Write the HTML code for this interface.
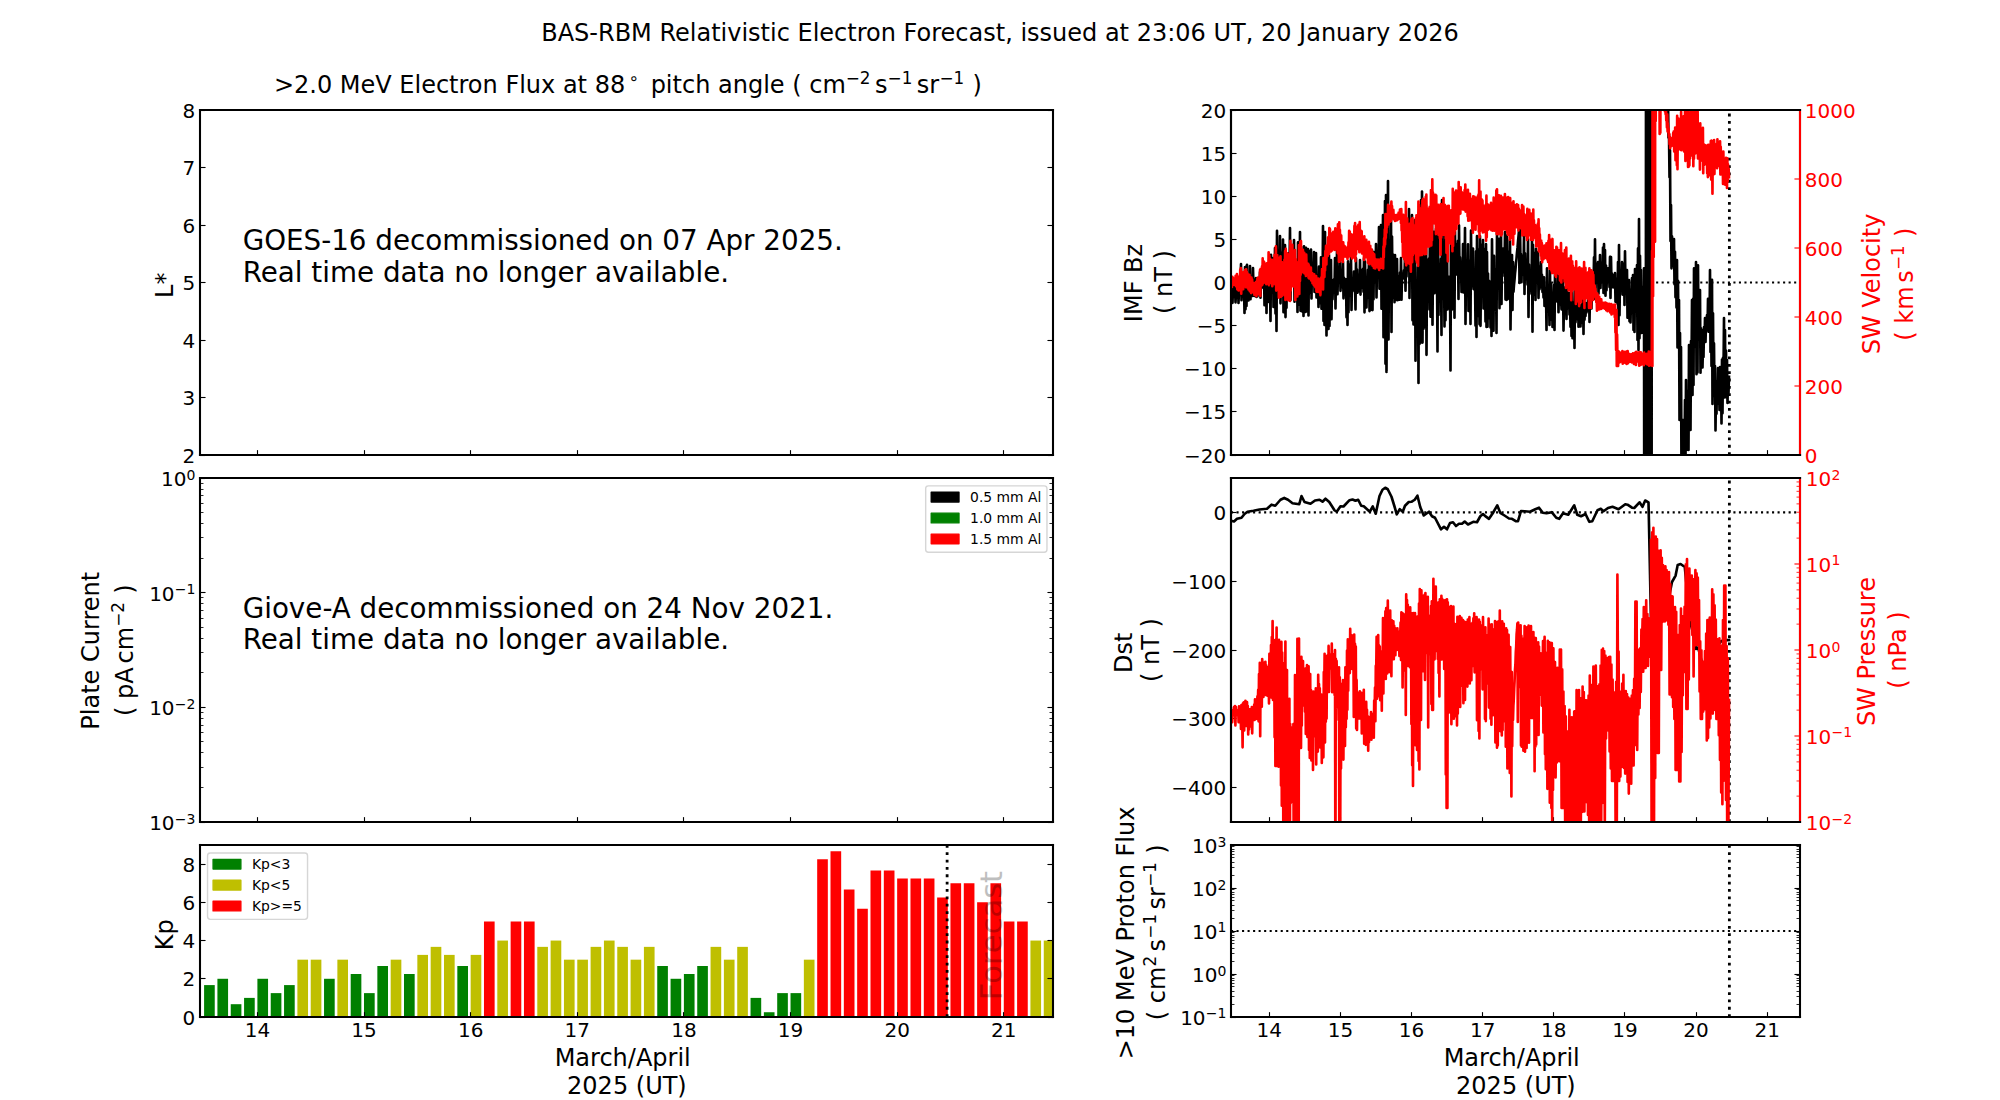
<!DOCTYPE html>
<html lang="en"><head><meta charset="utf-8"><title>BAS-RBM Relativistic Electron Forecast</title>
<style>html,body{margin:0;padding:0;background:#fff}svg{display:block}</style></head>
<body>
<svg width="2000" height="1100" viewBox="0 0 1440 792">
<defs>
<style type="text/css">*{stroke-linejoin: round; stroke-linecap: butt}</style>
</defs>
<g id="figure_1">
<g id="patch_1">
<path d="M 0 792 L 1440 792 L 1440 0 L 0 0 z
" style="fill: #ffffff"/>
</g>
<g id="axes_1">
<g id="patch_2">
<path d="M 144 327.6 L 758.16 327.6 L 758.16 79.2 L 144 79.2 z
" style="fill: #ffffff"/>
</g>
<g id="matplotlib.axis_1">
<g id="xtick_1">
<g id="line2d_1">
<g>
<path d="M 185.400 327.600 L 185.400 324.100" style="stroke: #000000; stroke-width: 0.8"/>
</g>
</g>
</g>
<g id="xtick_2">
<g id="line2d_2">
<g>
<path d="M 262.440 327.600 L 262.440 324.100" style="stroke: #000000; stroke-width: 0.8"/>
</g>
</g>
</g>
<g id="xtick_3">
<g id="line2d_3">
<g>
<path d="M 338.760 327.600 L 338.760 324.100" style="stroke: #000000; stroke-width: 0.8"/>
</g>
</g>
</g>
<g id="xtick_4">
<g id="line2d_4">
<g>
<path d="M 415.800 327.600 L 415.800 324.100" style="stroke: #000000; stroke-width: 0.8"/>
</g>
</g>
</g>
<g id="xtick_5">
<g id="line2d_5">
<g>
<path d="M 492.120 327.600 L 492.120 324.100" style="stroke: #000000; stroke-width: 0.8"/>
</g>
</g>
</g>
<g id="xtick_6">
<g id="line2d_6">
<g>
<path d="M 569.160 327.600 L 569.160 324.100" style="stroke: #000000; stroke-width: 0.8"/>
</g>
</g>
</g>
<g id="xtick_7">
<g id="line2d_7">
<g>
<path d="M 646.200 327.600 L 646.200 324.100" style="stroke: #000000; stroke-width: 0.8"/>
</g>
</g>
</g>
<g id="xtick_8">
<g id="line2d_8">
<g>
<path d="M 722.520 327.600 L 722.520 324.100" style="stroke: #000000; stroke-width: 0.8"/>
</g>
</g>
</g>
</g>
<g id="matplotlib.axis_2">
<g id="ytick_1">
<g id="line2d_9">
<g>
<path d="M 144.000 327.960 L 148.000 327.960" style="stroke: #000000; stroke-width: 0.8"/>
</g>
</g>
<g id="line2d_10">
<g>
<path d="M 758.160 327.960 L 754.160 327.960" style="stroke: #000000; stroke-width: 0.8"/>
</g>
</g>
<g id="text_1">
<text style="font-size: 14.4px; font-family: 'DejaVu Sans', sans-serif; text-anchor: end" x="140.5" y="333.070" transform="rotate(-0 140.5 333.070)">2</text>
</g>
</g>
<g id="ytick_2">
<g id="line2d_11">
<g>
<path d="M 144.000 286.200 L 148.000 286.200" style="stroke: #000000; stroke-width: 0.8"/>
</g>
</g>
<g id="line2d_12">
<g>
<path d="M 758.160 286.200 L 754.160 286.200" style="stroke: #000000; stroke-width: 0.8"/>
</g>
</g>
<g id="text_2">
<text style="font-size: 14.4px; font-family: 'DejaVu Sans', sans-serif; text-anchor: end" x="140.5" y="291.670" transform="rotate(-0 140.5 291.670)">3</text>
</g>
</g>
<g id="ytick_3">
<g id="line2d_13">
<g>
<path d="M 144.000 245.160 L 148.000 245.160" style="stroke: #000000; stroke-width: 0.8"/>
</g>
</g>
<g id="line2d_14">
<g>
<path d="M 758.160 245.160 L 754.160 245.160" style="stroke: #000000; stroke-width: 0.8"/>
</g>
</g>
<g id="text_3">
<text style="font-size: 14.4px; font-family: 'DejaVu Sans', sans-serif; text-anchor: end" x="140.5" y="250.270" transform="rotate(-0 140.5 250.270)">4</text>
</g>
</g>
<g id="ytick_4">
<g id="line2d_15">
<g>
<path d="M 144.000 203.400 L 148.000 203.400" style="stroke: #000000; stroke-width: 0.8"/>
</g>
</g>
<g id="line2d_16">
<g>
<path d="M 758.160 203.400 L 754.160 203.400" style="stroke: #000000; stroke-width: 0.8"/>
</g>
</g>
<g id="text_4">
<text style="font-size: 14.4px; font-family: 'DejaVu Sans', sans-serif; text-anchor: end" x="140.5" y="208.870" transform="rotate(-0 140.5 208.870)">5</text>
</g>
</g>
<g id="ytick_5">
<g id="line2d_17">
<g>
<path d="M 144.000 162.360 L 148.000 162.360" style="stroke: #000000; stroke-width: 0.8"/>
</g>
</g>
<g id="line2d_18">
<g>
<path d="M 758.160 162.360 L 754.160 162.360" style="stroke: #000000; stroke-width: 0.8"/>
</g>
</g>
<g id="text_5">
<text style="font-size: 14.4px; font-family: 'DejaVu Sans', sans-serif; text-anchor: end" x="140.5" y="167.470" transform="rotate(-0 140.5 167.470)">6</text>
</g>
</g>
<g id="ytick_6">
<g id="line2d_19">
<g>
<path d="M 144.000 120.600 L 148.000 120.600" style="stroke: #000000; stroke-width: 0.8"/>
</g>
</g>
<g id="line2d_20">
<g>
<path d="M 758.160 120.600 L 754.160 120.600" style="stroke: #000000; stroke-width: 0.8"/>
</g>
</g>
<g id="text_6">
<text style="font-size: 14.4px; font-family: 'DejaVu Sans', sans-serif; text-anchor: end" x="140.5" y="126.070" transform="rotate(-0 140.5 126.070)">7</text>
</g>
</g>
<g id="ytick_7">
<g id="line2d_21">
<g>
<path d="M 144.000 79.560 L 148.000 79.560" style="stroke: #000000; stroke-width: 0.8"/>
</g>
</g>
<g id="line2d_22">
<g>
<path d="M 758.160 79.560 L 754.160 79.560" style="stroke: #000000; stroke-width: 0.8"/>
</g>
</g>
<g id="text_7">
<text style="font-size: 14.4px; font-family: 'DejaVu Sans', sans-serif; text-anchor: end" x="140.5" y="84.670" transform="rotate(-0 140.5 84.670)">8</text>
</g>
</g>
<g id="text_8">
<text style="font-size: 17.28px; font-family: 'DejaVu Sans', sans-serif; text-anchor: middle" x="124.464" y="205.344" transform="rotate(-90 124.464 205.344)">L*</text>
</g>
</g>
<g id="patch_3">
<path d="M 144 327.6 L 144 79.2 
" style="fill: none; stroke: #000000; stroke-width: 1.5; stroke-linejoin: miter; stroke-linecap: square"/>
</g>
<g id="patch_4">
<path d="M 758.16 327.6 L 758.16 79.2 
" style="fill: none; stroke: #000000; stroke-width: 1.5; stroke-linejoin: miter; stroke-linecap: square"/>
</g>
<g id="patch_5">
<path d="M 144 327.6 L 758.16 327.6 
" style="fill: none; stroke: #000000; stroke-width: 1.5; stroke-linejoin: miter; stroke-linecap: square"/>
</g>
<g id="patch_6">
<path d="M 144 79.2 L 758.16 79.2 
" style="fill: none; stroke: #000000; stroke-width: 1.5; stroke-linejoin: miter; stroke-linecap: square"/>
</g>
<g id="text_9">
<text style="font-size: 20px; font-family: 'DejaVu Sans', sans-serif" transform="translate(174.708 180.332)">GOES-16 decommissioned on 07 Apr 2025.</text>
<text style="font-size: 20px; font-family: 'DejaVu Sans', sans-serif" transform="translate(174.708 202.728)">Real time data no longer available.</text>
</g>
<g id="text_10">
<g transform="translate(197.208 67.68)">
<text xml:space="preserve"><tspan x="0.00" y="-0.654" style="font-size: 17.28px; font-family: 'DejaVu Sans', sans-serif">&gt;2.0 MeV Electron Flux at 88</tspan><tspan x="255.39" y="-7.162" style="font-size: 12.096px; font-family: 'DejaVu Sans', sans-serif">∘</tspan><tspan x="265.76" y="-0.654" style="font-size: 17.28px; font-family: 'DejaVu Sans', sans-serif"> pitch angle ( cm</tspan><tspan x="411.66" y="-7.162" style="font-size: 12.096px; font-family: 'DejaVu Sans', sans-serif">−2</tspan><tspan x="432.72" y="-0.654" style="font-size: 17.28px; font-family: 'DejaVu Sans', sans-serif">s</tspan><tspan x="441.87" y="-7.162" style="font-size: 12.096px; font-family: 'DejaVu Sans', sans-serif">−1</tspan><tspan x="462.94" y="-0.654" style="font-size: 17.28px; font-family: 'DejaVu Sans', sans-serif">sr</tspan><tspan x="479.18" y="-7.162" style="font-size: 12.096px; font-family: 'DejaVu Sans', sans-serif">−1</tspan><tspan x="497.44" y="-0.654" style="font-size: 17.28px; font-family: 'DejaVu Sans', sans-serif"> )</tspan></text>
</g>
</g>
</g>
<g id="axes_2">
<g id="patch_7">
<path d="M 144 591.84 L 758.16 591.84 L 758.16 344.16 L 144 344.16 z
" style="fill: #ffffff"/>
</g>
<g id="matplotlib.axis_3">
<g id="xtick_9">
<g id="line2d_23">
<g>
<path d="M 185.400 591.840 L 185.400 588.340" style="stroke: #000000; stroke-width: 0.8"/>
</g>
</g>
</g>
<g id="xtick_10">
<g id="line2d_24">
<g>
<path d="M 262.440 591.840 L 262.440 588.340" style="stroke: #000000; stroke-width: 0.8"/>
</g>
</g>
</g>
<g id="xtick_11">
<g id="line2d_25">
<g>
<path d="M 338.760 591.840 L 338.760 588.340" style="stroke: #000000; stroke-width: 0.8"/>
</g>
</g>
</g>
<g id="xtick_12">
<g id="line2d_26">
<g>
<path d="M 415.800 591.840 L 415.800 588.340" style="stroke: #000000; stroke-width: 0.8"/>
</g>
</g>
</g>
<g id="xtick_13">
<g id="line2d_27">
<g>
<path d="M 492.120 591.840 L 492.120 588.340" style="stroke: #000000; stroke-width: 0.8"/>
</g>
</g>
</g>
<g id="xtick_14">
<g id="line2d_28">
<g>
<path d="M 569.160 591.840 L 569.160 588.340" style="stroke: #000000; stroke-width: 0.8"/>
</g>
</g>
</g>
<g id="xtick_15">
<g id="line2d_29">
<g>
<path d="M 646.200 591.840 L 646.200 588.340" style="stroke: #000000; stroke-width: 0.8"/>
</g>
</g>
</g>
<g id="xtick_16">
<g id="line2d_30">
<g>
<path d="M 722.520 591.840 L 722.520 588.340" style="stroke: #000000; stroke-width: 0.8"/>
</g>
</g>
</g>
</g>
<g id="matplotlib.axis_4">
<g id="ytick_8">
<g id="line2d_31">
<g>
<path d="M 144.000 592.200 L 148.000 592.200" style="stroke: #000000; stroke-width: 0.8"/>
</g>
</g>
<g id="line2d_32">
<g>
<path d="M 758.160 592.200 L 754.160 592.200" style="stroke: #000000; stroke-width: 0.8"/>
</g>
</g>
<g id="text_11">
<g transform="translate(107.380 598.031)">
<text xml:space="preserve"><tspan x="0.00" y="-0.367" style="font-size: 14.4px; font-family: 'DejaVu Sans', sans-serif">10</tspan><tspan x="18.43" y="-5.01" style="font-size: 10.08px; font-family: 'DejaVu Sans', sans-serif">−3</tspan></text>
</g>
</g>
</g>
<g id="ytick_9">
<g id="line2d_33">
<g>
<path d="M 144.000 509.400 L 148.000 509.400" style="stroke: #000000; stroke-width: 0.8"/>
</g>
</g>
<g id="line2d_34">
<g>
<path d="M 758.160 509.400 L 754.160 509.400" style="stroke: #000000; stroke-width: 0.8"/>
</g>
</g>
<g id="text_12">
<g transform="translate(107.380 515.471)">
<text xml:space="preserve"><tspan x="0.00" y="-0.367" style="font-size: 14.4px; font-family: 'DejaVu Sans', sans-serif">10</tspan><tspan x="18.43" y="-5.01" style="font-size: 10.08px; font-family: 'DejaVu Sans', sans-serif">−2</tspan></text>
</g>
</g>
</g>
<g id="ytick_10">
<g id="line2d_35">
<g>
<path d="M 144.000 426.600 L 148.000 426.600" style="stroke: #000000; stroke-width: 0.8"/>
</g>
</g>
<g id="line2d_36">
<g>
<path d="M 758.160 426.600 L 754.160 426.600" style="stroke: #000000; stroke-width: 0.8"/>
</g>
</g>
<g id="text_13">
<g transform="translate(107.380 432.911)">
<text xml:space="preserve"><tspan x="0.00" y="-0.498" style="font-size: 14.4px; font-family: 'DejaVu Sans', sans-serif">10</tspan><tspan x="18.43" y="-5.14" style="font-size: 10.08px; font-family: 'DejaVu Sans', sans-serif">−1</tspan></text>
</g>
</g>
</g>
<g id="ytick_11">
<g id="line2d_37">
<g>
<path d="M 144.000 344.520 L 148.000 344.520" style="stroke: #000000; stroke-width: 0.8"/>
</g>
</g>
<g id="line2d_38">
<g>
<path d="M 758.160 344.520 L 754.160 344.520" style="stroke: #000000; stroke-width: 0.8"/>
</g>
</g>
<g id="text_14">
<g transform="translate(115.876 350.351)">
<text xml:space="preserve"><tspan x="0.00" y="-0.367" style="font-size: 14.4px; font-family: 'DejaVu Sans', sans-serif">10</tspan><tspan x="18.43" y="-5.01" style="font-size: 10.08px; font-family: 'DejaVu Sans', sans-serif">0</tspan></text>
</g>
</g>
</g>
<g id="ytick_12">
<g id="line2d_39">
<g>
<path d="M 144.000 567.000 L 146.500 567.000" style="stroke: #000000; stroke-width: 0.6"/>
</g>
</g>
<g id="line2d_40">
<g>
<path d="M 758.160 567.000 L 755.660 567.000" style="stroke: #000000; stroke-width: 0.6"/>
</g>
</g>
</g>
<g id="ytick_13">
<g id="line2d_41">
<g>
<path d="M 144.000 552.600 L 146.500 552.600" style="stroke: #000000; stroke-width: 0.6"/>
</g>
</g>
<g id="line2d_42">
<g>
<path d="M 758.160 552.600 L 755.660 552.600" style="stroke: #000000; stroke-width: 0.6"/>
</g>
</g>
</g>
<g id="ytick_14">
<g id="line2d_43">
<g>
<path d="M 144.000 541.800 L 146.500 541.800" style="stroke: #000000; stroke-width: 0.6"/>
</g>
</g>
<g id="line2d_44">
<g>
<path d="M 758.160 541.800 L 755.660 541.800" style="stroke: #000000; stroke-width: 0.6"/>
</g>
</g>
</g>
<g id="ytick_15">
<g id="line2d_45">
<g>
<path d="M 144.000 533.880 L 146.500 533.880" style="stroke: #000000; stroke-width: 0.6"/>
</g>
</g>
<g id="line2d_46">
<g>
<path d="M 758.160 533.880 L 755.660 533.880" style="stroke: #000000; stroke-width: 0.6"/>
</g>
</g>
</g>
<g id="ytick_16">
<g id="line2d_47">
<g>
<path d="M 144.000 527.400 L 146.500 527.400" style="stroke: #000000; stroke-width: 0.6"/>
</g>
</g>
<g id="line2d_48">
<g>
<path d="M 758.160 527.400 L 755.660 527.400" style="stroke: #000000; stroke-width: 0.6"/>
</g>
</g>
</g>
<g id="ytick_17">
<g id="line2d_49">
<g>
<path d="M 144.000 522.360 L 146.500 522.360" style="stroke: #000000; stroke-width: 0.6"/>
</g>
</g>
<g id="line2d_50">
<g>
<path d="M 758.160 522.360 L 755.660 522.360" style="stroke: #000000; stroke-width: 0.6"/>
</g>
</g>
</g>
<g id="ytick_18">
<g id="line2d_51">
<g>
<path d="M 144.000 517.320 L 146.500 517.320" style="stroke: #000000; stroke-width: 0.6"/>
</g>
</g>
<g id="line2d_52">
<g>
<path d="M 758.160 517.320 L 755.660 517.320" style="stroke: #000000; stroke-width: 0.6"/>
</g>
</g>
</g>
<g id="ytick_19">
<g id="line2d_53">
<g>
<path d="M 144.000 513.000 L 146.500 513.000" style="stroke: #000000; stroke-width: 0.6"/>
</g>
</g>
<g id="line2d_54">
<g>
<path d="M 758.160 513.000 L 755.660 513.000" style="stroke: #000000; stroke-width: 0.6"/>
</g>
</g>
</g>
<g id="ytick_20">
<g id="line2d_55">
<g>
<path d="M 144.000 484.200 L 146.500 484.200" style="stroke: #000000; stroke-width: 0.6"/>
</g>
</g>
<g id="line2d_56">
<g>
<path d="M 758.160 484.200 L 755.660 484.200" style="stroke: #000000; stroke-width: 0.6"/>
</g>
</g>
</g>
<g id="ytick_21">
<g id="line2d_57">
<g>
<path d="M 144.000 469.800 L 146.500 469.800" style="stroke: #000000; stroke-width: 0.6"/>
</g>
</g>
<g id="line2d_58">
<g>
<path d="M 758.160 469.800 L 755.660 469.800" style="stroke: #000000; stroke-width: 0.6"/>
</g>
</g>
</g>
<g id="ytick_22">
<g id="line2d_59">
<g>
<path d="M 144.000 459.720 L 146.500 459.720" style="stroke: #000000; stroke-width: 0.6"/>
</g>
</g>
<g id="line2d_60">
<g>
<path d="M 758.160 459.720 L 755.660 459.720" style="stroke: #000000; stroke-width: 0.6"/>
</g>
</g>
</g>
<g id="ytick_23">
<g id="line2d_61">
<g>
<path d="M 144.000 451.800 L 146.500 451.800" style="stroke: #000000; stroke-width: 0.6"/>
</g>
</g>
<g id="line2d_62">
<g>
<path d="M 758.160 451.800 L 755.660 451.800" style="stroke: #000000; stroke-width: 0.6"/>
</g>
</g>
</g>
<g id="ytick_24">
<g id="line2d_63">
<g>
<path d="M 144.000 445.320 L 146.500 445.320" style="stroke: #000000; stroke-width: 0.6"/>
</g>
</g>
<g id="line2d_64">
<g>
<path d="M 758.160 445.320 L 755.660 445.320" style="stroke: #000000; stroke-width: 0.6"/>
</g>
</g>
</g>
<g id="ytick_25">
<g id="line2d_65">
<g>
<path d="M 144.000 439.560 L 146.500 439.560" style="stroke: #000000; stroke-width: 0.6"/>
</g>
</g>
<g id="line2d_66">
<g>
<path d="M 758.160 439.560 L 755.660 439.560" style="stroke: #000000; stroke-width: 0.6"/>
</g>
</g>
</g>
<g id="ytick_26">
<g id="line2d_67">
<g>
<path d="M 144.000 434.520 L 146.500 434.520" style="stroke: #000000; stroke-width: 0.6"/>
</g>
</g>
<g id="line2d_68">
<g>
<path d="M 758.160 434.520 L 755.660 434.520" style="stroke: #000000; stroke-width: 0.6"/>
</g>
</g>
</g>
<g id="ytick_27">
<g id="line2d_69">
<g>
<path d="M 144.000 430.200 L 146.500 430.200" style="stroke: #000000; stroke-width: 0.6"/>
</g>
</g>
<g id="line2d_70">
<g>
<path d="M 758.160 430.200 L 755.660 430.200" style="stroke: #000000; stroke-width: 0.6"/>
</g>
</g>
</g>
<g id="ytick_28">
<g id="line2d_71">
<g>
<path d="M 144.000 402.120 L 146.500 402.120" style="stroke: #000000; stroke-width: 0.6"/>
</g>
</g>
<g id="line2d_72">
<g>
<path d="M 758.160 402.120 L 755.660 402.120" style="stroke: #000000; stroke-width: 0.6"/>
</g>
</g>
</g>
<g id="ytick_29">
<g id="line2d_73">
<g>
<path d="M 144.000 387.000 L 146.500 387.000" style="stroke: #000000; stroke-width: 0.6"/>
</g>
</g>
<g id="line2d_74">
<g>
<path d="M 758.160 387.000 L 755.660 387.000" style="stroke: #000000; stroke-width: 0.6"/>
</g>
</g>
</g>
<g id="ytick_30">
<g id="line2d_75">
<g>
<path d="M 144.000 376.920 L 146.500 376.920" style="stroke: #000000; stroke-width: 0.6"/>
</g>
</g>
<g id="line2d_76">
<g>
<path d="M 758.160 376.920 L 755.660 376.920" style="stroke: #000000; stroke-width: 0.6"/>
</g>
</g>
</g>
<g id="ytick_31">
<g id="line2d_77">
<g>
<path d="M 144.000 369.000 L 146.500 369.000" style="stroke: #000000; stroke-width: 0.6"/>
</g>
</g>
<g id="line2d_78">
<g>
<path d="M 758.160 369.000 L 755.660 369.000" style="stroke: #000000; stroke-width: 0.6"/>
</g>
</g>
</g>
<g id="ytick_32">
<g id="line2d_79">
<g>
<path d="M 144.000 362.520 L 146.500 362.520" style="stroke: #000000; stroke-width: 0.6"/>
</g>
</g>
<g id="line2d_80">
<g>
<path d="M 758.160 362.520 L 755.660 362.520" style="stroke: #000000; stroke-width: 0.6"/>
</g>
</g>
</g>
<g id="ytick_33">
<g id="line2d_81">
<g>
<path d="M 144.000 356.760 L 146.500 356.760" style="stroke: #000000; stroke-width: 0.6"/>
</g>
</g>
<g id="line2d_82">
<g>
<path d="M 758.160 356.760 L 755.660 356.760" style="stroke: #000000; stroke-width: 0.6"/>
</g>
</g>
</g>
<g id="ytick_34">
<g id="line2d_83">
<g>
<path d="M 144.000 352.440 L 146.500 352.440" style="stroke: #000000; stroke-width: 0.6"/>
</g>
</g>
<g id="line2d_84">
<g>
<path d="M 758.160 352.440 L 755.660 352.440" style="stroke: #000000; stroke-width: 0.6"/>
</g>
</g>
</g>
<g id="ytick_35">
<g id="line2d_85">
<g>
<path d="M 144.000 348.120 L 146.500 348.120" style="stroke: #000000; stroke-width: 0.6"/>
</g>
</g>
<g id="line2d_86">
<g>
<path d="M 758.160 348.120 L 755.660 348.120" style="stroke: #000000; stroke-width: 0.6"/>
</g>
</g>
</g>
<g id="text_15">
<text style="font-size: 17.28px; font-family: 'DejaVu Sans', sans-serif" transform="translate(71.417 525.370) rotate(-90)">Plate Current</text>
<g transform="translate(96.257 515.434) rotate(-90)">
<text xml:space="preserve"><tspan x="0.00" y="-0.654" style="font-size: 17.28px; font-family: 'DejaVu Sans', sans-serif">( pA</tspan><tspan x="37.76" y="-0.654" style="font-size: 17.28px; font-family: 'DejaVu Sans', sans-serif">cm</tspan><tspan x="64.21" y="-7.162" style="font-size: 12.096px; font-family: 'DejaVu Sans', sans-serif">−2</tspan><tspan x="82.48" y="-0.654" style="font-size: 17.28px; font-family: 'DejaVu Sans', sans-serif"> )</tspan></text>
</g>
</g>
</g>
<g id="patch_8">
<path d="M 144 591.84 L 144 344.16 
" style="fill: none; stroke: #000000; stroke-width: 1.5; stroke-linejoin: miter; stroke-linecap: square"/>
</g>
<g id="patch_9">
<path d="M 758.16 591.84 L 758.16 344.16 
" style="fill: none; stroke: #000000; stroke-width: 1.5; stroke-linejoin: miter; stroke-linecap: square"/>
</g>
<g id="patch_10">
<path d="M 144 591.84 L 758.16 591.84 
" style="fill: none; stroke: #000000; stroke-width: 1.5; stroke-linejoin: miter; stroke-linecap: square"/>
</g>
<g id="patch_11">
<path d="M 144 344.16 L 758.16 344.16 
" style="fill: none; stroke: #000000; stroke-width: 1.5; stroke-linejoin: miter; stroke-linecap: square"/>
</g>
<g id="text_16">
<text style="font-size: 20px; font-family: 'DejaVu Sans', sans-serif" transform="translate(174.708 444.983)">Giove-A decommissioned on 24 Nov 2021.</text>
<text style="font-size: 20px; font-family: 'DejaVu Sans', sans-serif" transform="translate(174.708 467.378)">Real time data no longer available.</text>
</g>
<g id="legend_1">
<g id="patch_12">
<path d="M 668.484 397.621 L 751.810 397.621 Q 753.81 397.621 753.81 395.622 L 753.81 351.805 Q 753.81 349.806 751.810 349.806 L 668.484 349.806 Q 666.485 349.806 666.485 351.805 L 666.485 395.622 Q 666.485 397.621 668.484 397.621 z
" style="fill: #ffffff; opacity: 0.8; stroke: #cccccc; stroke-linejoin: round"/>
</g>
<g id="patch_13">
<path d="M 670.483 361.399 L 690.475 361.399 L 690.475 354.402 L 670.483 354.402 z
" style="stroke: #000000; stroke-linejoin: round"/>
</g>
<g id="text_17">
<text style="font-size: 9.996px; font-family: 'DejaVu Sans', sans-serif; text-anchor: start" x="698.472" y="361.399" transform="rotate(-0 698.472 361.399)">0.5 mm Al</text>
</g>
<g id="patch_14">
<path d="M 670.483 376.471 L 690.475 376.471 L 690.475 369.474 L 670.483 369.474 z
" style="fill: #008000; stroke: #008000; stroke-linejoin: round"/>
</g>
<g id="text_18">
<text style="font-size: 9.996px; font-family: 'DejaVu Sans', sans-serif; text-anchor: start" x="698.472" y="376.471" transform="rotate(-0 698.472 376.471)">1.0 mm Al</text>
</g>
<g id="patch_15">
<path d="M 670.483 391.543 L 690.475 391.543 L 690.475 384.546 L 670.483 384.546 z
" style="fill: #ff0000; stroke: #ff0000; stroke-linejoin: round"/>
</g>
<g id="text_19">
<text style="font-size: 9.996px; font-family: 'DejaVu Sans', sans-serif; text-anchor: start" x="698.472" y="391.543" transform="rotate(-0 698.472 391.543)">1.5 mm Al</text>
</g>
</g>
</g>
<g id="axes_3">
<g id="patch_16">
<path d="M 144 732.24 L 758.16 732.24 L 758.16 608.4 L 144 608.4 z
" style="fill: #ffffff"/>
</g>
<g id="patch_17">
<path d="M 146.940 732.24 L 154.617 732.24 L 154.617 709.260 L 146.940 709.260 z
" clip-path="url(#p100f9cde19)" style="fill: #008000"/>
</g>
<g id="patch_18">
<path d="M 156.536 732.24 L 164.213 732.24 L 164.213 704.72 L 156.536 704.72 z
" clip-path="url(#p100f9cde19)" style="fill: #008000"/>
</g>
<g id="patch_19">
<path d="M 166.132 732.24 L 173.809 732.24 L 173.809 723.020 L 166.132 723.020 z
" clip-path="url(#p100f9cde19)" style="fill: #008000"/>
</g>
<g id="patch_20">
<path d="M 175.729 732.24 L 183.406 732.24 L 183.406 718.48 L 175.729 718.48 z
" clip-path="url(#p100f9cde19)" style="fill: #008000"/>
</g>
<g id="patch_21">
<path d="M 185.325 732.24 L 193.002 732.24 L 193.002 704.72 L 185.325 704.72 z
" clip-path="url(#p100f9cde19)" style="fill: #008000"/>
</g>
<g id="patch_22">
<path d="M 194.921 732.24 L 202.598 732.24 L 202.598 715.04 L 194.921 715.04 z
" clip-path="url(#p100f9cde19)" style="fill: #008000"/>
</g>
<g id="patch_23">
<path d="M 204.517 732.24 L 212.194 732.24 L 212.194 709.260 L 204.517 709.260 z
" clip-path="url(#p100f9cde19)" style="fill: #008000"/>
</g>
<g id="patch_24">
<path d="M 214.114 732.24 L 221.791 732.24 L 221.791 690.96 L 214.114 690.96 z
" clip-path="url(#p100f9cde19)" style="fill: #bfbf00"/>
</g>
<g id="patch_25">
<path d="M 223.710 732.24 L 231.387 732.24 L 231.387 690.96 L 223.710 690.96 z
" clip-path="url(#p100f9cde19)" style="fill: #bfbf00"/>
</g>
<g id="patch_26">
<path d="M 233.306 732.24 L 240.983 732.24 L 240.983 704.72 L 233.306 704.72 z
" clip-path="url(#p100f9cde19)" style="fill: #008000"/>
</g>
<g id="patch_27">
<path d="M 242.902 732.24 L 250.579 732.24 L 250.579 690.96 L 242.902 690.96 z
" clip-path="url(#p100f9cde19)" style="fill: #bfbf00"/>
</g>
<g id="patch_28">
<path d="M 252.499 732.24 L 260.176 732.24 L 260.176 701.28 L 252.499 701.28 z
" clip-path="url(#p100f9cde19)" style="fill: #008000"/>
</g>
<g id="patch_29">
<path d="M 262.095 732.24 L 269.772 732.24 L 269.772 715.04 L 262.095 715.04 z
" clip-path="url(#p100f9cde19)" style="fill: #008000"/>
</g>
<g id="patch_30">
<path d="M 271.691 732.24 L 279.368 732.24 L 279.368 695.500 L 271.691 695.500 z
" clip-path="url(#p100f9cde19)" style="fill: #008000"/>
</g>
<g id="patch_31">
<path d="M 281.287 732.24 L 288.964 732.24 L 288.964 690.96 L 281.287 690.96 z
" clip-path="url(#p100f9cde19)" style="fill: #bfbf00"/>
</g>
<g id="patch_32">
<path d="M 290.884 732.24 L 298.561 732.24 L 298.561 701.28 L 290.884 701.28 z
" clip-path="url(#p100f9cde19)" style="fill: #008000"/>
</g>
<g id="patch_33">
<path d="M 300.480 732.24 L 308.157 732.24 L 308.157 687.52 L 300.480 687.52 z
" clip-path="url(#p100f9cde19)" style="fill: #bfbf00"/>
</g>
<g id="patch_34">
<path d="M 310.076 732.24 L 317.753 732.24 L 317.753 681.740 L 310.076 681.740 z
" clip-path="url(#p100f9cde19)" style="fill: #bfbf00"/>
</g>
<g id="patch_35">
<path d="M 319.672 732.24 L 327.349 732.24 L 327.349 687.52 L 319.672 687.52 z
" clip-path="url(#p100f9cde19)" style="fill: #bfbf00"/>
</g>
<g id="patch_36">
<path d="M 329.269 732.24 L 336.946 732.24 L 336.946 695.500 L 329.269 695.500 z
" clip-path="url(#p100f9cde19)" style="fill: #008000"/>
</g>
<g id="patch_37">
<path d="M 338.865 732.24 L 346.542 732.24 L 346.542 687.52 L 338.865 687.52 z
" clip-path="url(#p100f9cde19)" style="fill: #bfbf00"/>
</g>
<g id="patch_38">
<path d="M 348.461 732.24 L 356.138 732.24 L 356.138 663.44 L 348.461 663.44 z
" clip-path="url(#p100f9cde19)" style="fill: #ff0000"/>
</g>
<g id="patch_39">
<path d="M 358.057 732.24 L 365.734 732.24 L 365.734 677.2 L 358.057 677.2 z
" clip-path="url(#p100f9cde19)" style="fill: #bfbf00"/>
</g>
<g id="patch_40">
<path d="M 367.654 732.24 L 375.331 732.24 L 375.331 663.44 L 367.654 663.44 z
" clip-path="url(#p100f9cde19)" style="fill: #ff0000"/>
</g>
<g id="patch_41">
<path d="M 377.250 732.24 L 384.927 732.24 L 384.927 663.44 L 377.250 663.44 z
" clip-path="url(#p100f9cde19)" style="fill: #ff0000"/>
</g>
<g id="patch_42">
<path d="M 386.846 732.24 L 394.523 732.24 L 394.523 681.740 L 386.846 681.740 z
" clip-path="url(#p100f9cde19)" style="fill: #bfbf00"/>
</g>
<g id="patch_43">
<path d="M 396.442 732.24 L 404.119 732.24 L 404.119 677.2 L 396.442 677.2 z
" clip-path="url(#p100f9cde19)" style="fill: #bfbf00"/>
</g>
<g id="patch_44">
<path d="M 406.039 732.24 L 413.716 732.24 L 413.716 690.96 L 406.039 690.96 z
" clip-path="url(#p100f9cde19)" style="fill: #bfbf00"/>
</g>
<g id="patch_45">
<path d="M 415.635 732.24 L 423.312 732.24 L 423.312 690.96 L 415.635 690.96 z
" clip-path="url(#p100f9cde19)" style="fill: #bfbf00"/>
</g>
<g id="patch_46">
<path d="M 425.231 732.24 L 432.908 732.24 L 432.908 681.740 L 425.231 681.740 z
" clip-path="url(#p100f9cde19)" style="fill: #bfbf00"/>
</g>
<g id="patch_47">
<path d="M 434.827 732.24 L 442.504 732.24 L 442.504 677.2 L 434.827 677.2 z
" clip-path="url(#p100f9cde19)" style="fill: #bfbf00"/>
</g>
<g id="patch_48">
<path d="M 444.424 732.24 L 452.101 732.24 L 452.101 681.740 L 444.424 681.740 z
" clip-path="url(#p100f9cde19)" style="fill: #bfbf00"/>
</g>
<g id="patch_49">
<path d="M 454.020 732.24 L 461.697 732.24 L 461.697 690.96 L 454.020 690.96 z
" clip-path="url(#p100f9cde19)" style="fill: #bfbf00"/>
</g>
<g id="patch_50">
<path d="M 463.616 732.24 L 471.293 732.24 L 471.293 681.740 L 463.616 681.740 z
" clip-path="url(#p100f9cde19)" style="fill: #bfbf00"/>
</g>
<g id="patch_51">
<path d="M 473.212 732.24 L 480.889 732.24 L 480.889 695.500 L 473.212 695.500 z
" clip-path="url(#p100f9cde19)" style="fill: #008000"/>
</g>
<g id="patch_52">
<path d="M 482.809 732.24 L 490.486 732.24 L 490.486 704.72 L 482.809 704.72 z
" clip-path="url(#p100f9cde19)" style="fill: #008000"/>
</g>
<g id="patch_53">
<path d="M 492.405 732.24 L 500.082 732.24 L 500.082 701.28 L 492.405 701.28 z
" clip-path="url(#p100f9cde19)" style="fill: #008000"/>
</g>
<g id="patch_54">
<path d="M 502.001 732.24 L 509.678 732.24 L 509.678 695.500 L 502.001 695.500 z
" clip-path="url(#p100f9cde19)" style="fill: #008000"/>
</g>
<g id="patch_55">
<path d="M 511.597 732.24 L 519.274 732.24 L 519.274 681.740 L 511.597 681.740 z
" clip-path="url(#p100f9cde19)" style="fill: #bfbf00"/>
</g>
<g id="patch_56">
<path d="M 521.194 732.24 L 528.871 732.24 L 528.871 690.96 L 521.194 690.96 z
" clip-path="url(#p100f9cde19)" style="fill: #bfbf00"/>
</g>
<g id="patch_57">
<path d="M 530.790 732.24 L 538.467 732.24 L 538.467 681.740 L 530.790 681.740 z
" clip-path="url(#p100f9cde19)" style="fill: #bfbf00"/>
</g>
<g id="patch_58">
<path d="M 540.386 732.24 L 548.063 732.24 L 548.063 718.48 L 540.386 718.48 z
" clip-path="url(#p100f9cde19)" style="fill: #008000"/>
</g>
<g id="patch_59">
<path d="M 549.982 732.24 L 557.659 732.24 L 557.659 728.8 L 549.982 728.8 z
" clip-path="url(#p100f9cde19)" style="fill: #008000"/>
</g>
<g id="patch_60">
<path d="M 559.579 732.24 L 567.256 732.24 L 567.256 715.04 L 559.579 715.04 z
" clip-path="url(#p100f9cde19)" style="fill: #008000"/>
</g>
<g id="patch_61">
<path d="M 569.175 732.24 L 576.852 732.24 L 576.852 715.04 L 569.175 715.04 z
" clip-path="url(#p100f9cde19)" style="fill: #008000"/>
</g>
<g id="patch_62">
<path d="M 578.771 732.24 L 586.448 732.24 L 586.448 690.96 L 578.771 690.96 z
" clip-path="url(#p100f9cde19)" style="fill: #bfbf00"/>
</g>
<g id="patch_63">
<path d="M 588.367 732.24 L 596.044 732.24 L 596.044 618.72 L 588.367 618.72 z
" clip-path="url(#p100f9cde19)" style="fill: #ff0000"/>
</g>
<g id="patch_64">
<path d="M 597.964 732.24 L 605.641 732.24 L 605.641 612.940 L 597.964 612.940 z
" clip-path="url(#p100f9cde19)" style="fill: #ff0000"/>
</g>
<g id="patch_65">
<path d="M 607.560 732.24 L 615.237 732.24 L 615.237 640.460 L 607.560 640.460 z
" clip-path="url(#p100f9cde19)" style="fill: #ff0000"/>
</g>
<g id="patch_66">
<path d="M 617.156 732.24 L 624.833 732.24 L 624.833 654.220 L 617.156 654.220 z
" clip-path="url(#p100f9cde19)" style="fill: #ff0000"/>
</g>
<g id="patch_67">
<path d="M 626.752 732.24 L 634.429 732.24 L 634.429 626.700 L 626.752 626.700 z
" clip-path="url(#p100f9cde19)" style="fill: #ff0000"/>
</g>
<g id="patch_68">
<path d="M 636.349 732.24 L 644.026 732.24 L 644.026 626.700 L 636.349 626.700 z
" clip-path="url(#p100f9cde19)" style="fill: #ff0000"/>
</g>
<g id="patch_69">
<path d="M 645.945 732.24 L 653.622 732.24 L 653.622 632.48 L 645.945 632.48 z
" clip-path="url(#p100f9cde19)" style="fill: #ff0000"/>
</g>
<g id="patch_70">
<path d="M 655.541 732.24 L 663.218 732.24 L 663.218 632.48 L 655.541 632.48 z
" clip-path="url(#p100f9cde19)" style="fill: #ff0000"/>
</g>
<g id="patch_71">
<path d="M 665.137 732.24 L 672.814 732.24 L 672.814 632.48 L 665.137 632.48 z
" clip-path="url(#p100f9cde19)" style="fill: #ff0000"/>
</g>
<g id="patch_72">
<path d="M 674.734 732.24 L 682.411 732.24 L 682.411 646.24 L 674.734 646.24 z
" clip-path="url(#p100f9cde19)" style="fill: #ff0000"/>
</g>
<g id="patch_73">
<path d="M 684.330 732.24 L 692.007 732.24 L 692.007 635.92 L 684.330 635.92 z
" clip-path="url(#p100f9cde19)" style="fill: #ff0000"/>
</g>
<g id="patch_74">
<path d="M 693.926 732.24 L 701.603 732.24 L 701.603 635.92 L 693.926 635.92 z
" clip-path="url(#p100f9cde19)" style="fill: #ff0000"/>
</g>
<g id="patch_75">
<path d="M 703.522 732.24 L 711.199 732.24 L 711.199 649.68 L 703.522 649.68 z
" clip-path="url(#p100f9cde19)" style="fill: #ff0000"/>
</g>
<g id="patch_76">
<path d="M 713.119 732.24 L 720.796 732.24 L 720.796 635.92 L 713.119 635.92 z
" clip-path="url(#p100f9cde19)" style="fill: #ff0000"/>
</g>
<g id="patch_77">
<path d="M 722.715 732.24 L 730.392 732.24 L 730.392 663.44 L 722.715 663.44 z
" clip-path="url(#p100f9cde19)" style="fill: #ff0000"/>
</g>
<g id="patch_78">
<path d="M 732.311 732.24 L 739.988 732.24 L 739.988 663.44 L 732.311 663.44 z
" clip-path="url(#p100f9cde19)" style="fill: #ff0000"/>
</g>
<g id="patch_79">
<path d="M 741.907 732.24 L 749.584 732.24 L 749.584 677.2 L 741.907 677.2 z
" clip-path="url(#p100f9cde19)" style="fill: #bfbf00"/>
</g>
<g id="patch_80">
<path d="M 751.504 732.24 L 759.181 732.24 L 759.181 677.2 L 751.504 677.2 z
" clip-path="url(#p100f9cde19)" style="fill: #bfbf00"/>
</g>
<g id="matplotlib.axis_5">
<g id="xtick_17">
<g id="line2d_87">
<g>
<path d="M 185.400 732.240 L 185.400 728.740" style="stroke: #000000; stroke-width: 0.8"/>
</g>
</g>
<g id="text_20">
<text style="font-size: 14.4px; font-family: 'DejaVu Sans', sans-serif; text-anchor: middle" x="185.325" y="746.681" transform="rotate(-0 185.325 746.681)">14</text>
</g>
</g>
<g id="xtick_18">
<g id="line2d_88">
<g>
<path d="M 262.440 732.240 L 262.440 728.740" style="stroke: #000000; stroke-width: 0.8"/>
</g>
</g>
<g id="text_21">
<text style="font-size: 14.4px; font-family: 'DejaVu Sans', sans-serif; text-anchor: middle" x="262.095" y="746.681" transform="rotate(-0 262.095 746.681)">15</text>
</g>
</g>
<g id="xtick_19">
<g id="line2d_89">
<g>
<path d="M 338.760 732.240 L 338.760 728.740" style="stroke: #000000; stroke-width: 0.8"/>
</g>
</g>
<g id="text_22">
<text style="font-size: 14.4px; font-family: 'DejaVu Sans', sans-serif; text-anchor: middle" x="338.865" y="746.681" transform="rotate(-0 338.865 746.681)">16</text>
</g>
</g>
<g id="xtick_20">
<g id="line2d_90">
<g>
<path d="M 415.800 732.240 L 415.800 728.740" style="stroke: #000000; stroke-width: 0.8"/>
</g>
</g>
<g id="text_23">
<text style="font-size: 14.4px; font-family: 'DejaVu Sans', sans-serif; text-anchor: middle" x="415.635" y="746.681" transform="rotate(-0 415.635 746.681)">17</text>
</g>
</g>
<g id="xtick_21">
<g id="line2d_91">
<g>
<path d="M 492.120 732.240 L 492.120 728.740" style="stroke: #000000; stroke-width: 0.8"/>
</g>
</g>
<g id="text_24">
<text style="font-size: 14.4px; font-family: 'DejaVu Sans', sans-serif; text-anchor: middle" x="492.405" y="746.681" transform="rotate(-0 492.405 746.681)">18</text>
</g>
</g>
<g id="xtick_22">
<g id="line2d_92">
<g>
<path d="M 569.160 732.240 L 569.160 728.740" style="stroke: #000000; stroke-width: 0.8"/>
</g>
</g>
<g id="text_25">
<text style="font-size: 14.4px; font-family: 'DejaVu Sans', sans-serif; text-anchor: middle" x="569.175" y="746.681" transform="rotate(-0 569.175 746.681)">19</text>
</g>
</g>
<g id="xtick_23">
<g id="line2d_93">
<g>
<path d="M 646.200 732.240 L 646.200 728.740" style="stroke: #000000; stroke-width: 0.8"/>
</g>
</g>
<g id="text_26">
<text style="font-size: 14.4px; font-family: 'DejaVu Sans', sans-serif; text-anchor: middle" x="645.945" y="746.681" transform="rotate(-0 645.945 746.681)">20</text>
</g>
</g>
<g id="xtick_24">
<g id="line2d_94">
<g>
<path d="M 722.520 732.240 L 722.520 728.740" style="stroke: #000000; stroke-width: 0.8"/>
</g>
</g>
<g id="text_27">
<text style="font-size: 14.4px; font-family: 'DejaVu Sans', sans-serif; text-anchor: middle" x="722.715" y="746.681" transform="rotate(-0 722.715 746.681)">21</text>
</g>
</g>
<g id="text_28">
<text style="font-size: 17.28px; font-family: 'DejaVu Sans', sans-serif" transform="translate(399.341 767.830)">March/April </text>
<text style="font-size: 17.28px; font-family: 'DejaVu Sans', sans-serif" transform="translate(408.290 787.896)">2025 (UT)</text>
</g>
</g>
<g id="matplotlib.axis_6">
<g id="ytick_36">
<g id="line2d_95">
<g>
<path d="M 144.000 732.600 L 148.000 732.600" style="stroke: #000000; stroke-width: 0.8"/>
</g>
</g>
<g id="line2d_96">
<g>
<path d="M 758.160 732.600 L 754.160 732.600" style="stroke: #000000; stroke-width: 0.8"/>
</g>
</g>
<g id="text_29">
<text style="font-size: 14.4px; font-family: 'DejaVu Sans', sans-serif; text-anchor: end" x="140.5" y="737.710" transform="rotate(-0 140.5 737.710)">0</text>
</g>
</g>
<g id="ytick_37">
<g id="line2d_97">
<g>
<path d="M 144.000 704.520 L 148.000 704.520" style="stroke: #000000; stroke-width: 0.8"/>
</g>
</g>
<g id="line2d_98">
<g>
<path d="M 758.160 704.520 L 754.160 704.520" style="stroke: #000000; stroke-width: 0.8"/>
</g>
</g>
<g id="text_30">
<text style="font-size: 14.4px; font-family: 'DejaVu Sans', sans-serif; text-anchor: end" x="140.5" y="710.190" transform="rotate(-0 140.5 710.190)">2</text>
</g>
</g>
<g id="ytick_38">
<g id="line2d_99">
<g>
<path d="M 144.000 677.160 L 148.000 677.160" style="stroke: #000000; stroke-width: 0.8"/>
</g>
</g>
<g id="line2d_100">
<g>
<path d="M 758.160 677.160 L 754.160 677.160" style="stroke: #000000; stroke-width: 0.8"/>
</g>
</g>
<g id="text_31">
<text style="font-size: 14.4px; font-family: 'DejaVu Sans', sans-serif; text-anchor: end" x="140.5" y="682.670" transform="rotate(-0 140.5 682.670)">4</text>
</g>
</g>
<g id="ytick_39">
<g id="line2d_101">
<g>
<path d="M 144.000 649.800 L 148.000 649.800" style="stroke: #000000; stroke-width: 0.8"/>
</g>
</g>
<g id="line2d_102">
<g>
<path d="M 758.160 649.800 L 754.160 649.800" style="stroke: #000000; stroke-width: 0.8"/>
</g>
</g>
<g id="text_32">
<text style="font-size: 14.4px; font-family: 'DejaVu Sans', sans-serif; text-anchor: end" x="140.5" y="655.150" transform="rotate(-0 140.5 655.150)">6</text>
</g>
</g>
<g id="ytick_40">
<g id="line2d_103">
<g>
<path d="M 144.000 622.440 L 148.000 622.440" style="stroke: #000000; stroke-width: 0.8"/>
</g>
</g>
<g id="line2d_104">
<g>
<path d="M 758.160 622.440 L 754.160 622.440" style="stroke: #000000; stroke-width: 0.8"/>
</g>
</g>
<g id="text_33">
<text style="font-size: 14.4px; font-family: 'DejaVu Sans', sans-serif; text-anchor: end" x="140.5" y="627.630" transform="rotate(-0 140.5 627.630)">8</text>
</g>
</g>
<g id="text_34">
<text style="font-size: 17.28px; font-family: 'DejaVu Sans', sans-serif; text-anchor: middle" x="124.464" y="672.984" transform="rotate(-90 124.464 672.984)">Kp</text>
</g>
</g>
<g id="line2d_105">
<path d="M 681.927 732.24 L 681.927 608.4 
" clip-path="url(#p100f9cde19)" style="fill: none; stroke-dasharray: 2,3.3; stroke-dashoffset: 0; stroke: #000000; stroke-width: 2"/>
</g>
<g id="patch_81">
<path d="M 144 732.24 L 144 608.4 
" style="fill: none; stroke: #000000; stroke-width: 1.5; stroke-linejoin: miter; stroke-linecap: square"/>
</g>
<g id="patch_82">
<path d="M 758.16 732.24 L 758.16 608.4 
" style="fill: none; stroke: #000000; stroke-width: 1.5; stroke-linejoin: miter; stroke-linecap: square"/>
</g>
<g id="patch_83">
<path d="M 144 732.24 L 758.16 732.24 
" style="fill: none; stroke: #000000; stroke-width: 1.5; stroke-linejoin: miter; stroke-linecap: square"/>
</g>
<g id="patch_84">
<path d="M 144 608.4 L 758.16 608.4 
" style="fill: none; stroke: #000000; stroke-width: 1.5; stroke-linejoin: miter; stroke-linecap: square"/>
</g>
<g id="text_35">
<text style="font-size: 22px; font-family: 'DejaVu Sans', sans-serif; text-anchor: start; opacity: 0.25" x="721.728" y="720.143" transform="rotate(-90 721.728 720.143)">Forecast</text>
</g>
<g id="legend_2">
<g id="patch_85">
<path d="M 151.429 661.933 L 219.430 661.933 Q 221.429 661.933 221.429 659.934 L 221.429 616.117 Q 221.429 614.118 219.430 614.118 L 151.429 614.118 Q 149.43 614.118 149.43 616.117 L 149.43 659.934 Q 149.43 661.933 151.429 661.933 z
" style="fill: #ffffff; opacity: 0.8; stroke: #cccccc; stroke-linejoin: round"/>
</g>
<g id="patch_86">
<path d="M 153.428 625.711 L 173.420 625.711 L 173.420 618.714 L 153.428 618.714 z
" style="fill: #008000; stroke: #008000; stroke-linejoin: round"/>
</g>
<g id="text_36">
<text style="font-size: 9.996px; font-family: 'DejaVu Sans', sans-serif; text-anchor: start" x="181.417" y="625.711" transform="rotate(-0 181.417 625.711)">Kp&lt;3</text>
</g>
<g id="patch_87">
<path d="M 153.428 640.783 L 173.420 640.783 L 173.420 633.786 L 153.428 633.786 z
" style="fill: #bfbf00; stroke: #bfbf00; stroke-linejoin: round"/>
</g>
<g id="text_37">
<text style="font-size: 9.996px; font-family: 'DejaVu Sans', sans-serif; text-anchor: start" x="181.417" y="640.783" transform="rotate(-0 181.417 640.783)">Kp&lt;5</text>
</g>
<g id="patch_88">
<path d="M 153.428 655.855 L 173.420 655.855 L 173.420 648.858 L 153.428 648.858 z
" style="fill: #ff0000; stroke: #ff0000; stroke-linejoin: round"/>
</g>
<g id="text_38">
<text style="font-size: 9.996px; font-family: 'DejaVu Sans', sans-serif; text-anchor: start" x="181.417" y="655.855" transform="rotate(-0 181.417 655.855)">Kp&gt;=5</text>
</g>
</g>
</g>
<g id="axes_4">
<g id="patch_89">
<path d="M 886.32 327.6 L 1296 327.6 L 1296 79.2 L 886.32 79.2 z
" style="fill: #ffffff"/>
</g>
<g id="matplotlib.axis_7">
<g id="xtick_25">
<g id="line2d_106">
<g>
<path d="M 914.040 327.600 L 914.040 324.100" style="stroke: #000000; stroke-width: 0.8"/>
</g>
</g>
</g>
<g id="xtick_26">
<g id="line2d_107">
<g>
<path d="M 965.160 327.600 L 965.160 324.100" style="stroke: #000000; stroke-width: 0.8"/>
</g>
</g>
</g>
<g id="xtick_27">
<g id="line2d_108">
<g>
<path d="M 1016.280 327.600 L 1016.280 324.100" style="stroke: #000000; stroke-width: 0.8"/>
</g>
</g>
</g>
<g id="xtick_28">
<g id="line2d_109">
<g>
<path d="M 1067.400 327.600 L 1067.400 324.100" style="stroke: #000000; stroke-width: 0.8"/>
</g>
</g>
</g>
<g id="xtick_29">
<g id="line2d_110">
<g>
<path d="M 1118.520 327.600 L 1118.520 324.100" style="stroke: #000000; stroke-width: 0.8"/>
</g>
</g>
</g>
<g id="xtick_30">
<g id="line2d_111">
<g>
<path d="M 1169.640 327.600 L 1169.640 324.100" style="stroke: #000000; stroke-width: 0.8"/>
</g>
</g>
</g>
<g id="xtick_31">
<g id="line2d_112">
<g>
<path d="M 1221.480 327.600 L 1221.480 324.100" style="stroke: #000000; stroke-width: 0.8"/>
</g>
</g>
</g>
<g id="xtick_32">
<g id="line2d_113">
<g>
<path d="M 1272.600 327.600 L 1272.600 324.100" style="stroke: #000000; stroke-width: 0.8"/>
</g>
</g>
</g>
</g>
<g id="matplotlib.axis_8">
<g id="ytick_41">
<g id="line2d_114">
<g>
<path d="M 886.320 327.960 L 890.320 327.960" style="stroke: #000000; stroke-width: 0.8"/>
</g>
</g>
<g id="text_39">
<text style="font-size: 14.4px; font-family: 'DejaVu Sans', sans-serif; text-anchor: end" x="882.82" y="333.070" transform="rotate(-0 882.82 333.070)">−20</text>
</g>
</g>
<g id="ytick_42">
<g id="line2d_115">
<g>
<path d="M 886.320 296.280 L 890.320 296.280" style="stroke: #000000; stroke-width: 0.8"/>
</g>
</g>
<g id="text_40">
<text style="font-size: 14.4px; font-family: 'DejaVu Sans', sans-serif; text-anchor: end" x="882.82" y="302.020" transform="rotate(-0 882.82 302.020)">−15</text>
</g>
</g>
<g id="ytick_43">
<g id="line2d_116">
<g>
<path d="M 886.320 265.320 L 890.320 265.320" style="stroke: #000000; stroke-width: 0.8"/>
</g>
</g>
<g id="text_41">
<text style="font-size: 14.4px; font-family: 'DejaVu Sans', sans-serif; text-anchor: end" x="882.82" y="270.970" transform="rotate(-0 882.82 270.970)">−10</text>
</g>
</g>
<g id="ytick_44">
<g id="line2d_117">
<g>
<path d="M 886.320 234.360 L 890.320 234.360" style="stroke: #000000; stroke-width: 0.8"/>
</g>
</g>
<g id="text_42">
<text style="font-size: 14.4px; font-family: 'DejaVu Sans', sans-serif; text-anchor: end" x="882.82" y="239.920" transform="rotate(-0 882.82 239.920)">−5</text>
</g>
</g>
<g id="ytick_45">
<g id="line2d_118">
<g>
<path d="M 886.320 203.400 L 890.320 203.400" style="stroke: #000000; stroke-width: 0.8"/>
</g>
</g>
<g id="text_43">
<text style="font-size: 14.4px; font-family: 'DejaVu Sans', sans-serif; text-anchor: end" x="882.82" y="208.870" transform="rotate(-0 882.82 208.870)">0</text>
</g>
</g>
<g id="ytick_46">
<g id="line2d_119">
<g>
<path d="M 886.320 172.440 L 890.320 172.440" style="stroke: #000000; stroke-width: 0.8"/>
</g>
</g>
<g id="text_44">
<text style="font-size: 14.4px; font-family: 'DejaVu Sans', sans-serif; text-anchor: end" x="882.82" y="177.820" transform="rotate(-0 882.82 177.820)">5</text>
</g>
</g>
<g id="ytick_47">
<g id="line2d_120">
<g>
<path d="M 886.320 141.480 L 890.320 141.480" style="stroke: #000000; stroke-width: 0.8"/>
</g>
</g>
<g id="text_45">
<text style="font-size: 14.4px; font-family: 'DejaVu Sans', sans-serif; text-anchor: end" x="882.82" y="146.770" transform="rotate(-0 882.82 146.770)">10</text>
</g>
</g>
<g id="ytick_48">
<g id="line2d_121">
<g>
<path d="M 886.320 110.520 L 890.320 110.520" style="stroke: #000000; stroke-width: 0.8"/>
</g>
</g>
<g id="text_46">
<text style="font-size: 14.4px; font-family: 'DejaVu Sans', sans-serif; text-anchor: end" x="882.82" y="115.720" transform="rotate(-0 882.82 115.720)">15</text>
</g>
</g>
<g id="ytick_49">
<g id="line2d_122">
<g>
<path d="M 886.320 79.560 L 890.320 79.560" style="stroke: #000000; stroke-width: 0.8"/>
</g>
</g>
<g id="text_47">
<text style="font-size: 14.4px; font-family: 'DejaVu Sans', sans-serif; text-anchor: end" x="882.82" y="84.670" transform="rotate(-0 882.82 84.670)">20</text>
</g>
</g>
<g id="text_48">
<text style="font-size: 17.28px; font-family: 'DejaVu Sans', sans-serif" transform="translate(822.586 231.941) rotate(-90)">IMF Bz</text>
<text style="font-size: 17.28px; font-family: 'DejaVu Sans', sans-serif" transform="translate(844.099 226.015) rotate(-90)">( nT )</text>
</g>
</g>
<g id="line2d_123">
<path d="M 886.32 203.4 L 1296 203.4 
" clip-path="url(#pf775a465e1)" style="fill: none; stroke-dasharray: 1.5,2.475; stroke-dashoffset: 0; stroke: #000000; stroke-width: 1.5"/>
</g>
<g id="line2d_124">
<path d="M 1245.148 327.6 L 1245.148 79.2 
" clip-path="url(#pf775a465e1)" style="fill: none; stroke-dasharray: 2,3.3; stroke-dashoffset: 0; stroke: #000000; stroke-width: 2"/>
</g>
<g id="line2d_125">
<path d="M 886.32 203.76 L 886.68 217.44 L 887.04 205.2 L 887.4 218.04 L 887.76 206.414 L 888.12 212.386 L 888.48 210.396 L 888.84 213.758 L 889.2 204.48 L 889.56 217.68 L 889.92 210.661 L 890.28 212.921 L 890.64 209.288 L 891 213.514 L 891.36 205.92 L 891.72 218.16 L 892.08 208.031 L 892.44 208.991 L 892.8 204.170 L 893.16 205.634 L 893.52 190.08 L 893.88 216.102 L 894.24 201.273 L 894.6 210.858 L 894.96 201.858 L 895.32 211.072 L 895.68 205.671 L 896.04 225.36 L 896.4 192.33 L 896.76 222.604 L 897.12 191.891 L 897.48 220.32 L 897.84 190.594 L 898.2 209.749 L 898.56 202.065 L 898.92 216.352 L 899.28 198.874 L 899.64 213.811 L 900 191.52 L 900.36 215.424 L 900.72 200.882 L 901.08 206.905 L 901.44 201.121 L 901.8 213.12 L 902.16 193.062 L 902.52 207.756 L 902.88 201.372 L 903.24 213.002 L 903.6 204.514 L 903.96 207.242 L 904.32 200.16 L 904.68 213.84 L 905.04 204.423 L 905.4 213.238 L 905.76 203.915 L 906.12 209.301 L 906.48 201.334 L 906.84 206.870 L 907.2 195.84 L 907.56 214.38 L 907.92 203.158 L 908.28 206.392 L 908.64 203.329 L 909 206.704 L 909.36 203.418 L 909.72 207.276 L 910.08 192.96 L 910.44 219.78 L 910.8 192.817 L 911.16 216.981 L 911.52 190.8 L 911.88 225.36 L 912.24 198.301 L 912.6 211.139 L 912.96 200.361 L 913.32 217.304 L 913.68 204.612 L 914.04 210.303 L 914.4 204.128 L 914.76 231.12 L 915.12 183.456 L 915.48 208.062 L 915.84 201.431 L 916.2 208.156 L 916.56 185.76 L 916.92 221.04 L 917.28 191.474 L 917.64 214.224 L 918 178.618 L 918.36 225.717 L 918.72 185.113 L 919.08 238.32 L 919.44 166.217 L 919.8 203.598 L 920.16 185.435 L 920.52 213.524 L 920.88 185.410 L 921.24 198.047 L 921.6 169.92 L 921.96 218.4 L 922.32 191.850 L 922.68 203.209 L 923.04 181.812 L 923.4 205.962 L 923.76 172.44 L 924.12 224.82 L 924.48 197.265 L 924.84 211.827 L 925.2 176.4 L 925.56 228.312 L 925.92 193.713 L 926.28 221.560 L 926.64 194.251 L 927 207.387 L 927.36 192.092 L 927.72 197.114 L 928.08 182.351 L 928.44 194.596 L 928.8 164.16 L 929.16 216 L 929.52 187.804 L 929.88 203.752 L 930.24 182.536 L 930.6 195.808 L 930.96 189.904 L 931.32 200.136 L 931.68 172.8 L 932.04 217.234 L 932.4 193.450 L 932.76 204.934 L 933.12 195.101 L 933.48 215.133 L 933.84 192.566 L 934.2 224.64 L 934.56 174.528 L 934.92 219.380 L 935.28 185.148 L 935.64 206.253 L 936 167.04 L 936.36 223.817 L 936.72 177.498 L 937.08 205.909 L 937.44 185.388 L 937.8 224.504 L 938.16 189.467 L 938.52 227.52 L 938.88 177.39 L 939.24 204.867 L 939.6 189.699 L 939.96 224.64 L 940.32 178.416 L 940.68 224.025 L 941.04 185.020 L 941.4 213.233 L 941.76 179.28 L 942.12 227.1 L 942.48 180.843 L 942.84 210.793 L 943.2 197.232 L 943.56 201.241 L 943.92 179.64 L 944.28 214.92 L 944.64 189.201 L 945 199.416 L 945.36 193.880 L 945.72 197.679 L 946.08 181.44 L 946.44 210.24 L 946.8 194.391 L 947.16 198.623 L 947.52 182.16 L 947.88 214.128 L 948.24 198.438 L 948.6 207.164 L 948.96 199.703 L 949.32 221.04 L 949.68 192 L 950.04 209.292 L 950.4 194.4 L 950.76 218.28 L 951.12 185.257 L 951.48 222.260 L 951.84 194.676 L 952.2 211.139 L 952.56 162.72 L 952.92 231.12 L 953.28 193.439 L 953.64 234 L 954 167.04 L 954.36 211.208 L 954.72 198.775 L 955.08 241.56 L 955.44 180.72 L 955.8 214.431 L 956.16 191.695 L 956.52 236.794 L 956.88 183.6 L 957.24 234.72 L 957.6 191.167 L 957.96 214.820 L 958.32 187.2 L 958.68 229.77 L 959.04 201.723 L 959.4 215.343 L 959.76 204.473 L 960.12 210.374 L 960.48 201.034 L 960.84 209.616 L 961.2 185.76 L 961.56 222.12 L 961.92 194.420 L 962.28 206.658 L 962.64 180.72 L 963 211.8 L 963.36 195.246 L 963.72 199.048 L 964.08 195.744 L 964.44 199.488 L 964.8 187.2 L 965.16 209.4 L 965.52 196.185 L 965.88 206.748 L 966.24 194.585 L 966.6 201.786 L 966.96 188.64 L 967.32 214.8 L 967.68 200.113 L 968.04 206.355 L 968.4 201.587 L 968.76 209.318 L 969.12 201.039 L 969.48 228.469 L 969.84 207.139 L 970.2 234 L 970.56 188.228 L 970.92 224.866 L 971.28 190.324 L 971.64 212.672 L 972 203.936 L 972.36 209.781 L 972.72 185.76 L 973.08 223.16 L 973.44 202.194 L 973.8 209.663 L 974.16 202.163 L 974.52 208.721 L 974.88 195.506 L 975.24 206.900 L 975.6 201.411 L 975.96 222.84 L 976.32 185.92 L 976.68 206.837 L 977.04 194.077 L 977.4 210.680 L 977.76 197.676 L 978.12 202.244 L 978.48 198.271 L 978.84 209.631 L 979.2 187.2 L 979.56 212.085 L 979.92 194.453 L 980.28 207.220 L 980.64 195.315 L 981 204.873 L 981.36 193.487 L 981.72 210.033 L 982.08 185.76 L 982.44 224.892 L 982.8 188.412 L 983.16 210.316 L 983.52 201.867 L 983.88 221.420 L 984.24 200.907 L 984.6 214.305 L 984.96 194.304 L 985.32 211.758 L 985.68 183.6 L 986.04 223.98 L 986.4 197.690 L 986.76 223.203 L 987.12 199.342 L 987.48 205.464 L 987.84 180 L 988.2 223.245 L 988.56 183.661 L 988.92 215.507 L 989.28 181.475 L 989.64 200.848 L 990 191.842 L 990.36 202.919 L 990.72 175.68 L 991.08 214.2 L 991.44 189.363 L 991.8 192.543 L 992.16 185.599 L 992.52 191.793 L 992.88 163.44 L 993.24 207.9 L 993.6 176.210 L 993.96 197.508 L 994.32 162 L 994.68 222.21 L 995.04 179.894 L 995.4 201.260 L 995.76 154.8 L 996.12 242.73 L 996.48 182.367 L 996.84 202.840 L 997.2 144.72 L 997.56 261.9 L 997.92 140.4 L 998.28 267.75 L 998.64 184.058 L 999 219.628 L 999.36 130.32 L 999.72 244.38 L 1000.08 184.091 L 1000.44 214.004 L 1000.8 181.482 L 1001.16 208.500 L 1001.52 154.8 L 1001.88 238.995 L 1002.24 170.375 L 1002.6 203.398 L 1002.96 183.322 L 1003.32 214.365 L 1003.68 190.758 L 1004.04 217.523 L 1004.4 183.6 L 1004.76 216 L 1005.12 198.571 L 1005.48 214.728 L 1005.84 186.48 L 1006.2 216.09 L 1006.56 198.858 L 1006.92 215.669 L 1007.28 199.422 L 1007.64 215.777 L 1008 196.232 L 1008.36 210.779 L 1008.72 185.76 L 1009.08 215.73 L 1009.44 197.383 L 1009.8 201.246 L 1010.16 197.029 L 1010.52 199.858 L 1010.88 194.637 L 1011.24 199.877 L 1011.6 183.6 L 1011.96 209.25 L 1012.32 190.443 L 1012.68 199.102 L 1013.04 185.941 L 1013.4 190.162 L 1013.76 177.200 L 1014.12 188.241 L 1014.48 150.48 L 1014.84 214.56 L 1015.2 177.926 L 1015.56 192.139 L 1015.92 165.346 L 1016.28 195.495 L 1016.64 154.8 L 1017 230.64 L 1017.36 187.383 L 1017.72 233.630 L 1018.08 195.860 L 1018.44 212.372 L 1018.8 158.4 L 1019.16 259.714 L 1019.52 203.576 L 1019.88 241.494 L 1020.24 204.867 L 1020.6 223.892 L 1020.96 192.207 L 1021.32 275.76 L 1021.68 152.64 L 1022.04 247.723 L 1022.4 173.602 L 1022.76 215.798 L 1023.12 144 L 1023.48 246.6 L 1023.84 137.88 L 1024.2 246.645 L 1024.56 185.965 L 1024.92 236.785 L 1025.28 145.397 L 1025.64 205.780 L 1026 173.451 L 1026.36 235.425 L 1026.72 147.6 L 1027.08 255.465 L 1027.44 187.023 L 1027.8 210.236 L 1028.16 187.689 L 1028.52 200.631 L 1028.88 186.153 L 1029.24 222.860 L 1029.6 151.2 L 1029.96 228.06 L 1030.32 180.198 L 1030.68 222.195 L 1031.04 154.8 L 1031.4 233.770 L 1031.76 186.967 L 1032.12 202.581 L 1032.48 166.994 L 1032.84 211.135 L 1033.2 177.585 L 1033.56 208.227 L 1033.92 164.690 L 1034.28 209.418 L 1034.64 197.156 L 1035 253.08 L 1035.36 156.15 L 1035.72 226.729 L 1036.08 191.707 L 1036.44 204.396 L 1036.8 190.427 L 1037.16 203.898 L 1037.52 186.375 L 1037.88 241.2 L 1038.24 144 L 1038.6 199.034 L 1038.96 189.449 L 1039.32 200.958 L 1039.68 190.287 L 1040.04 235.08 L 1040.4 162 L 1040.76 230.608 L 1041.12 183.774 L 1041.48 208.851 L 1041.84 174.822 L 1042.2 222.778 L 1042.56 199.465 L 1042.92 216.540 L 1043.28 199.337 L 1043.64 219.668 L 1044 203.009 L 1044.36 266.76 L 1044.72 162 L 1045.08 223.181 L 1045.44 185.846 L 1045.8 209.355 L 1046.16 170.697 L 1046.52 222.206 L 1046.88 162 L 1047.24 228.72 L 1047.6 166.797 L 1047.96 197.565 L 1048.32 186.134 L 1048.68 197.591 L 1049.04 175.740 L 1049.4 193.719 L 1049.76 173.308 L 1050.12 215.28 L 1050.48 162.166 L 1050.84 193.556 L 1051.2 185.359 L 1051.56 195.584 L 1051.92 188.678 L 1052.28 210.176 L 1052.64 190.076 L 1053 200.544 L 1053.36 175.726 L 1053.72 210.512 L 1054.08 189.791 L 1054.44 202.042 L 1054.8 164.16 L 1055.16 233.28 L 1055.52 192.275 L 1055.88 203.602 L 1056.24 194.321 L 1056.6 205.122 L 1056.96 175.942 L 1057.32 223.955 L 1057.68 193.571 L 1058.04 206.020 L 1058.4 187.580 L 1058.76 233.28 L 1059.12 165.96 L 1059.48 205.407 L 1059.84 195.155 L 1060.2 206.029 L 1060.56 178.919 L 1060.92 208.028 L 1061.28 198.461 L 1061.64 208.640 L 1062 200.281 L 1062.36 234.412 L 1062.72 180.907 L 1063.08 242.64 L 1063.44 169.92 L 1063.8 209.897 L 1064.16 179.469 L 1064.52 227.452 L 1064.88 193.946 L 1065.24 233.374 L 1065.6 169.92 L 1065.96 234.6 L 1066.32 197.519 L 1066.68 203.711 L 1067.04 176.125 L 1067.4 201.090 L 1067.76 172.8 L 1068.12 222.12 L 1068.48 179.074 L 1068.84 204.488 L 1069.2 198.889 L 1069.56 231.511 L 1069.92 175.68 L 1070.28 235.374 L 1070.64 181.571 L 1071 235.189 L 1071.36 196.975 L 1071.72 229.065 L 1072.08 202.197 L 1072.44 217.466 L 1072.8 202.763 L 1073.16 235.760 L 1073.52 202.955 L 1073.88 241.92 L 1074.24 172.296 L 1074.6 211.148 L 1074.96 186.860 L 1075.32 238.147 L 1075.68 184.270 L 1076.04 221.872 L 1076.4 193.821 L 1076.76 223.087 L 1077.12 194.835 L 1077.48 239.76 L 1077.84 167.44 L 1078.2 205.599 L 1078.56 194.933 L 1078.92 203.253 L 1079.28 171.895 L 1079.64 221.954 L 1080 179.158 L 1080.36 202.823 L 1080.72 164.88 L 1081.08 218.79 L 1081.44 185.889 L 1081.8 198.689 L 1082.16 179.055 L 1082.52 195.992 L 1082.88 184.440 L 1083.24 193.759 L 1083.6 167.04 L 1083.96 215.64 L 1084.32 169.351 L 1084.68 215.934 L 1085.04 170.536 L 1085.4 215.436 L 1085.76 181.169 L 1086.12 214.932 L 1086.48 195.462 L 1086.84 208.137 L 1087.2 172.8 L 1087.56 237.24 L 1087.92 200.279 L 1088.28 211.246 L 1088.64 183.6 L 1089 223.2 L 1089.36 188.64 L 1089.72 210.045 L 1090.08 205.121 L 1090.44 201.562 L 1090.8 197.017 L 1091.16 193.788 L 1091.52 189.207 L 1091.88 186.153 L 1092.24 181.762 L 1092.6 178.316 L 1092.96 173.916 L 1093.32 170.267 L 1093.68 165.900 L 1094.04 203.76 L 1094.4 163.84 L 1094.76 188.705 L 1095.12 183.003 L 1095.48 203.128 L 1095.84 184.515 L 1096.2 197.464 L 1096.56 185.900 L 1096.92 195.941 L 1097.28 169.92 L 1097.64 211.59 L 1098 182.311 L 1098.36 196.807 L 1098.72 188.128 L 1099.08 201.019 L 1099.44 192.392 L 1099.8 204.892 L 1100.16 172.08 L 1100.52 228.15 L 1100.88 190.502 L 1101.24 209.055 L 1101.6 195.081 L 1101.96 208.438 L 1102.32 200.809 L 1102.68 211.490 L 1103.04 172.8 L 1103.4 238.834 L 1103.76 176.295 L 1104.12 210.087 L 1104.48 181.950 L 1104.84 212.242 L 1105.2 195.069 L 1105.56 216 L 1105.92 179.136 L 1106.28 202.062 L 1106.64 189.187 L 1107 202.525 L 1107.36 181.44 L 1107.72 214.56 L 1108.08 195.902 L 1108.44 208.257 L 1108.8 191.831 L 1109.16 200.662 L 1109.52 188.64 L 1109.88 206.836 L 1110.24 197.957 L 1110.6 210.292 L 1110.96 200.101 L 1111.32 214.227 L 1111.68 199.614 L 1112.04 220.251 L 1112.4 207.841 L 1112.76 214.172 L 1113.12 209.772 L 1113.48 237.6 L 1113.84 193.2 L 1114.2 218.239 L 1114.56 210.223 L 1114.92 218.761 L 1115.28 211.885 L 1115.64 234 L 1116 194.544 L 1116.36 230.212 L 1116.72 204.170 L 1117.08 221.460 L 1117.44 212.973 L 1117.8 235.445 L 1118.16 213.415 L 1118.52 218.872 L 1118.88 204.985 L 1119.24 237.6 L 1119.6 196.148 L 1119.96 217.234 L 1120.32 211.883 L 1120.68 215.260 L 1121.04 209.008 L 1121.4 216.838 L 1121.76 198 L 1122.12 224.82 L 1122.48 204.884 L 1122.84 219.011 L 1123.2 201.275 L 1123.56 217.926 L 1123.92 212.651 L 1124.28 222.715 L 1124.64 200.317 L 1125 221.886 L 1125.36 200.16 L 1125.72 238.011 L 1126.08 216.307 L 1126.44 220.170 L 1126.8 207.139 L 1127.16 218.959 L 1127.52 214.433 L 1127.88 229.68 L 1128.24 202 L 1128.6 221.719 L 1128.96 213.212 L 1129.32 222.160 L 1129.68 211.155 L 1130.04 226.477 L 1130.4 217.345 L 1130.76 235.303 L 1131.12 205.2 L 1131.48 241.92 L 1131.84 209.309 L 1132.2 243.577 L 1132.56 223.312 L 1132.92 229.949 L 1133.28 217.756 L 1133.64 250.56 L 1134 207.36 L 1134.36 232.002 L 1134.72 222.492 L 1135.08 229.902 L 1135.44 220.819 L 1135.8 224.124 L 1136.16 207.36 L 1136.52 235.243 L 1136.88 219.995 L 1137.24 232.380 L 1137.6 220.014 L 1137.96 235.062 L 1138.32 221.055 L 1138.68 232.409 L 1139.04 217.373 L 1139.4 227.967 L 1139.76 210.959 L 1140.12 240.48 L 1140.48 208.472 L 1140.84 230.235 L 1141.2 221.355 L 1141.56 227.503 L 1141.92 218.332 L 1142.28 225.027 L 1142.64 219.163 L 1143 223.434 L 1143.36 215.850 L 1143.72 222.822 L 1144.08 205.2 L 1144.44 231.84 L 1144.8 210.924 L 1145.16 216.167 L 1145.52 201.6 L 1145.88 222.068 L 1146.24 202.090 L 1146.6 205.815 L 1146.96 198.839 L 1147.32 210.126 L 1147.68 185.350 L 1148.04 215.28 L 1148.4 172.285 L 1148.76 209.432 L 1149.12 189.993 L 1149.48 199.272 L 1149.84 196.503 L 1150.2 203.357 L 1150.56 188.64 L 1150.92 211.5 L 1151.28 196.136 L 1151.64 205.596 L 1152 183.6 L 1152.36 207.257 L 1152.72 191.462 L 1153.08 202.274 L 1153.44 189.130 L 1153.8 203.273 L 1154.16 178.278 L 1154.52 210.96 L 1154.88 175.68 L 1155.24 202.504 L 1155.6 180 L 1155.96 212.923 L 1156.32 191.120 L 1156.68 208.987 L 1157.04 195.312 L 1157.4 202.537 L 1157.76 193.159 L 1158.12 201.449 L 1158.48 196.452 L 1158.84 206.686 L 1159.2 184.973 L 1159.56 214.56 L 1159.92 185.04 L 1160.28 205.093 L 1160.64 196.931 L 1161 206.833 L 1161.36 197.961 L 1161.72 205.205 L 1162.08 202.347 L 1162.44 207.118 L 1162.8 196.56 L 1163.16 217.2 L 1163.52 205.955 L 1163.88 210.960 L 1164.24 200.592 L 1164.6 218.603 L 1164.96 188.64 L 1165.32 234 L 1165.68 176.4 L 1166.04 227.04 L 1166.4 199.313 L 1166.76 204.477 L 1167.12 196.265 L 1167.48 203.761 L 1167.84 188.64 L 1168.2 212.112 L 1168.56 192.884 L 1168.92 208.865 L 1169.28 189.687 L 1169.64 219.6 L 1170 180.864 L 1170.36 206.623 L 1170.72 203.023 L 1171.08 211.157 L 1171.44 194.4 L 1171.8 228.78 L 1172.16 206.341 L 1172.52 219.204 L 1172.88 201.6 L 1173.24 231.21 L 1173.6 208.471 L 1173.96 232.153 L 1174.32 214.022 L 1174.68 219.161 L 1175.04 200.183 L 1175.4 219.981 L 1175.76 198 L 1176.12 237.6 L 1176.48 206.451 L 1176.84 239.04 L 1177.2 193.68 L 1177.56 219.428 L 1177.92 213.383 L 1178.28 224.102 L 1178.64 190.8 L 1179 244.8 L 1179.36 178.842 L 1179.72 252 L 1180.08 157.68 L 1180.44 243.54 L 1180.8 184.109 L 1181.16 220.860 L 1181.52 194.4 L 1181.88 239.76 L 1182.24 211.293 L 1182.6 231.460 L 1182.96 206.464 L 1183.32 239.76 L 1183.68 193.165 L 1184.04 584.230 L 1184.4 378.177 L 1184.625 793 M 1184.846 793 L 1185.12 14.4 L 1185.48 532.983 L 1185.701 -1 M 1185.924 -1 L 1186.126 793 M 1186.259 793 L 1186.425 -1 M 1186.735 -1 L 1186.92 681.897 L 1187.143 -1 M 1187.390 -1 L 1187.600 793 M 1187.694 793 L 1187.982 -1 M 1188.028 -1 L 1188.36 549.562 L 1188.569 -1 M 1188.844 -1 L 1189.08 743.594 L 1189.272 -1 M 1189.763 -1 L 1189.8 72 L 1190.16 43.2 L 1190.52 60.850 L 1190.88 55.845 L 1191.24 61.834 L 1191.6 49.522 L 1191.96 67.062 L 1192.32 53.112 L 1192.68 65.168 L 1193.04 55.871 L 1193.4 59.754 L 1193.76 54.837 L 1194.12 71.338 L 1194.48 54.366 L 1194.84 69.738 L 1195.2 44.376 L 1195.56 60.508 L 1195.92 55.871 L 1196.28 62.928 L 1196.64 54.804 L 1197 59.678 L 1197.36 53.974 L 1197.72 61.096 L 1198.08 55.095 L 1198.44 61.944 L 1198.8 48.094 L 1199.16 61.437 L 1199.52 55.286 L 1199.88 64.829 L 1200.24 52.152 L 1200.6 72 L 1200.96 72 L 1201.32 99.18 L 1201.68 96.610 L 1202.04 127.679 L 1202.4 108 L 1202.76 173.52 L 1203.12 147.6 L 1203.48 193.2 L 1203.84 170.152 L 1204.2 180.846 L 1204.56 176.362 L 1204.92 191.463 L 1205.28 172.08 L 1205.64 204.6 L 1206 181.349 L 1206.36 213.989 L 1206.72 187.260 L 1207.08 221.468 L 1207.44 187.2 L 1207.8 250.2 L 1208.16 202.131 L 1208.52 246.485 L 1208.88 216 L 1209.24 302.4 L 1209.6 239.800 L 1209.96 293.521 L 1210.32 249.84 L 1210.68 345.6 L 1211.04 306.000 L 1211.4 328.515 L 1211.76 302.4 L 1212.12 343.8 L 1212.48 304.227 L 1212.84 325.003 L 1213.2 288 L 1213.56 331.2 L 1213.92 273.6 L 1214.28 324 L 1214.64 282.756 L 1215 294.603 L 1215.36 281.438 L 1215.72 324 L 1216.08 248.4 L 1216.44 302.845 L 1216.8 254.16 L 1217.16 309.6 L 1217.52 245.578 L 1217.88 264.889 L 1218.24 216 L 1218.6 284.4 L 1218.96 215.151 L 1219.32 277.2 L 1219.68 193.248 L 1220.04 239.699 L 1220.4 215.010 L 1220.76 249.220 L 1221.12 188.64 L 1221.48 269.4 L 1221.84 210.694 L 1222.2 268.2 L 1222.56 190.944 L 1222.92 238.831 L 1223.28 229.746 L 1223.64 240.280 L 1224 208.8 L 1224.36 268.38 L 1224.72 236.358 L 1225.08 252.764 L 1225.44 237.6 L 1225.8 264.6 L 1226.16 246.082 L 1226.52 256.939 L 1226.88 235.578 L 1227.24 244.934 L 1227.6 228.96 L 1227.96 246.24 L 1228.32 233.026 L 1228.68 234.137 L 1229.04 226.911 L 1229.4 237.6 L 1229.76 215.136 L 1230.12 238.809 L 1230.48 218.690 L 1230.84 236.561 L 1231.2 194.4 L 1231.56 253.44 L 1231.92 206.107 L 1232.28 263.52 L 1232.64 201.42 L 1233 290.88 L 1233.36 225.504 L 1233.72 279.105 L 1234.08 247.267 L 1234.44 285.143 L 1234.8 263.52 L 1235.16 309.9 L 1235.52 280.694 L 1235.88 297.813 L 1236.24 274.524 L 1236.6 288.321 L 1236.96 264.96 L 1237.32 290.4 L 1237.68 274.794 L 1238.04 295.2 L 1238.4 264.24 L 1238.76 285.236 L 1239.12 269.287 L 1239.48 304.92 L 1239.84 258.912 L 1240.2 297.454 L 1240.56 257.671 L 1240.92 267.331 L 1241.28 228.96 L 1241.64 286.2 L 1242 237.6 L 1242.36 286.02 L 1242.72 252.364 L 1243.08 278.834 L 1243.44 259.2 L 1243.8 290.16 L 1244.16 273.460 L 1244.52 282.930 L 1244.88 271.196 
" clip-path="url(#pf775a465e1)" style="fill: none; stroke: #000000; stroke-width: 1.9; stroke-linecap: square"/>
</g>
<g id="patch_90">
<path d="M 886.32 327.6 L 886.32 79.2 
" style="fill: none; stroke: #000000; stroke-width: 1.5; stroke-linejoin: miter; stroke-linecap: square"/>
</g>
<g id="patch_91">
<path d="M 1296 327.6 L 1296 79.2 
" style="fill: none; stroke: #000000; stroke-width: 1.5; stroke-linejoin: miter; stroke-linecap: square"/>
</g>
<g id="patch_92">
<path d="M 886.32 327.6 L 1296 327.6 
" style="fill: none; stroke: #000000; stroke-width: 1.5; stroke-linejoin: miter; stroke-linecap: square"/>
</g>
<g id="patch_93">
<path d="M 886.32 79.2 L 1296 79.2 
" style="fill: none; stroke: #000000; stroke-width: 1.5; stroke-linejoin: miter; stroke-linecap: square"/>
</g>
</g>
<g id="axes_5">
<g id="matplotlib.axis_9">
<g id="ytick_50">
<g id="line2d_126">
<g>
<path d="M 1296.00 327.60 L 1292.00 327.60" style="fill: #ff0000; stroke: #ff0000; stroke-width: 0.8"/>
</g>
</g>
<g id="text_49">
<text style="font-size: 14.4px; font-family: 'DejaVu Sans', sans-serif; text-anchor: start; fill: #ff0000" x="1299.5" y="333.070" transform="rotate(-0 1299.5 333.070)">0</text>
</g>
</g>
<g id="ytick_51">
<g id="line2d_127">
<g>
<path d="M 1296.00 277.92 L 1292.00 277.92" style="fill: #ff0000; stroke: #ff0000; stroke-width: 0.8"/>
</g>
</g>
<g id="text_50">
<text style="font-size: 14.4px; font-family: 'DejaVu Sans', sans-serif; text-anchor: start; fill: #ff0000" x="1299.5" y="283.390" transform="rotate(-0 1299.5 283.390)">200</text>
</g>
</g>
<g id="ytick_52">
<g id="line2d_128">
<g>
<path d="M 1296.00 228.24 L 1292.00 228.24" style="fill: #ff0000; stroke: #ff0000; stroke-width: 0.8"/>
</g>
</g>
<g id="text_51">
<text style="font-size: 14.4px; font-family: 'DejaVu Sans', sans-serif; text-anchor: start; fill: #ff0000" x="1299.5" y="233.710" transform="rotate(-0 1299.5 233.710)">400</text>
</g>
</g>
<g id="ytick_53">
<g id="line2d_129">
<g>
<path d="M 1296.00 178.56 L 1292.00 178.56" style="fill: #ff0000; stroke: #ff0000; stroke-width: 0.8"/>
</g>
</g>
<g id="text_52">
<text style="font-size: 14.4px; font-family: 'DejaVu Sans', sans-serif; text-anchor: start; fill: #ff0000" x="1299.5" y="184.030" transform="rotate(-0 1299.5 184.030)">600</text>
</g>
</g>
<g id="ytick_54">
<g id="line2d_130">
<g>
<path d="M 1296.00 128.88 L 1292.00 128.88" style="fill: #ff0000; stroke: #ff0000; stroke-width: 0.8"/>
</g>
</g>
<g id="text_53">
<text style="font-size: 14.4px; font-family: 'DejaVu Sans', sans-serif; text-anchor: start; fill: #ff0000" x="1299.5" y="134.350" transform="rotate(-0 1299.5 134.350)">800</text>
</g>
</g>
<g id="ytick_55">
<g id="line2d_131">
<g>
<path d="M 1296.00 79.20 L 1292.00 79.20" style="fill: #ff0000; stroke: #ff0000; stroke-width: 0.8"/>
</g>
</g>
<g id="text_54">
<text style="font-size: 14.4px; font-family: 'DejaVu Sans', sans-serif; text-anchor: start; fill: #ff0000" x="1299.5" y="84.670" transform="rotate(-0 1299.5 84.670)">1000</text>
</g>
</g>
<g id="text_55">
<text style="font-size: 17.28px; font-family: 'DejaVu Sans', sans-serif; fill: #ff0000" transform="translate(1353.744 255.146) rotate(-90)">SW Velocity</text>
<g style="fill: #ff0000" transform="translate(1378.368 245.340) rotate(-90)">
<text xml:space="preserve"><tspan x="0.00" y="-0.818" style="font-size: 17.28px; font-family: 'DejaVu Sans', sans-serif; fill: #ff0000">( km</tspan><tspan x="41.81" y="-0.818" style="font-size: 17.28px; font-family: 'DejaVu Sans', sans-serif; fill: #ff0000">s</tspan><tspan x="50.96" y="-7.326" style="font-size: 12.096px; font-family: 'DejaVu Sans', sans-serif; fill: #ff0000">−1</tspan><tspan x="69.22" y="-0.818" style="font-size: 17.28px; font-family: 'DejaVu Sans', sans-serif; fill: #ff0000"> )</tspan></text>
</g>
</g>
</g>
<g id="line2d_132">
<path d="M 886.32 199.44 L 886.557 206.64 L 886.795 201.757 L 887.032 206.64 L 887.270 199.301 L 887.508 204.892 L 887.745 199.977 L 887.983 204.470 L 888.220 201.244 L 888.458 205.048 L 888.696 201.490 L 888.933 204.248 L 889.171 200.544 L 889.408 204.268 L 889.646 198.511 L 889.884 206.070 L 890.121 200.311 L 890.359 205.203 L 890.596 197.305 L 890.834 208.323 L 891.072 198.975 L 891.309 206.770 L 891.547 199.949 L 891.784 209.197 L 892.022 199.460 L 892.26 209.007 L 892.497 199.748 L 892.735 204.922 L 892.972 194.159 L 893.210 205.051 L 893.448 193.068 L 893.685 211.448 L 893.923 195.792 L 894.160 208.214 L 894.398 199.181 L 894.636 204.310 L 894.873 199.024 L 895.111 208.290 L 895.348 196.148 L 895.586 204.769 L 895.824 198.076 L 896.061 205.334 L 896.299 194.510 L 896.536 202.599 L 896.774 198.340 L 897.012 206.791 L 897.249 193.887 L 897.487 203.317 L 897.724 195.898 L 897.962 206.977 L 898.2 196.901 L 898.437 203.872 L 898.675 200.471 L 898.912 208.444 L 899.150 201.053 L 899.388 206.603 L 899.625 197.921 L 899.863 209.738 L 900.100 199.589 L 900.338 208.607 L 900.576 201.300 L 900.813 211.016 L 901.051 199.771 L 901.288 209.674 L 901.526 201.285 L 901.764 207.790 L 902.001 203.819 L 902.239 210.453 L 902.476 203.543 L 902.714 210.645 L 902.952 205.359 L 903.189 212.374 L 903.427 205.070 L 903.664 211.092 L 903.902 203.723 L 904.14 209.531 L 904.377 202.867 L 904.615 213.267 L 904.852 203.856 L 905.090 211.959 L 905.328 200.438 L 905.565 209.169 L 905.803 199.864 L 906.040 209.703 L 906.278 202.940 L 906.516 211.809 L 906.753 200.029 L 906.991 208.822 L 907.228 194.261 L 907.466 213.068 L 907.704 193.466 L 907.941 205.046 L 908.179 194.397 L 908.416 205.504 L 908.654 191.770 L 908.892 205.084 L 909.129 186.056 L 909.367 202.591 L 909.604 190.723 L 909.842 203.691 L 910.08 188.363 L 910.317 203.076 L 910.555 194.572 L 910.792 202.647 L 911.030 193.943 L 911.268 199.917 L 911.505 191.487 L 911.743 204.569 L 911.980 189.614 L 912.218 200.872 L 912.456 191.232 L 912.693 203.749 L 912.931 189.842 L 913.168 197.229 L 913.406 181.637 L 913.644 205.292 L 913.881 184.036 L 914.119 203.907 L 914.356 186.404 L 914.594 201.470 L 914.832 187.957 L 915.069 202.727 L 915.307 188.374 L 915.544 203.759 L 915.782 187.068 L 916.02 206.1 L 916.257 192.214 L 916.495 204.827 L 916.732 190.456 L 916.970 199.555 L 917.208 191.021 L 917.445 198.653 L 917.683 183.412 L 917.920 201.664 L 918.158 189.165 L 918.396 205.010 L 918.633 177.422 L 918.871 209.203 L 919.108 188.939 L 919.346 199.719 L 919.584 183.563 L 919.821 207.080 L 920.059 188.449 L 920.296 204.095 L 920.534 194.505 L 920.772 214.272 L 921.009 185.590 L 921.247 205.979 L 921.484 187.719 L 921.722 205.186 L 921.96 184.577 L 922.197 213.704 L 922.435 190.089 L 922.672 205.791 L 922.910 188.665 L 923.148 212.879 L 923.385 193.935 L 923.623 205.413 L 923.860 191.284 L 924.098 206.270 L 924.336 189.808 L 924.573 204.702 L 924.811 187.004 L 925.048 212.650 L 925.286 180.768 L 925.524 215.988 L 925.761 179.214 L 925.999 203.080 L 926.236 185.563 L 926.474 208.325 L 926.712 182.141 L 926.949 208.658 L 927.187 189.026 L 927.424 216.117 L 927.662 185.986 L 927.9 207.452 L 928.137 186.068 L 928.375 203.148 L 928.612 182.700 L 928.850 216.709 L 929.088 173.376 L 929.325 209.265 L 929.563 188.499 L 929.800 205.490 L 930.038 181.931 L 930.276 204.826 L 930.513 176.289 L 930.751 203.694 L 930.988 185.625 L 931.226 206.183 L 931.464 183.454 L 931.701 206.208 L 931.939 186.486 L 932.176 205.011 L 932.414 179.982 L 932.652 215.937 L 932.889 186.449 L 933.127 204.735 L 933.364 190.362 L 933.602 203.360 L 933.84 188.886 L 934.077 213.517 L 934.315 190.128 L 934.552 202.335 L 934.790 188.714 L 935.028 204.384 L 935.265 176.418 L 935.503 211.708 L 935.740 180.730 L 935.978 202.396 L 936.216 174.247 L 936.453 197.887 L 936.691 173.537 L 936.928 189.741 L 937.166 180.573 L 937.404 189.940 L 937.641 181.055 L 937.879 194.920 L 938.116 179.809 L 938.354 196.099 L 938.592 185.934 L 938.829 191.705 L 939.067 181.985 L 939.304 196.925 L 939.542 183.809 L 939.78 194.454 L 940.017 184.048 L 940.255 198.633 L 940.492 183.363 L 940.730 194.777 L 940.968 189.784 L 941.205 196.057 L 941.443 190.526 L 941.680 195.435 L 941.918 189.914 L 942.156 199.946 L 942.393 190.971 L 942.631 200.416 L 942.868 192.977 L 943.106 199.061 L 943.344 194.169 L 943.581 198.084 L 943.819 192.677 L 944.056 201.900 L 944.294 196.600 L 944.532 200.082 L 944.769 196.666 L 945.007 203.838 L 945.244 198.124 L 945.482 204.259 L 945.72 198.541 L 945.957 205.372 L 946.195 197.421 L 946.432 204.647 L 946.670 199.226 L 946.908 206.389 L 947.145 199.663 L 947.383 207.150 L 947.620 198.820 L 947.858 209.943 L 948.096 200.924 L 948.333 207.639 L 948.571 203.370 L 948.808 207.827 L 949.046 200.624 L 949.284 210.263 L 949.521 204.123 L 949.759 209.711 L 949.996 203.562 L 950.234 209.019 L 950.472 201.12 L 950.709 212.500 L 950.947 200.367 L 951.184 207.651 L 951.422 199.630 L 951.66 207.539 L 951.897 193.766 L 952.135 207.773 L 952.372 195.397 L 952.610 208.396 L 952.848 185.856 L 953.085 199.259 L 953.323 189.773 L 953.560 199.511 L 953.798 187.424 L 954.036 194.766 L 954.273 180.785 L 954.511 188.886 L 954.748 176.947 L 954.986 190.454 L 955.224 178.789 L 955.461 183.833 L 955.699 176.926 L 955.936 184.236 L 956.174 170.915 L 956.412 178.739 L 956.649 171.680 L 956.887 182.875 L 957.124 164.200 L 957.362 178.436 L 957.6 165.017 L 957.837 179.013 L 958.075 170.560 L 958.312 181.014 L 958.550 167.944 L 958.788 179.214 L 959.025 169.204 L 959.263 180.224 L 959.500 169.829 L 959.738 179.336 L 959.976 166.901 L 960.213 175.598 L 960.451 170.235 L 960.688 179.135 L 960.926 168.176 L 961.164 180.024 L 961.401 164.476 L 961.639 177.410 L 961.876 169.828 L 962.114 177.057 L 962.352 168.958 L 962.589 178.199 L 962.827 167.335 L 963.064 182.226 L 963.302 161.545 L 963.54 182.769 L 963.777 163.739 L 964.015 188.445 L 964.252 160.027 L 964.490 188.398 L 964.728 165.443 L 964.965 180.967 L 965.203 169.102 L 965.440 183.972 L 965.678 169.608 L 965.916 187.103 L 966.153 174.481 L 966.391 186.686 L 966.628 176.994 L 966.866 188.64 L 967.104 174.528 L 967.341 183.808 L 967.579 176.787 L 967.816 184.725 L 968.054 177.854 L 968.292 184.417 L 968.529 177.522 L 968.767 184.429 L 969.004 179.499 L 969.242 184.749 L 969.48 181.514 L 969.717 184.845 L 969.955 178.905 L 970.192 186.494 L 970.430 177.997 L 970.668 184.483 L 970.905 174.439 L 971.143 183.234 L 971.380 166.185 L 971.618 184.658 L 971.856 166.862 L 972.093 183.619 L 972.331 168.709 L 972.568 178.965 L 972.806 169.587 L 973.044 178.423 L 973.281 168.800 L 973.519 186.051 L 973.756 170.134 L 973.994 179.049 L 974.232 169.539 L 974.469 179.177 L 974.707 169.054 L 974.944 181.658 L 975.182 162.651 L 975.42 185.724 L 975.657 160.540 L 975.895 187.984 L 976.132 165.816 L 976.370 182.943 L 976.608 169.059 L 976.845 179.330 L 977.083 165.127 L 977.320 179.234 L 977.558 162.960 L 977.796 178.521 L 978.033 161.854 L 978.271 177.450 L 978.508 165.809 L 978.746 181.648 L 978.984 159.944 L 979.221 174.672 L 979.459 165.712 L 979.696 177.652 L 979.934 166.662 L 980.172 177.568 L 980.409 166.566 L 980.647 182.516 L 980.884 172.183 L 981.122 181.547 L 981.36 172.607 L 981.597 180.184 L 981.835 173.260 L 982.072 187.187 L 982.310 170.196 L 982.548 185.319 L 982.785 175.873 L 983.023 182.555 L 983.260 177.176 L 983.498 185.230 L 983.736 172.674 L 983.973 183.846 L 984.211 178.051 L 984.448 183.454 L 984.686 176.896 L 984.924 189.151 L 985.161 176.148 L 985.399 184.872 L 985.636 174.188 L 985.874 190.235 L 986.112 179.232 L 986.349 186.172 L 986.587 176.991 L 986.824 187.503 L 987.062 179.696 L 987.3 186.817 L 987.537 179.543 L 987.775 190.436 L 988.012 183.554 L 988.250 191.255 L 988.488 181.764 L 988.725 188.921 L 988.963 185.345 L 989.200 192.896 L 989.438 183.070 L 989.676 191.366 L 989.913 186.403 L 990.151 193.253 L 990.388 187.247 L 990.626 190.691 L 990.864 187.081 L 991.101 190.702 L 991.339 186.976 L 991.576 192.121 L 991.814 188.504 L 992.052 192.254 L 992.289 187.149 L 992.527 193.173 L 992.764 187.061 L 993.002 194.4 L 993.24 187.738 L 993.477 192.247 L 993.715 187.892 L 993.952 192.026 L 994.190 186.405 L 994.428 192.765 L 994.665 187.903 L 994.903 190.845 L 995.140 187.483 L 995.378 192.183 L 995.616 187.032 L 995.853 193.276 L 996.091 177.448 L 996.328 185.243 L 996.566 171.650 L 996.804 177.944 L 997.041 165.312 L 997.279 176.049 L 997.516 154.068 L 997.754 171.633 L 997.992 154.325 L 998.229 167.607 L 998.467 155.769 L 998.704 163.616 L 998.942 154.384 L 999.18 157.873 L 999.417 147.504 L 999.655 161.606 L 999.892 149.988 L 1000.130 159.630 L 1000.368 148.432 L 1000.605 156.114 L 1000.843 150.157 L 1001.080 159.525 L 1001.318 149.603 L 1001.556 159.12 L 1001.793 145.094 L 1002.031 156.006 L 1002.268 148.334 L 1002.506 156.124 L 1002.744 151.187 L 1002.981 156.807 L 1003.219 151.054 L 1003.456 157.788 L 1003.694 154.693 L 1003.932 157.205 L 1004.169 155.706 L 1004.407 159.122 L 1004.644 155.193 L 1004.882 158.384 L 1005.12 154.848 L 1005.357 158.689 L 1005.595 155.110 L 1005.832 158.483 L 1006.070 154.720 L 1006.308 158.108 L 1006.545 154.505 L 1006.783 157.273 L 1007.020 153.037 L 1007.258 157.445 L 1007.496 154.457 L 1007.733 157.184 L 1007.971 150.864 L 1008.208 157.018 L 1008.446 151.637 L 1008.684 160.548 L 1008.921 150.566 L 1009.159 165.909 L 1009.396 158.878 L 1009.634 174.322 L 1009.872 162.252 L 1010.109 184.878 L 1010.347 154.615 L 1010.584 184.262 L 1010.822 163.514 L 1011.06 186.671 L 1011.297 162.759 L 1011.535 182.968 L 1011.772 161.230 L 1012.010 188.742 L 1012.248 145.428 L 1012.485 191.031 L 1012.723 160.818 L 1012.960 184.227 L 1013.198 157.273 L 1013.436 181.556 L 1013.673 164.230 L 1013.911 189.423 L 1014.148 166.122 L 1014.386 186.036 L 1014.624 164.058 L 1014.861 189.892 L 1015.099 161.050 L 1015.336 186.074 L 1015.574 170.281 L 1015.812 195.688 L 1016.049 158.066 L 1016.287 183.797 L 1016.524 158.826 L 1016.762 188.828 L 1017 157.013 L 1017.237 183.726 L 1017.475 161.957 L 1017.712 180.382 L 1017.950 167.500 L 1018.188 180.311 L 1018.425 164.191 L 1018.663 179.257 L 1018.900 164.713 L 1019.138 182.618 L 1019.376 157.265 L 1019.613 186.994 L 1019.851 155.024 L 1020.088 188.590 L 1020.326 159.664 L 1020.564 189.287 L 1020.801 160.489 L 1021.039 191.401 L 1021.276 145.162 L 1021.514 174.682 L 1021.752 147.623 L 1021.989 178.492 L 1022.227 149.716 L 1022.464 183.723 L 1022.702 159.643 L 1022.94 175.350 L 1023.177 159.071 L 1023.415 182.073 L 1023.652 154.671 L 1023.890 183.537 L 1024.128 144.349 L 1024.365 176.075 L 1024.603 143.212 L 1024.840 180.516 L 1025.078 143.675 L 1025.316 172.784 L 1025.553 153.701 L 1025.791 182.975 L 1026.028 151.680 L 1026.266 170.000 L 1026.504 141.677 L 1026.741 182.854 L 1026.979 140.140 L 1027.216 171.849 L 1027.454 154.435 L 1027.692 168.647 L 1027.929 150.239 L 1028.167 177.457 L 1028.404 153.372 L 1028.642 176.817 L 1028.88 151.486 L 1029.117 177.483 L 1029.355 148.828 L 1029.592 166.250 L 1029.830 149.829 L 1030.068 166.033 L 1030.305 136.814 L 1030.543 176.774 L 1030.780 144.566 L 1031.018 172.972 L 1031.256 129.078 L 1031.493 159.157 L 1031.731 138.708 L 1031.968 160.812 L 1032.206 140.114 L 1032.444 158.711 L 1032.681 144.016 L 1032.919 159.729 L 1033.156 148.150 L 1033.394 161.143 L 1033.632 140.324 L 1033.869 168.555 L 1034.107 140.816 L 1034.344 165.198 L 1034.582 151.392 L 1034.82 164.095 L 1035.057 149.774 L 1035.295 167.315 L 1035.532 147.447 L 1035.770 169.146 L 1036.008 154.349 L 1036.245 168.772 L 1036.483 156.633 L 1036.720 171.555 L 1036.958 157.515 L 1037.196 183.324 L 1037.433 146.961 L 1037.671 171.146 L 1037.908 154.694 L 1038.146 169.276 L 1038.384 154.881 L 1038.621 165.649 L 1038.859 152.677 L 1039.096 168.692 L 1039.334 142.588 L 1039.572 168.93 L 1039.809 153.048 L 1040.047 163.733 L 1040.284 147.497 L 1040.522 166.516 L 1040.76 151.155 L 1040.997 171.648 L 1041.235 154.948 L 1041.472 182.056 L 1041.710 158.892 L 1041.948 181.919 L 1042.185 148.291 L 1042.423 188.148 L 1042.660 159.602 L 1042.898 175.444 L 1043.136 148.236 L 1043.373 173.957 L 1043.611 155.538 L 1043.848 171.986 L 1044.086 156.109 L 1044.324 169.052 L 1044.561 152.397 L 1044.799 175.485 L 1045.036 151.168 L 1045.274 167.765 L 1045.512 151.595 L 1045.749 180.830 L 1045.987 135.861 L 1046.224 177.065 L 1046.462 149.357 L 1046.7 165.728 L 1046.937 145.106 L 1047.175 168.697 L 1047.412 138.588 L 1047.650 166.127 L 1047.888 142.730 L 1048.125 157.550 L 1048.363 137.252 L 1048.600 164.771 L 1048.838 138.576 L 1049.076 155.394 L 1049.313 143.123 L 1049.551 154.808 L 1049.788 137.411 L 1050.026 160.996 L 1050.264 131.084 L 1050.501 151.311 L 1050.739 140.031 L 1050.976 154.091 L 1051.214 136.459 L 1051.452 153.754 L 1051.689 134.948 L 1051.927 150.768 L 1052.164 138.428 L 1052.402 148.196 L 1052.64 138.416 L 1052.877 147.733 L 1053.115 139.861 L 1053.352 150.783 L 1053.590 139.040 L 1053.828 150.003 L 1054.065 139.240 L 1054.303 151.059 L 1054.540 136.807 L 1054.778 151.243 L 1055.016 132.912 L 1055.253 152.332 L 1055.491 140.589 L 1055.728 148.694 L 1055.966 138.642 L 1056.204 149.660 L 1056.441 137.753 L 1056.679 155.624 L 1056.916 136.713 L 1057.154 158.905 L 1057.392 143.877 L 1057.629 158.601 L 1057.867 142.472 L 1058.104 158.690 L 1058.342 139.613 L 1058.58 156.654 L 1058.817 147.615 L 1059.055 157.749 L 1059.292 144.943 L 1059.530 156.678 L 1059.768 147.702 L 1060.005 164.446 L 1060.243 142.936 L 1060.480 167.554 L 1060.718 141.391 L 1060.956 159.007 L 1061.193 145.889 L 1061.431 162.270 L 1061.668 141.734 L 1061.906 163.082 L 1062.144 146.769 L 1062.381 165.372 L 1062.619 147.233 L 1062.856 161.631 L 1063.094 142.490 L 1063.332 159.304 L 1063.569 142.612 L 1063.807 158.419 L 1064.044 141.322 L 1064.282 157.554 L 1064.52 140.064 L 1064.757 166.846 L 1064.995 129.846 L 1065.232 170.841 L 1065.470 144.034 L 1065.708 166.296 L 1065.945 137.952 L 1066.183 164.015 L 1066.420 143.249 L 1066.658 161.554 L 1066.896 143.681 L 1067.133 160.427 L 1067.371 144.419 L 1067.608 167.331 L 1067.846 147.920 L 1068.084 160.115 L 1068.321 149.339 L 1068.559 161.718 L 1068.796 150.197 L 1069.034 167.072 L 1069.272 150.808 L 1069.509 163.297 L 1069.747 147.509 L 1069.984 173.377 L 1070.222 140.883 L 1070.46 170.777 L 1070.697 146.919 L 1070.935 163.975 L 1071.172 150.074 L 1071.410 165.323 L 1071.648 147.384 L 1071.885 165.034 L 1072.123 151.502 L 1072.360 159.805 L 1072.598 148.485 L 1072.836 161.545 L 1073.073 151.923 L 1073.311 159.105 L 1073.548 146.084 L 1073.786 165.793 L 1074.024 152.228 L 1074.261 162.136 L 1074.499 150.179 L 1074.736 166.158 L 1074.974 150.555 L 1075.212 163.594 L 1075.449 142.307 L 1075.687 160.106 L 1075.924 147.182 L 1076.162 166.040 L 1076.4 143.351 L 1076.637 162.443 L 1076.875 146.738 L 1077.112 157.434 L 1077.350 137.186 L 1077.588 168.528 L 1077.825 136.296 L 1078.063 164.784 L 1078.300 142.481 L 1078.538 165.548 L 1078.776 142.550 L 1079.013 168.630 L 1079.251 140.710 L 1079.488 159.012 L 1079.726 148.084 L 1079.964 159.198 L 1080.201 149.282 L 1080.439 167.264 L 1080.676 141.048 L 1080.914 169.579 L 1081.152 149.682 L 1081.389 168.566 L 1081.627 147.127 L 1081.864 161.336 L 1082.102 142.206 L 1082.34 165.123 L 1082.577 149.032 L 1082.815 159.822 L 1083.052 145.341 L 1083.290 164.452 L 1083.528 139.716 L 1083.765 165.244 L 1084.003 142.629 L 1084.240 157.853 L 1084.478 145.468 L 1084.716 159.118 L 1084.953 149.717 L 1085.191 167.538 L 1085.428 141.986 L 1085.666 168.957 L 1085.904 141.890 L 1086.141 163.373 L 1086.379 149.495 L 1086.616 165.514 L 1086.854 147.840 L 1087.092 172.562 L 1087.329 142.689 L 1087.567 166.080 L 1087.804 153.769 L 1088.042 171.171 L 1088.28 149.239 L 1088.517 169.810 L 1088.755 146.075 L 1088.992 168.556 L 1089.230 155.133 L 1089.468 176.076 L 1089.705 144.996 L 1089.943 167.678 L 1090.180 154.601 L 1090.418 168.314 L 1090.656 147.618 L 1090.893 163.299 L 1091.131 149.380 L 1091.368 162.056 L 1091.606 152.392 L 1091.844 163.575 L 1092.081 147.173 L 1092.319 161.244 L 1092.556 149.107 L 1092.794 159.632 L 1093.032 147.6 L 1093.269 165.987 L 1093.507 150.225 L 1093.744 163.020 L 1093.982 152.613 L 1094.22 160.795 L 1094.457 152.302 L 1094.695 163.738 L 1094.932 154.565 L 1095.170 164.405 L 1095.408 151.161 L 1095.645 161.664 L 1095.883 147.634 L 1096.120 169.480 L 1096.358 152.839 L 1096.596 165.941 L 1096.833 148.793 L 1097.071 164.578 L 1097.308 154.066 L 1097.546 169.067 L 1097.784 154.738 L 1098.021 165.663 L 1098.259 157.263 L 1098.496 169.611 L 1098.734 157.311 L 1098.972 164.893 L 1099.209 157.950 L 1099.447 172.8 L 1099.684 150.439 L 1099.922 171.625 L 1100.16 158.205 L 1100.397 165.804 L 1100.635 154.791 L 1100.872 169.388 L 1101.110 151.141 L 1101.348 165.609 L 1101.585 155.004 L 1101.823 168.613 L 1102.060 153.594 L 1102.298 172.637 L 1102.536 155.265 L 1102.773 169.384 L 1103.011 154.710 L 1103.248 169.134 L 1103.486 157.805 L 1103.724 172.8 L 1103.961 150.969 L 1104.199 168.921 L 1104.436 158.597 L 1104.674 167.982 L 1104.912 161.810 L 1105.149 170.982 L 1105.387 164.941 L 1105.624 171.518 L 1105.862 162.374 L 1106.1 177.408 L 1106.337 165.812 L 1106.575 173.784 L 1106.812 166.351 L 1107.050 172.148 L 1107.288 161.050 L 1107.525 172.212 L 1107.763 157.988 L 1108.000 180.962 L 1108.238 164.310 L 1108.476 179.240 L 1108.713 168.905 L 1108.951 179.850 L 1109.188 173.425 L 1109.426 184.066 L 1109.664 173.237 L 1109.901 186.722 L 1110.139 174.96 L 1110.376 188.757 L 1110.614 179.091 L 1110.852 185.227 L 1111.089 177.561 L 1111.327 186.559 L 1111.564 177.622 L 1111.802 184.468 L 1112.04 176.749 L 1112.277 185.703 L 1112.515 178.911 L 1112.752 185.765 L 1112.990 178.686 L 1113.228 185.697 L 1113.465 175.197 L 1113.703 184.611 L 1113.940 177.723 L 1114.178 186.977 L 1114.416 177.742 L 1114.653 188.659 L 1114.891 173.391 L 1115.128 185.503 L 1115.366 169.286 L 1115.604 193.5 L 1115.841 172.265 L 1116.079 189.808 L 1116.316 175.587 L 1116.554 189.741 L 1116.792 178.859 L 1117.029 194.867 L 1117.267 178.106 L 1117.504 196.624 L 1117.742 172.040 L 1117.98 191.163 L 1118.217 181.465 L 1118.455 189.627 L 1118.692 182.361 L 1118.930 196.484 L 1119.168 180.180 L 1119.405 196.289 L 1119.643 183.574 L 1119.880 198.551 L 1120.118 182.723 L 1120.356 199.476 L 1120.593 177.621 L 1120.831 192.142 L 1121.068 178.244 L 1121.306 192.904 L 1121.544 179.961 L 1121.781 192.954 L 1122.019 181.594 L 1122.256 197.159 L 1122.494 182.653 L 1122.732 197.566 L 1122.969 180.136 L 1123.207 201.964 L 1123.444 183.402 L 1123.682 193.684 L 1123.92 174.96 L 1124.157 203.325 L 1124.395 185.193 L 1124.632 199.244 L 1124.870 182.304 L 1125.108 200.071 L 1125.345 185.830 L 1125.583 197.171 L 1125.820 185.562 L 1126.058 196.960 L 1126.296 184.526 L 1126.533 202.625 L 1126.771 180.026 L 1127.008 199.814 L 1127.246 187.849 L 1127.484 207.316 L 1127.721 178.202 L 1127.959 199.780 L 1128.196 187.265 L 1128.434 199.117 L 1128.672 189.167 L 1128.909 203.675 L 1129.147 191.015 L 1129.384 209.093 L 1129.622 186.191 L 1129.86 202.787 L 1130.097 188.097 L 1130.335 203.231 L 1130.572 187.842 L 1130.810 206.723 L 1131.048 184.190 L 1131.285 216.132 L 1131.523 189.646 L 1131.760 209.919 L 1131.998 188.117 L 1132.236 206.563 L 1132.473 191.355 L 1132.711 207.092 L 1132.948 194.498 L 1133.186 208.302 L 1133.424 196.835 L 1133.661 208.192 L 1133.899 192.900 L 1134.136 208.132 L 1134.374 198.290 L 1134.612 218.793 L 1134.849 188.222 L 1135.087 211.685 L 1135.324 199.506 L 1135.562 211.147 L 1135.8 197.220 L 1136.037 216.951 L 1136.275 200.390 L 1136.512 214.243 L 1136.750 193.048 L 1136.988 220.363 L 1137.225 192.545 L 1137.463 213.352 L 1137.700 201.733 L 1137.938 211.795 L 1138.176 195.920 L 1138.413 217.545 L 1138.651 193.361 L 1138.888 212.593 L 1139.126 199.668 L 1139.364 214.897 L 1139.601 195.543 L 1139.839 211.772 L 1140.076 193.316 L 1140.314 212.927 L 1140.552 188.726 L 1140.789 221.76 L 1141.027 197.562 L 1141.264 215.225 L 1141.502 192.857 L 1141.74 214.383 L 1141.977 201.214 L 1142.215 214.323 L 1142.452 197.070 L 1142.690 214.181 L 1142.928 202.133 L 1143.165 214.958 L 1143.403 196.078 L 1143.640 215.667 L 1143.878 202.398 L 1144.116 221.76 L 1144.353 193.233 L 1144.591 213.108 L 1144.828 197.944 L 1145.066 213.158 L 1145.304 200.366 L 1145.541 221.673 L 1145.779 194.659 L 1146.016 211.268 L 1146.254 199.879 L 1146.492 210.286 L 1146.729 195.871 L 1146.967 215.985 L 1147.204 197.798 L 1147.442 211.267 L 1147.68 205.076 L 1147.917 212.428 L 1148.155 205.581 L 1148.392 213.134 L 1148.630 207.936 L 1148.868 214.067 L 1149.105 210.910 L 1149.343 217.550 L 1149.580 212.394 L 1149.818 223.758 L 1150.056 211.284 L 1150.293 222.676 L 1150.531 212.605 L 1150.768 219.740 L 1151.006 215.893 L 1151.244 222.784 L 1151.481 213.705 L 1151.719 221.256 L 1151.956 217.081 L 1152.194 220.676 L 1152.432 216.899 L 1152.669 222.505 L 1152.907 215.429 L 1153.144 220.229 L 1153.382 218.006 L 1153.62 221.858 L 1153.857 218.448 L 1154.095 220.866 L 1154.332 218.013 L 1154.570 221.748 L 1154.808 218.883 L 1155.045 221.803 L 1155.283 219.076 L 1155.520 222.314 L 1155.758 217.909 L 1155.996 221.688 L 1156.233 218.090 L 1156.471 223.320 L 1156.708 219.370 L 1156.946 222.330 L 1157.184 218.557 L 1157.421 223.989 L 1157.659 220.412 L 1157.896 222.478 L 1158.134 220.360 L 1158.372 223.340 L 1158.609 218.809 L 1158.847 223.461 L 1159.084 220.370 L 1159.322 224.891 L 1159.56 220.495 L 1159.797 224.516 L 1160.035 218.88 L 1160.272 226.432 L 1160.510 220.950 L 1160.748 224.387 L 1160.985 220.223 L 1161.223 224.773 L 1161.460 219.423 L 1161.698 225.750 L 1161.936 222.017 L 1162.173 225.503 L 1162.411 221.014 L 1162.648 228.389 L 1162.886 219.225 L 1163.124 239.328 L 1163.361 228.749 L 1163.599 251.916 L 1163.836 223.027 L 1164.074 263.52 L 1164.312 240.830 L 1164.549 256.339 L 1164.787 252.800 L 1165.024 263.52 L 1165.262 252.72 L 1165.5 260.896 L 1165.737 253.431 L 1165.975 260.940 L 1166.212 253.703 L 1166.450 260.538 L 1166.688 254.772 L 1166.925 259.824 L 1167.163 256.159 L 1167.400 260.291 L 1167.638 254.734 L 1167.876 259.744 L 1168.113 252.834 L 1168.351 261.879 L 1168.588 253.293 L 1168.826 259.757 L 1169.064 255.648 L 1169.301 260.876 L 1169.539 256.276 L 1169.776 259.773 L 1170.014 253.254 L 1170.252 261.298 L 1170.489 255.151 L 1170.727 259.745 L 1170.964 255.246 L 1171.202 262.040 L 1171.44 252.918 L 1171.677 259.998 L 1171.915 252.792 L 1172.152 261.445 L 1172.390 256.386 L 1172.628 260.054 L 1172.865 254.925 L 1173.103 260.504 L 1173.340 254.928 L 1173.578 260.123 L 1173.816 255.026 L 1174.053 259.745 L 1174.291 255.212 L 1174.528 260.609 L 1174.766 255.179 L 1175.004 260.916 L 1175.241 255.390 L 1175.479 260.069 L 1175.716 254.477 L 1175.954 261.091 L 1176.192 256.341 L 1176.429 261.998 L 1176.667 255.628 L 1176.904 259.891 L 1177.142 254.037 L 1177.38 261.757 L 1177.617 255.372 L 1177.855 262.759 L 1178.092 253.293 L 1178.330 259.777 L 1178.568 254.548 L 1178.805 259.895 L 1179.043 254.037 L 1179.280 260.207 L 1179.518 255.305 L 1179.756 260.070 L 1179.993 253.907 L 1180.231 263.360 L 1180.468 253.468 L 1180.706 262.880 L 1180.944 255.609 L 1181.181 262.805 L 1181.419 253.740 L 1181.656 262.378 L 1181.894 255.729 L 1182.132 259.934 L 1182.369 255.480 L 1182.607 261.578 L 1182.844 256.339 L 1183.082 260.047 L 1183.32 254.398 L 1183.557 263.013 L 1183.795 253.835 L 1184.032 260.416 L 1184.270 255.447 L 1184.508 261.728 L 1184.745 255.093 L 1184.983 260.105 L 1185.220 256.495 L 1185.458 260.937 L 1185.696 254.776 L 1185.933 262.319 L 1186.171 255.239 L 1186.408 260.036 L 1186.646 256.009 L 1186.884 261.335 L 1187.121 253.174 L 1187.359 263.259 L 1187.596 253.238 L 1187.834 262.288 L 1188.072 256.050 L 1188.309 262.934 L 1188.547 254.517 L 1188.784 261.647 L 1189.022 255.025 L 1189.26 260.038 L 1189.497 180.624 L 1189.735 263.52 L 1189.849 -1 M 1190.108 -1 L 1190.210 213.243 L 1190.311 -1 M 1190.592 -1 L 1190.685 185.055 L 1190.792 -1 M 1191.140 -1 L 1191.160 19.982 L 1191.181 -1 M 1191.530 -1 L 1191.636 174.050 L 1191.750 -1 M 1192.035 -1 L 1192.111 87.12 L 1192.348 43.2 L 1192.586 70.485 L 1192.824 45.858 L 1193.061 61.989 L 1193.299 51.593 L 1193.536 63.638 L 1193.774 50.468 L 1194.012 68.538 L 1194.249 43.967 L 1194.487 63.036 L 1194.724 43.2 L 1194.962 96.48 L 1195.2 43.2 L 1195.437 95.593 L 1195.675 43.2 L 1195.912 72.612 L 1196.150 43.2 L 1196.388 64.558 L 1196.625 49.189 L 1196.863 62.013 L 1197.100 53.031 L 1197.338 67.064 L 1197.576 48.668 L 1197.813 65.504 L 1198.051 43.2 L 1198.288 74.505 L 1198.526 62.619 L 1198.764 80.208 L 1199.001 73.209 L 1199.239 82.254 L 1199.476 76.404 L 1199.714 86.670 L 1199.952 82.733 L 1200.189 91.756 L 1200.427 82.262 L 1200.664 94.666 L 1200.902 88.887 L 1201.14 95.335 L 1201.377 92.647 L 1201.615 98.351 L 1201.852 96.298 L 1202.090 103.795 L 1202.328 98.736 L 1202.565 106.642 L 1202.803 99.226 L 1203.040 104.718 L 1203.278 100.648 L 1203.516 105.044 L 1203.753 100.065 L 1203.991 104.725 L 1204.228 99.731 L 1204.466 103.821 L 1204.704 95.713 L 1204.941 103.647 L 1205.179 94.496 L 1205.416 109.003 L 1205.654 95.605 L 1205.892 108.526 L 1206.129 91.808 L 1206.367 115.413 L 1206.604 94.582 L 1206.842 108.748 L 1207.08 96.434 L 1207.317 118.924 L 1207.555 83.404 L 1207.792 121.811 L 1208.030 92.349 L 1208.268 107.874 L 1208.505 85.452 L 1208.743 106.049 L 1208.980 90.339 L 1209.218 102.529 L 1209.456 88.050 L 1209.693 103.283 L 1209.931 90.875 L 1210.168 108.000 L 1210.406 80.488 L 1210.644 108.171 L 1210.881 87.974 L 1211.119 99.064 L 1211.356 85.579 L 1211.594 101.644 L 1211.832 87.318 L 1212.069 102.392 L 1212.307 83.636 L 1212.544 109.009 L 1212.782 88.147 L 1213.02 101.409 L 1213.257 75.504 L 1213.495 115.888 L 1213.732 85.558 L 1213.970 104.552 L 1214.208 86.012 L 1214.445 104.642 L 1214.683 73.757 L 1214.920 103.522 L 1215.158 88.784 L 1215.396 120.24 L 1215.633 72 L 1215.871 119.991 L 1216.108 85.089 L 1216.346 119.076 L 1216.584 86.822 L 1216.821 114.095 L 1217.059 87.851 L 1217.296 104.096 L 1217.534 80.472 L 1217.772 111.923 L 1218.009 72.192 L 1218.247 111.730 L 1218.484 72.467 L 1218.722 106.737 L 1218.96 72 L 1219.197 119.659 L 1219.435 82.904 L 1219.672 114.209 L 1219.910 85.618 L 1220.148 102.299 L 1220.385 88.556 L 1220.623 110.437 L 1220.860 75.428 L 1221.098 103.678 L 1221.336 89.527 L 1221.573 108.772 L 1221.811 79.905 L 1222.048 103.816 L 1222.286 78.278 L 1222.524 114.134 L 1222.761 92.103 L 1222.999 107.231 L 1223.236 89.537 L 1223.474 108.032 L 1223.712 91.560 L 1223.949 122.117 L 1224.187 88.872 L 1224.424 115.848 L 1224.662 99.820 L 1224.9 112.698 L 1225.137 93.924 L 1225.375 112.627 L 1225.612 101.619 L 1225.850 114.007 L 1226.088 92.04 L 1226.325 124.707 L 1226.563 103.894 L 1226.800 118.824 L 1227.038 105.906 L 1227.276 118.281 L 1227.513 104.533 L 1227.751 117.497 L 1227.988 107.416 L 1228.226 118.168 L 1228.464 106.951 L 1228.701 118.051 L 1228.939 109.476 L 1229.176 124.766 L 1229.414 104.379 L 1229.652 127.512 L 1229.889 109.970 L 1230.127 119.954 L 1230.364 104.304 L 1230.602 126.100 L 1230.84 107.780 L 1231.077 120.004 L 1231.315 110.509 L 1231.552 120.413 L 1231.790 101.610 L 1232.028 129.312 L 1232.265 101.260 L 1232.503 127.544 L 1232.740 109.178 L 1232.978 139.449 L 1233.216 101.952 L 1233.453 125.892 L 1233.691 106.962 L 1233.928 119.576 L 1234.166 100.771 L 1234.404 125.244 L 1234.641 103.528 L 1234.879 118.899 L 1235.116 108.004 L 1235.354 115.489 L 1235.592 105.206 L 1235.829 115.190 L 1236.067 106.853 L 1236.304 121.068 L 1236.542 100.281 L 1236.78 119.833 L 1237.017 102.051 L 1237.255 115.073 L 1237.492 104.731 L 1237.730 117.710 L 1237.968 105.760 L 1238.205 116.800 L 1238.443 101.664 L 1238.680 125.589 L 1238.918 105.732 L 1239.156 119.255 L 1239.393 111.591 L 1239.631 122.938 L 1239.868 109.214 L 1240.106 125.830 L 1240.344 115.005 L 1240.581 132.501 L 1240.819 109.173 L 1241.056 124.834 L 1241.294 117.359 L 1241.532 125.951 L 1241.769 114.317 L 1242.007 132.887 L 1242.244 114.529 L 1242.482 130.103 L 1242.72 113.690 L 1242.957 130.929 L 1243.195 117.591 L 1243.432 135.352 L 1243.670 113.990 L 1243.908 130.719 L 1244.145 118.268 L 1244.383 127.975 L 1244.620 121.344 L 1244.858 127.520 
" clip-path="url(#pf775a465e1)" style="fill: none; stroke: #ff0000; stroke-width: 1.9; stroke-linecap: square"/>
</g>
<g id="patch_94">
<path d="M 886.32 327.6 L 886.32 79.2 
" style="fill: none; stroke: #000000; stroke-width: 1.5; stroke-linejoin: miter; stroke-linecap: square"/>
</g>
<g id="patch_95">
<path d="M 1296 327.6 L 1296 79.2 
" style="fill: none; stroke: #ff0000; stroke-width: 1.5; stroke-linejoin: miter; stroke-linecap: square"/>
</g>
<g id="patch_96">
<path d="M 886.32 327.6 L 1296 327.6 
" style="fill: none; stroke: #000000; stroke-width: 1.5; stroke-linejoin: miter; stroke-linecap: square"/>
</g>
<g id="patch_97">
<path d="M 886.32 79.2 L 1296 79.2 
" style="fill: none; stroke: #000000; stroke-width: 1.5; stroke-linejoin: miter; stroke-linecap: square"/>
</g>
</g>
<g id="axes_6">
<g id="patch_98">
<path d="M 886.32 591.84 L 1296 591.84 L 1296 344.16 L 886.32 344.16 z
" style="fill: #ffffff"/>
</g>
<g id="matplotlib.axis_10">
<g id="xtick_33">
<g id="line2d_133">
<g>
<path d="M 914.040 591.840 L 914.040 588.340" style="stroke: #000000; stroke-width: 0.8"/>
</g>
</g>
</g>
<g id="xtick_34">
<g id="line2d_134">
<g>
<path d="M 965.160 591.840 L 965.160 588.340" style="stroke: #000000; stroke-width: 0.8"/>
</g>
</g>
</g>
<g id="xtick_35">
<g id="line2d_135">
<g>
<path d="M 1016.280 591.840 L 1016.280 588.340" style="stroke: #000000; stroke-width: 0.8"/>
</g>
</g>
</g>
<g id="xtick_36">
<g id="line2d_136">
<g>
<path d="M 1067.400 591.840 L 1067.400 588.340" style="stroke: #000000; stroke-width: 0.8"/>
</g>
</g>
</g>
<g id="xtick_37">
<g id="line2d_137">
<g>
<path d="M 1118.520 591.840 L 1118.520 588.340" style="stroke: #000000; stroke-width: 0.8"/>
</g>
</g>
</g>
<g id="xtick_38">
<g id="line2d_138">
<g>
<path d="M 1169.640 591.840 L 1169.640 588.340" style="stroke: #000000; stroke-width: 0.8"/>
</g>
</g>
</g>
<g id="xtick_39">
<g id="line2d_139">
<g>
<path d="M 1221.480 591.840 L 1221.480 588.340" style="stroke: #000000; stroke-width: 0.8"/>
</g>
</g>
</g>
<g id="xtick_40">
<g id="line2d_140">
<g>
<path d="M 1272.600 591.840 L 1272.600 588.340" style="stroke: #000000; stroke-width: 0.8"/>
</g>
</g>
</g>
</g>
<g id="matplotlib.axis_11">
<g id="ytick_56">
<g id="line2d_141">
<g>
<path d="M 886.320 567.000 L 890.320 567.000" style="stroke: #000000; stroke-width: 0.8"/>
</g>
</g>
<g id="text_56">
<text style="font-size: 14.4px; font-family: 'DejaVu Sans', sans-serif; text-anchor: end" x="882.82" y="572.542" transform="rotate(-0 882.82 572.542)">−400</text>
</g>
</g>
<g id="ytick_57">
<g id="line2d_142">
<g>
<path d="M 886.320 517.320 L 890.320 517.320" style="stroke: #000000; stroke-width: 0.8"/>
</g>
</g>
<g id="text_57">
<text style="font-size: 14.4px; font-family: 'DejaVu Sans', sans-serif; text-anchor: end" x="882.82" y="523.006" transform="rotate(-0 882.82 523.006)">−300</text>
</g>
</g>
<g id="ytick_58">
<g id="line2d_143">
<g>
<path d="M 886.320 468.360 L 890.320 468.360" style="stroke: #000000; stroke-width: 0.8"/>
</g>
</g>
<g id="text_58">
<text style="font-size: 14.4px; font-family: 'DejaVu Sans', sans-serif; text-anchor: end" x="882.82" y="473.470" transform="rotate(-0 882.82 473.470)">−200</text>
</g>
</g>
<g id="ytick_59">
<g id="line2d_144">
<g>
<path d="M 886.320 418.680 L 890.320 418.680" style="stroke: #000000; stroke-width: 0.8"/>
</g>
</g>
<g id="text_59">
<text style="font-size: 14.4px; font-family: 'DejaVu Sans', sans-serif; text-anchor: end" x="882.82" y="423.934" transform="rotate(-0 882.82 423.934)">−100</text>
</g>
</g>
<g id="ytick_60">
<g id="line2d_145">
<g>
<path d="M 886.320 369.000 L 890.320 369.000" style="stroke: #000000; stroke-width: 0.8"/>
</g>
</g>
<g id="text_60">
<text style="font-size: 14.4px; font-family: 'DejaVu Sans', sans-serif; text-anchor: end" x="882.82" y="374.398" transform="rotate(-0 882.82 374.398)">0</text>
</g>
</g>
<g id="text_61">
<text style="font-size: 17.28px; font-family: 'DejaVu Sans', sans-serif" transform="translate(814.838 484.481) rotate(-90)">Dst</text>
<text style="font-size: 17.28px; font-family: 'DejaVu Sans', sans-serif" transform="translate(834.408 490.982) rotate(-90)">( nT )</text>
</g>
</g>
<g id="line2d_146">
<path d="M 886.32 368.928 L 1296 368.928 
" clip-path="url(#pd7421a44a7)" style="fill: none; stroke-dasharray: 1.5,2.475; stroke-dashoffset: 0; stroke: #000000; stroke-width: 1.5"/>
</g>
<g id="line2d_147">
<path d="M 1245.148 591.84 L 1245.148 344.16 
" clip-path="url(#pd7421a44a7)" style="fill: none; stroke-dasharray: 2,3.3; stroke-dashoffset: 0; stroke: #000000; stroke-width: 2"/>
</g>
<g id="line2d_148">
<path d="M 886.32 374.939 L 888.479 375.479 L 890.639 373.535 L 893.879 372.779 L 896.039 370.079 L 898.199 368.459 L 902.519 367.703 L 906.839 366.839 L 912.239 366.299 L 915.479 363.383 L 918.179 364.139 L 921.959 359.819 L 924.659 358.523 L 927.359 359.819 L 930.599 362.303 L 935.459 363.059 L 937.079 357.119 L 939.239 361.439 L 943.559 362.735 L 946.799 360.359 L 950.039 359.819 L 952.199 361.223 L 954.359 359.063 L 957.059 361.439 L 960.839 367.379 L 962.459 368.459 L 965.159 364.463 L 967.319 364.679 L 971.639 360.143 L 973.799 359.603 L 975.959 360.575 L 977.903 359.819 L 980.063 364.139 L 981.899 364.463 L 986.219 368.459 L 988.379 364.679 L 990.539 369.863 L 993.239 357.119 L 995.399 352.583 L 997.343 351.179 L 999.179 352.259 L 1001.879 357.659 L 1004.039 364.679 L 1005.659 370.295 L 1007.819 366.623 L 1009.979 368.459 L 1011.599 364.139 L 1014.299 361.439 L 1016.459 361.223 L 1018.619 359.819 L 1020.563 356.903 L 1022.615 365.219 L 1025.099 371.159 L 1028.879 368.459 L 1031.039 371.699 L 1033.199 372.779 L 1037.519 381.095 L 1039.679 379.259 L 1041.839 381.095 L 1043.999 376.559 L 1046.159 376.019 L 1048.319 378.719 L 1050.479 377.099 L 1052.639 377.099 L 1054.583 375.479 L 1056.959 377.639 L 1060.739 375.695 L 1063.439 376.019 L 1065.815 371.699 L 1067.759 370.079 L 1069.919 372.023 L 1072.079 373.535 L 1074.779 369.539 L 1078.019 363.815 L 1080.179 369.215 L 1083.239 371.159 L 1086.479 373.319 L 1088.639 373.535 L 1091.339 375.263 L 1092.959 375.263 L 1095.119 367.919 L 1097.819 368.135 L 1101.599 368.459 L 1105.379 366.623 L 1108.079 365.543 L 1110.779 369.215 L 1113.479 369.539 L 1117.259 368.783 L 1120.499 372.779 L 1122.659 373.535 L 1125.359 369.539 L 1129.139 370.619 L 1133.459 363.815 L 1135.619 370.619 L 1138.319 371.699 L 1141.559 370.079 L 1144.259 375.695 L 1146.419 375.263 L 1150.199 367.379 L 1152.575 366.299 L 1154.519 368.135 L 1157.759 365.759 L 1160.999 364.895 L 1165.319 366.623 L 1170.179 363.059 L 1171.799 363.383 L 1175.039 365.543 L 1176.659 365.759 L 1180.439 361.655 L 1182.599 364.895 L 1184.543 360.359 L 1186.919 361.655 L 1187.208 374.4 L 1188.72 447.12 L 1190.16 471.6 L 1192.32 460.8 L 1194.48 452.16 L 1195.92 444.24 L 1197.36 436.32 L 1199.88 436.32 L 1201.392 431.28 L 1203.84 419.04 L 1206.432 414.432 L 1207.944 406.8 L 1210.032 406.08 L 1213.056 408.24 L 1214.64 424.8 L 1217.088 448.56 L 1218.96 455.76 L 1221.12 467.28 L 1222.56 466.2 L 1225.224 475.92 L 1226.16 480.96 L 1227.24 479.88 L 1230.264 475.92 L 1231.2 445.392 L 1233.36 453.6 L 1235.52 464.4 L 1237.392 463.68 L 1239.408 461.52 L 1241.424 461.088 L 1244.88 460.8 
" clip-path="url(#pd7421a44a7)" style="fill: none; stroke: #000000; stroke-width: 1.9; stroke-linecap: square"/>
</g>
<g id="patch_99">
<path d="M 886.32 591.84 L 886.32 344.16 
" style="fill: none; stroke: #000000; stroke-width: 1.5; stroke-linejoin: miter; stroke-linecap: square"/>
</g>
<g id="patch_100">
<path d="M 1296 591.84 L 1296 344.16 
" style="fill: none; stroke: #000000; stroke-width: 1.5; stroke-linejoin: miter; stroke-linecap: square"/>
</g>
<g id="patch_101">
<path d="M 886.32 591.84 L 1296 591.84 
" style="fill: none; stroke: #000000; stroke-width: 1.5; stroke-linejoin: miter; stroke-linecap: square"/>
</g>
<g id="patch_102">
<path d="M 886.32 344.16 L 1296 344.16 
" style="fill: none; stroke: #000000; stroke-width: 1.5; stroke-linejoin: miter; stroke-linecap: square"/>
</g>
</g>
<g id="axes_7">
<g id="matplotlib.axis_12">
<g id="ytick_61">
<g id="line2d_149">
<g>
<path d="M 1296.00 591.84 L 1292.00 591.84" style="fill: #ff0000; stroke: #ff0000; stroke-width: 0.8"/>
</g>
</g>
<g id="text_62">
<g style="fill: #ff0000" transform="translate(1300.220 598.031)">
<text xml:space="preserve"><tspan x="0.00" y="-0.367" style="font-size: 14.4px; font-family: 'DejaVu Sans', sans-serif; fill: #ff0000">10</tspan><tspan x="18.43" y="-5.01" style="font-size: 10.08px; font-family: 'DejaVu Sans', sans-serif; fill: #ff0000">−2</tspan></text>
</g>
</g>
</g>
<g id="ytick_62">
<g id="line2d_150">
<g>
<path d="M 1296.00 529.92 L 1292.00 529.92" style="fill: #ff0000; stroke: #ff0000; stroke-width: 0.8"/>
</g>
</g>
<g id="text_63">
<g style="fill: #ff0000" transform="translate(1300.220 536.111)">
<text xml:space="preserve"><tspan x="0.00" y="-0.498" style="font-size: 14.4px; font-family: 'DejaVu Sans', sans-serif; fill: #ff0000">10</tspan><tspan x="18.43" y="-5.14" style="font-size: 10.08px; font-family: 'DejaVu Sans', sans-serif; fill: #ff0000">−1</tspan></text>
</g>
</g>
</g>
<g id="ytick_63">
<g id="line2d_151">
<g>
<path d="M 1296.00 468.00 L 1292.00 468.00" style="fill: #ff0000; stroke: #ff0000; stroke-width: 0.8"/>
</g>
</g>
<g id="text_64">
<g style="fill: #ff0000" transform="translate(1300.220 474.191)">
<text xml:space="preserve"><tspan x="0.00" y="-0.367" style="font-size: 14.4px; font-family: 'DejaVu Sans', sans-serif; fill: #ff0000">10</tspan><tspan x="18.43" y="-5.01" style="font-size: 10.08px; font-family: 'DejaVu Sans', sans-serif; fill: #ff0000">0</tspan></text>
</g>
</g>
</g>
<g id="ytick_64">
<g id="line2d_152">
<g>
<path d="M 1296.00 406.08 L 1292.00 406.08" style="fill: #ff0000; stroke: #ff0000; stroke-width: 0.8"/>
</g>
</g>
<g id="text_65">
<g style="fill: #ff0000" transform="translate(1300.220 412.271)">
<text xml:space="preserve"><tspan x="0.00" y="-0.498" style="font-size: 14.4px; font-family: 'DejaVu Sans', sans-serif; fill: #ff0000">10</tspan><tspan x="18.43" y="-5.14" style="font-size: 10.08px; font-family: 'DejaVu Sans', sans-serif; fill: #ff0000">1</tspan></text>
</g>
</g>
</g>
<g id="ytick_65">
<g id="line2d_153">
<g>
<path d="M 1296.00 344.16 L 1292.00 344.16" style="fill: #ff0000; stroke: #ff0000; stroke-width: 0.8"/>
</g>
</g>
<g id="text_66">
<g style="fill: #ff0000" transform="translate(1300.220 350.351)">
<text xml:space="preserve"><tspan x="0.00" y="-0.367" style="font-size: 14.4px; font-family: 'DejaVu Sans', sans-serif; fill: #ff0000">10</tspan><tspan x="18.43" y="-5.01" style="font-size: 10.08px; font-family: 'DejaVu Sans', sans-serif; fill: #ff0000">2</tspan></text>
</g>
</g>
</g>
<g id="ytick_66">
<g id="line2d_154">
<g>
<path d="M 1296.00 573.20 L 1293.50 573.20" style="fill: #ff0000; stroke: #ff0000; stroke-width: 0.6"/>
</g>
</g>
</g>
<g id="ytick_67">
<g id="line2d_155">
<g>
<path d="M 1296.00 562.30 L 1293.50 562.30" style="fill: #ff0000; stroke: #ff0000; stroke-width: 0.6"/>
</g>
</g>
</g>
<g id="ytick_68">
<g id="line2d_156">
<g>
<path d="M 1296.00 554.56 L 1293.50 554.56" style="fill: #ff0000; stroke: #ff0000; stroke-width: 0.6"/>
</g>
</g>
</g>
<g id="ytick_69">
<g id="line2d_157">
<g>
<path d="M 1296.00 548.56 L 1293.50 548.56" style="fill: #ff0000; stroke: #ff0000; stroke-width: 0.6"/>
</g>
</g>
</g>
<g id="ytick_70">
<g id="line2d_158">
<g>
<path d="M 1296.00 543.66 L 1293.50 543.66" style="fill: #ff0000; stroke: #ff0000; stroke-width: 0.6"/>
</g>
</g>
</g>
<g id="ytick_71">
<g id="line2d_159">
<g>
<path d="M 1296.00 539.51 L 1293.50 539.51" style="fill: #ff0000; stroke: #ff0000; stroke-width: 0.6"/>
</g>
</g>
</g>
<g id="ytick_72">
<g id="line2d_160">
<g>
<path d="M 1296.00 535.92 L 1293.50 535.92" style="fill: #ff0000; stroke: #ff0000; stroke-width: 0.6"/>
</g>
</g>
</g>
<g id="ytick_73">
<g id="line2d_161">
<g>
<path d="M 1296.00 532.75 L 1293.50 532.75" style="fill: #ff0000; stroke: #ff0000; stroke-width: 0.6"/>
</g>
</g>
</g>
<g id="ytick_74">
<g id="line2d_162">
<g>
<path d="M 1296.00 511.28 L 1293.50 511.28" style="fill: #ff0000; stroke: #ff0000; stroke-width: 0.6"/>
</g>
</g>
</g>
<g id="ytick_75">
<g id="line2d_163">
<g>
<path d="M 1296.00 500.38 L 1293.50 500.38" style="fill: #ff0000; stroke: #ff0000; stroke-width: 0.6"/>
</g>
</g>
</g>
<g id="ytick_76">
<g id="line2d_164">
<g>
<path d="M 1296.00 492.64 L 1293.50 492.64" style="fill: #ff0000; stroke: #ff0000; stroke-width: 0.6"/>
</g>
</g>
</g>
<g id="ytick_77">
<g id="line2d_165">
<g>
<path d="M 1296.00 486.64 L 1293.50 486.64" style="fill: #ff0000; stroke: #ff0000; stroke-width: 0.6"/>
</g>
</g>
</g>
<g id="ytick_78">
<g id="line2d_166">
<g>
<path d="M 1296.00 481.74 L 1293.50 481.74" style="fill: #ff0000; stroke: #ff0000; stroke-width: 0.6"/>
</g>
</g>
</g>
<g id="ytick_79">
<g id="line2d_167">
<g>
<path d="M 1296.00 477.59 L 1293.50 477.59" style="fill: #ff0000; stroke: #ff0000; stroke-width: 0.6"/>
</g>
</g>
</g>
<g id="ytick_80">
<g id="line2d_168">
<g>
<path d="M 1296.00 474.00 L 1293.50 474.00" style="fill: #ff0000; stroke: #ff0000; stroke-width: 0.6"/>
</g>
</g>
</g>
<g id="ytick_81">
<g id="line2d_169">
<g>
<path d="M 1296.00 470.83 L 1293.50 470.83" style="fill: #ff0000; stroke: #ff0000; stroke-width: 0.6"/>
</g>
</g>
</g>
<g id="ytick_82">
<g id="line2d_170">
<g>
<path d="M 1296.00 449.36 L 1293.50 449.36" style="fill: #ff0000; stroke: #ff0000; stroke-width: 0.6"/>
</g>
</g>
</g>
<g id="ytick_83">
<g id="line2d_171">
<g>
<path d="M 1296.00 438.46 L 1293.50 438.46" style="fill: #ff0000; stroke: #ff0000; stroke-width: 0.6"/>
</g>
</g>
</g>
<g id="ytick_84">
<g id="line2d_172">
<g>
<path d="M 1296.00 430.72 L 1293.50 430.72" style="fill: #ff0000; stroke: #ff0000; stroke-width: 0.6"/>
</g>
</g>
</g>
<g id="ytick_85">
<g id="line2d_173">
<g>
<path d="M 1296.00 424.72 L 1293.50 424.72" style="fill: #ff0000; stroke: #ff0000; stroke-width: 0.6"/>
</g>
</g>
</g>
<g id="ytick_86">
<g id="line2d_174">
<g>
<path d="M 1296.00 419.82 L 1293.50 419.82" style="fill: #ff0000; stroke: #ff0000; stroke-width: 0.6"/>
</g>
</g>
</g>
<g id="ytick_87">
<g id="line2d_175">
<g>
<path d="M 1296.00 415.67 L 1293.50 415.67" style="fill: #ff0000; stroke: #ff0000; stroke-width: 0.6"/>
</g>
</g>
</g>
<g id="ytick_88">
<g id="line2d_176">
<g>
<path d="M 1296.00 412.08 L 1293.50 412.08" style="fill: #ff0000; stroke: #ff0000; stroke-width: 0.6"/>
</g>
</g>
</g>
<g id="ytick_89">
<g id="line2d_177">
<g>
<path d="M 1296.00 408.91 L 1293.50 408.91" style="fill: #ff0000; stroke: #ff0000; stroke-width: 0.6"/>
</g>
</g>
</g>
<g id="ytick_90">
<g id="line2d_178">
<g>
<path d="M 1296.00 387.44 L 1293.50 387.44" style="fill: #ff0000; stroke: #ff0000; stroke-width: 0.6"/>
</g>
</g>
</g>
<g id="ytick_91">
<g id="line2d_179">
<g>
<path d="M 1296.00 376.54 L 1293.50 376.54" style="fill: #ff0000; stroke: #ff0000; stroke-width: 0.6"/>
</g>
</g>
</g>
<g id="ytick_92">
<g id="line2d_180">
<g>
<path d="M 1296.00 368.80 L 1293.50 368.80" style="fill: #ff0000; stroke: #ff0000; stroke-width: 0.6"/>
</g>
</g>
</g>
<g id="ytick_93">
<g id="line2d_181">
<g>
<path d="M 1296.00 362.80 L 1293.50 362.80" style="fill: #ff0000; stroke: #ff0000; stroke-width: 0.6"/>
</g>
</g>
</g>
<g id="ytick_94">
<g id="line2d_182">
<g>
<path d="M 1296.00 357.90 L 1293.50 357.90" style="fill: #ff0000; stroke: #ff0000; stroke-width: 0.6"/>
</g>
</g>
</g>
<g id="ytick_95">
<g id="line2d_183">
<g>
<path d="M 1296.00 353.75 L 1293.50 353.75" style="fill: #ff0000; stroke: #ff0000; stroke-width: 0.6"/>
</g>
</g>
</g>
<g id="ytick_96">
<g id="line2d_184">
<g>
<path d="M 1296.00 350.16 L 1293.50 350.16" style="fill: #ff0000; stroke: #ff0000; stroke-width: 0.6"/>
</g>
</g>
</g>
<g id="ytick_97">
<g id="line2d_185">
<g>
<path d="M 1296.00 346.99 L 1293.50 346.99" style="fill: #ff0000; stroke: #ff0000; stroke-width: 0.6"/>
</g>
</g>
</g>
<g id="text_67">
<text style="font-size: 17.28px; font-family: 'DejaVu Sans', sans-serif; fill: #ff0000" transform="translate(1349.712 522.806) rotate(-90)">SW Pressure</text>
<text style="font-size: 17.28px; font-family: 'DejaVu Sans', sans-serif; fill: #ff0000" transform="translate(1372.594 495.821) rotate(-90)">( nPa )</text>
</g>
</g>
<g id="line2d_186">
<path d="M 886.32 509.76 L 886.608 519.48 L 886.896 511.399 L 887.184 520.008 L 887.472 511.424 L 887.76 514.387 L 888.048 512.143 L 888.336 514.971 L 888.624 508.929 L 888.912 514.522 L 889.2 508.32 L 889.488 522.390 L 889.776 508.991 L 890.064 513.973 L 890.352 511.685 L 890.64 514.811 L 890.928 511.757 L 891.216 513.763 L 891.504 511.175 L 891.792 520.041 L 892.08 508.536 L 892.368 515.112 L 892.656 511.345 L 892.944 514.521 L 893.232 512.148 L 893.52 524.88 L 893.808 507.672 L 894.096 518.754 L 894.384 514.637 L 894.672 538.08 L 894.96 506.4 L 895.248 521.229 L 895.536 505.632 L 895.824 525.916 L 896.112 508.243 L 896.4 513.587 L 896.688 504.538 L 896.976 522.637 L 897.264 508.106 L 897.552 521.784 L 897.84 505.44 L 898.128 515.428 L 898.416 508.32 L 898.704 528.84 L 898.992 514.163 L 899.28 525.241 L 899.568 510.672 L 899.856 521.798 L 900.144 510.654 L 900.432 523.068 L 900.72 511.843 L 901.008 518.750 L 901.296 509.04 L 901.584 528.004 L 901.872 509.501 L 902.16 514.199 L 902.448 510.166 L 902.736 511.921 L 903.024 507.242 L 903.312 518.371 L 903.6 503.424 L 903.888 510.606 L 904.176 507.014 L 904.464 513.762 L 904.752 506.011 L 905.04 517.68 L 905.328 501.408 L 905.616 505.961 L 905.904 496.663 L 906.192 519.36 L 906.48 485.28 L 906.768 517.045 L 907.056 477.216 L 907.344 530.136 L 907.632 482.106 L 907.92 502.910 L 908.208 482.047 L 908.496 508.824 L 908.784 474.48 L 909.072 487.149 L 909.36 480.093 L 909.648 501.839 L 909.936 477.312 L 910.224 488.995 L 910.512 480.072 L 910.8 500.4 L 911.088 476.496 L 911.376 500.4 L 911.664 479.04 L 911.952 490.323 L 912.24 480.446 L 912.528 500.893 L 912.816 482.233 L 913.104 487.022 L 913.392 480.318 L 913.68 506.52 L 913.968 470.736 L 914.256 485.256 L 914.544 472.246 L 914.832 498.539 L 915.12 464.4 L 915.408 502.24 L 915.696 458.623 L 915.984 478.283 L 916.272 447.12 L 916.56 504 L 916.848 463.422 L 917.136 479.197 L 917.424 470.675 L 917.712 530.784 L 918 460.8 L 918.288 551.52 L 918.576 478.246 L 918.864 498.651 L 919.152 451.84 L 919.44 551.52 L 919.728 469.398 L 920.016 495.754 L 920.304 474.968 L 920.592 552.06 L 920.88 460.62 L 921.168 505.957 L 921.456 475.887 L 921.744 548.691 L 922.032 469.908 L 922.32 565.56 L 922.608 462.132 L 922.896 580.114 L 923.184 469.763 L 923.472 532.793 L 923.76 485.816 L 924.048 640.457 L 924.336 480.126 L 924.624 553.211 L 924.912 477.411 L 925.2 557.556 L 925.488 461.936 L 925.776 648 L 926.064 505.753 L 926.352 640.674 L 926.64 482.4 L 926.928 648 L 927.216 515.478 L 927.504 559.741 L 927.792 512.878 L 928.08 647.297 L 928.368 503.136 L 928.656 648 L 928.944 521.28 L 929.232 578.334 L 929.52 523.587 L 929.808 573.920 L 930.096 548.120 L 930.384 574.045 L 930.672 541.616 L 930.96 577.617 L 931.248 521.28 L 931.536 648 L 931.824 529.585 L 932.112 648 L 932.4 486 L 932.688 576.684 L 932.976 494.64 L 933.264 648 L 933.552 520.133 L 933.84 648 L 934.128 459.99 L 934.416 544.570 L 934.704 492.854 L 934.992 648 L 935.28 459.72 L 935.568 538.56 L 935.856 474.741 L 936.144 517.596 L 936.432 477.055 L 936.72 538.56 L 937.008 472.896 L 937.296 522.432 L 937.584 475.92 L 937.872 490.204 L 938.16 475.92 L 938.448 507.916 L 938.736 481.581 L 939.024 494.166 L 939.312 482.550 L 939.6 512.418 L 939.888 481.449 L 940.176 528.48 L 940.464 491.219 L 940.752 502.018 L 941.04 478.8 L 941.328 530.592 L 941.616 485.768 L 941.904 502.894 L 942.192 479.712 L 942.48 540 L 942.768 494.808 L 943.056 545.76 L 943.344 485.28 L 943.632 544.876 L 943.92 496.8 L 944.208 547.488 L 944.496 503.504 L 944.784 544.241 L 945.072 505.909 L 945.36 554.4 L 945.648 497.856 L 945.936 522.183 L 946.224 500.218 L 946.512 521.760 L 946.8 510.423 L 947.088 530.050 L 947.376 495.552 L 947.664 550.368 L 947.952 497.087 L 948.24 524.481 L 948.528 496.887 L 948.816 541.152 L 949.104 485.784 L 949.392 510.362 L 949.68 492.456 L 949.968 527.833 L 950.256 495.576 L 950.544 538.224 L 950.832 505.992 L 951.12 530.604 L 951.408 500.16 L 951.696 549.324 L 951.984 506.128 L 952.272 516.463 L 952.56 503.000 L 952.848 545.292 L 953.136 483.876 L 953.424 503.374 L 953.712 470.718 L 954 534.6 L 954.288 475.049 L 954.576 519.606 L 954.864 478.359 L 955.152 517.392 L 955.44 472.14 L 955.728 494.631 L 956.016 473.881 L 956.304 497.453 L 956.592 465.068 L 956.88 498.24 L 957.168 471.973 L 957.456 479.996 L 957.744 471.978 L 958.032 481.208 L 958.32 471.150 L 958.608 478.067 L 958.896 463.422 L 959.184 498.406 L 959.472 473.153 L 959.76 478.973 L 960.048 471.084 L 960.336 491.094 L 960.624 472.094 L 960.912 500.4 L 961.2 468 L 961.488 648 L 961.776 474.39 L 962.064 509.414 L 962.352 475.848 L 962.64 492.987 L 962.928 484.884 L 963.216 493.729 L 963.504 482.654 L 963.792 518.4 L 964.08 480.456 L 964.368 648 L 964.656 487.68 L 964.944 610.56 L 965.232 493.747 L 965.52 553.392 L 965.808 492.521 L 966.096 516.730 L 966.384 505.418 L 966.672 531.326 L 966.96 489.6 L 967.248 546.912 L 967.536 499.640 L 967.824 521.009 L 968.112 498.248 L 968.4 537.12 L 968.688 480.48 L 968.976 523.636 L 969.264 488.533 L 969.552 517.572 L 969.84 468.36 L 970.128 510.948 L 970.416 460.396 L 970.704 497.271 L 970.992 468.003 L 971.28 471.979 L 971.568 462.315 L 971.856 484.617 L 972.144 452.736 L 972.432 465.821 L 972.72 459.153 L 973.008 465.679 L 973.296 457.344 L 973.584 481.68 L 973.872 459.978 L 974.16 480.233 L 974.448 466.717 L 974.736 516.24 L 975.024 456.84 L 975.312 497.032 L 975.6 463.524 L 975.888 488.519 L 976.176 465.48 L 976.464 524.448 L 976.752 489.530 L 977.04 525.6 L 977.328 498.729 L 977.616 513.277 L 977.904 502.670 L 978.192 514.387 L 978.48 500.839 L 978.768 517.305 L 979.056 497.736 L 979.344 508.440 L 979.632 500.392 L 979.92 509.501 L 980.208 498.888 L 980.496 528.033 L 980.784 505.284 L 981.072 511.708 L 981.36 502.181 L 981.648 512.117 L 981.936 496.641 L 982.224 535.428 L 982.512 507.194 L 982.8 515.684 L 983.088 510.526 L 983.376 536.292 L 983.664 505.296 L 983.952 521.454 L 984.24 510.990 L 984.528 530.661 L 984.816 515.664 L 985.104 540.528 L 985.392 518.679 L 985.68 534.327 L 985.968 517.064 L 986.256 523.413 L 986.544 516.057 L 986.832 529.587 L 987.12 512.64 L 987.408 532.56 L 987.696 514.694 L 987.984 521.877 L 988.272 515.224 L 988.56 518.281 L 988.848 513.971 L 989.136 531.12 L 989.424 504.384 L 989.712 513.318 L 990 495.097 L 990.288 519.24 L 990.576 479.304 L 990.864 484.501 L 991.152 458.472 L 991.44 503.04 L 991.728 463.488 L 992.016 501.504 L 992.304 457.164 L 992.592 497.180 L 992.88 464.650 L 993.168 479.513 L 993.456 465.516 L 993.744 504.144 L 994.032 478.665 L 994.32 488.440 L 994.608 475.296 L 994.896 511.776 L 995.184 469.008 L 995.472 487.503 L 995.76 444.96 L 996.048 499.276 L 996.336 454.174 L 996.624 467.408 L 996.912 454.677 L 997.2 462.084 L 997.488 440.121 L 997.776 488.844 L 998.064 437.762 L 998.352 456.733 L 998.64 439.679 L 998.928 484.812 L 999.216 432.460 L 999.504 470.247 L 999.792 441.518 L 1000.08 456.578 L 1000.368 443.390 L 1000.656 483.897 L 1000.944 439.536 L 1001.232 473.310 L 1001.52 452.822 L 1001.808 486.864 L 1002.096 446.562 L 1002.384 461.820 L 1002.672 454.484 L 1002.96 468.520 L 1003.248 447.426 L 1003.536 474.66 L 1003.824 450.542 L 1004.112 466.309 L 1004.4 452.594 L 1004.688 471.78 L 1004.976 452.592 L 1005.264 463.241 L 1005.552 453.542 L 1005.84 468 L 1006.128 452.448 L 1006.416 466.251 L 1006.704 456.554 L 1006.992 461.886 L 1007.28 456.48 L 1007.568 472.32 L 1007.856 454.756 L 1008.144 458.095 L 1008.432 448.205 L 1008.72 475.2 L 1009.008 440.832 L 1009.296 475.466 L 1009.584 449.903 L 1009.872 494.928 L 1010.16 441.72 L 1010.448 471.062 L 1010.736 442.296 L 1011.024 482.796 L 1011.312 449.894 L 1011.6 481.443 L 1011.888 447.416 L 1012.176 514.764 L 1012.464 427.968 L 1012.752 461.180 L 1013.04 432 L 1013.328 479.52 L 1013.616 435.456 L 1013.904 475.776 L 1014.192 442.613 L 1014.48 471.467 L 1014.768 443.631 L 1015.056 480.384 L 1015.344 437.22 L 1015.632 469.677 L 1015.92 454.878 L 1016.208 521.230 L 1016.496 441.54 L 1016.784 550.944 L 1017.072 461.443 L 1017.36 565.92 L 1017.648 441.36 L 1017.936 518.846 L 1018.224 446.272 L 1018.512 483.147 L 1018.8 441.36 L 1019.088 536.544 L 1019.376 444.608 L 1019.664 482.379 L 1019.952 455.068 L 1020.24 540 L 1020.528 443.904 L 1020.816 485.602 L 1021.104 467.758 L 1021.392 547.956 L 1021.68 434.52 L 1021.968 554.004 L 1022.256 424.08 L 1022.544 471.280 L 1022.832 426.738 L 1023.12 518.4 L 1023.408 425.088 L 1023.696 461.281 L 1023.984 444.581 L 1024.272 453.608 L 1024.56 429.12 L 1024.848 483.264 L 1025.136 431.265 L 1025.424 467.572 L 1025.712 428.305 L 1026 489.6 L 1026.288 427.032 L 1026.576 463.755 L 1026.864 442.525 L 1027.152 461.874 L 1027.44 450.659 L 1027.728 470.091 L 1028.016 429.624 L 1028.304 523.824 L 1028.592 452.926 L 1028.88 468.026 L 1029.168 443.537 L 1029.456 470.072 L 1029.744 454.136 L 1030.032 471.060 L 1030.32 436.32 L 1030.608 506.88 L 1030.896 432.864 L 1031.184 511.2 L 1031.472 434.552 L 1031.76 511.2 L 1032.048 416.688 L 1032.336 458.756 L 1032.624 441.042 L 1032.912 474.72 L 1033.2 428.28 L 1033.488 446.742 L 1033.776 422.328 L 1034.064 468.72 L 1034.352 435.179 L 1034.64 447.510 L 1034.928 437.999 L 1035.216 474.48 L 1035.504 433.872 L 1035.792 484.487 L 1036.08 447.562 L 1036.368 501.408 L 1036.656 431.514 L 1036.944 463.946 L 1037.232 441.496 L 1037.52 464.911 L 1037.808 428.922 L 1038.096 474.768 L 1038.384 431.236 L 1038.672 448.524 L 1038.96 436.771 L 1039.248 451.420 L 1039.536 432.403 L 1039.824 481.68 L 1040.112 445.988 L 1040.4 471.425 L 1040.688 432.048 L 1040.976 557.568 L 1041.264 460.840 L 1041.552 581.76 L 1041.84 431.46 L 1042.128 581.76 L 1042.416 433.728 L 1042.704 492.401 L 1042.992 437.688 L 1043.28 513 L 1043.568 437.112 L 1043.856 487.44 L 1044.144 449.324 L 1044.432 489.549 L 1044.72 436.32 L 1045.008 521.424 L 1045.296 458.336 L 1045.584 477.236 L 1045.872 457.543 L 1046.16 514.907 L 1046.448 436.665 L 1046.736 517.536 L 1047.024 457.315 L 1047.312 477.131 L 1047.6 449.28 L 1047.888 515.736 L 1048.176 450.533 L 1048.464 477.975 L 1048.752 460.695 L 1049.04 522.36 L 1049.328 444.144 L 1049.616 513.803 L 1049.904 456.143 L 1050.192 503.029 L 1050.48 456.450 L 1050.768 493.643 L 1051.056 443.568 L 1051.344 509.04 L 1051.632 458.066 L 1051.92 466.531 L 1052.208 444.864 L 1052.496 493.632 L 1052.784 456.673 L 1053.072 470.382 L 1053.36 446.4 L 1053.648 506.304 L 1053.936 447.425 L 1054.224 478.626 L 1054.512 449.681 L 1054.8 504 L 1055.088 447.912 L 1055.376 469.726 L 1055.664 459.994 L 1055.952 470.911 L 1056.24 452.189 L 1056.528 494.323 L 1056.816 446.076 L 1057.104 465.588 L 1057.392 453.816 L 1057.68 464.738 L 1057.968 444.348 L 1058.256 492.048 L 1058.544 456.466 L 1058.832 466.474 L 1059.12 458.952 L 1059.408 489.744 L 1059.696 448.963 L 1059.984 467.817 L 1060.272 448.467 L 1060.56 470.375 L 1060.848 445.263 L 1061.136 479.664 L 1061.424 441.590 L 1061.712 484.100 L 1062 455.078 L 1062.288 479.113 L 1062.576 450.658 L 1062.864 476.322 L 1063.152 444.312 L 1063.44 518.58 L 1063.728 448.728 L 1064.016 477.312 L 1064.304 456.775 L 1064.592 526.284 L 1064.88 446.04 L 1065.168 531.756 L 1065.456 447.696 L 1065.744 469.062 L 1066.032 450.252 L 1066.32 481.86 L 1066.608 454.588 L 1066.896 473.877 L 1067.184 455.828 L 1067.472 496.332 L 1067.76 444.24 L 1068.048 470.436 L 1068.336 451.827 L 1068.624 490.803 L 1068.912 452.736 L 1069.2 517.68 L 1069.488 451.584 L 1069.776 519.192 L 1070.064 466.388 L 1070.352 482.994 L 1070.64 457.909 L 1070.928 485.177 L 1071.216 457.191 L 1071.504 492.080 L 1071.792 445.404 L 1072.08 509.46 L 1072.368 449.560 L 1072.656 474.461 L 1072.944 463.987 L 1073.232 517.502 L 1073.52 464.926 L 1073.808 521.844 L 1074.096 449.568 L 1074.384 482.508 L 1074.672 453.340 L 1074.96 514.944 L 1075.248 453.254 L 1075.536 480.485 L 1075.824 467.498 L 1076.112 512.643 L 1076.4 447.12 L 1076.688 534.528 L 1076.976 465.239 L 1077.264 485.445 L 1077.552 447.888 L 1077.84 538.32 L 1078.128 469.245 L 1078.416 536.784 L 1078.704 447.56 L 1078.992 481.908 L 1079.28 462.163 L 1079.568 483.473 L 1079.856 439.56 L 1080.144 526.385 L 1080.432 447.578 L 1080.72 495.874 L 1081.008 466.822 L 1081.296 529.527 L 1081.584 447.336 L 1081.872 525.535 L 1082.16 454.506 L 1082.448 491.375 L 1082.736 449.064 L 1083.024 519.264 L 1083.312 468.747 L 1083.6 517.082 L 1083.888 456.571 L 1084.176 537.696 L 1084.464 452.448 L 1084.752 493.129 L 1085.04 453.6 L 1085.328 553.272 L 1085.616 472.166 L 1085.904 494.611 L 1086.192 457.008 L 1086.48 550.8 L 1086.768 474.681 L 1087.056 556.56 L 1087.344 465.84 L 1087.632 508.776 L 1087.92 490.083 L 1088.208 573.456 L 1088.496 483.84 L 1088.784 537.208 L 1089.072 506.16 L 1089.36 518.4 L 1089.648 508.248 L 1089.936 503.442 L 1090.224 495.962 L 1090.512 490.205 L 1090.8 482.169 L 1091.088 478.408 L 1091.376 469.584 L 1091.664 465.301 L 1091.952 456.595 L 1092.24 453.6 L 1092.528 448.848 L 1092.816 519.84 L 1093.104 448.286 L 1093.392 491.834 L 1093.68 458.999 L 1093.968 490.257 L 1094.256 453.361 L 1094.544 494.595 L 1094.832 450.216 L 1095.12 536.76 L 1095.408 457.704 L 1095.696 537.696 L 1095.984 476.222 L 1096.272 492.904 L 1096.56 460.08 L 1096.848 540.576 L 1097.136 471.048 L 1097.424 501.880 L 1097.712 450.792 L 1098 541.26 L 1098.288 454.147 L 1098.576 524.114 L 1098.864 470.424 L 1099.152 538.596 L 1099.44 451.71 L 1099.728 519.672 L 1100.016 459.961 L 1100.304 532.645 L 1100.592 450.374 L 1100.88 534.816 L 1101.168 459.802 L 1101.456 482.731 L 1101.744 465.714 L 1102.032 509.170 L 1102.32 450.72 L 1102.608 516.96 L 1102.896 460.876 L 1103.184 479.288 L 1103.472 469.556 L 1103.76 516.96 L 1104.048 455.136 L 1104.336 491.031 L 1104.624 471.783 L 1104.912 555.216 L 1105.2 459.36 L 1105.488 537.558 L 1105.776 459.36 L 1106.064 536.112 L 1106.352 469.792 L 1106.64 491.974 L 1106.928 475.124 L 1107.216 499.164 L 1107.504 462.446 L 1107.792 529.2 L 1108.08 465.48 L 1108.368 500.4 L 1108.656 470.214 L 1108.944 485.713 L 1109.232 478.300 L 1109.52 483.661 L 1109.808 470.502 L 1110.096 508.032 L 1110.384 474.754 L 1110.672 493.167 L 1110.96 461.52 L 1111.248 527.424 L 1111.536 467.567 L 1111.824 489.727 L 1112.112 458.496 L 1112.4 543.12 L 1112.688 473.141 L 1112.976 553.872 L 1113.264 470.208 L 1113.552 514.039 L 1113.84 490.779 L 1114.128 567.984 L 1114.416 461.376 L 1114.704 523.463 L 1114.992 475.031 L 1115.28 541.218 L 1115.568 462.528 L 1115.856 578.016 L 1116.144 491.863 L 1116.432 556.004 L 1116.72 462.96 L 1117.008 581.76 L 1117.296 462.96 L 1117.584 594.72 L 1117.872 494.674 L 1118.16 568.8 L 1118.448 466.848 L 1118.736 535.654 L 1119.024 478.496 L 1119.312 518.409 L 1119.6 476.64 L 1120.032 559.8 L 1120.464 498.632 L 1120.896 549 L 1121.328 480.816 L 1121.76 518.212 L 1122.192 480.924 L 1122.624 548.136 L 1123.056 467.64 L 1123.488 541.581 L 1123.92 467.64 L 1124.352 581.76 L 1124.784 481.968 L 1125.216 581.76 L 1125.648 497.895 L 1126.08 581.76 L 1126.512 508.32 L 1126.944 597.6 L 1127.376 515.808 L 1127.808 597.6 L 1128.24 541.451 L 1128.672 558.934 L 1129.104 526.608 L 1129.536 597.6 L 1129.968 511.056 L 1130.4 597.6 L 1130.832 522.110 L 1131.264 597.6 L 1131.696 516.552 L 1132.128 597.6 L 1132.56 518.04 L 1132.992 597.6 L 1133.424 512.388 L 1133.856 560.953 L 1134.288 511.956 L 1134.72 597.6 L 1135.152 496.8 L 1135.584 597.6 L 1136.016 516.279 L 1136.448 538.867 L 1136.88 496.8 L 1137.312 597.6 L 1137.744 502.56 L 1138.176 595.008 L 1138.608 523.099 L 1139.04 584.64 L 1139.472 494.352 L 1139.904 584.28 L 1140.336 498.288 L 1140.768 584.28 L 1141.2 504.09 L 1141.632 535.656 L 1142.064 504.306 L 1142.496 577.584 L 1142.928 521.117 L 1143.36 586.8 L 1143.792 500.832 L 1144.224 597.6 L 1144.656 486.432 L 1145.088 597.6 L 1145.52 493.925 L 1145.952 545.075 L 1146.384 493.152 L 1146.816 597.6 L 1147.248 479.904 L 1147.68 597.6 L 1148.112 494.378 L 1148.544 597.6 L 1148.976 479.232 L 1149.408 546.005 L 1149.84 493.92 L 1150.272 597.6 L 1150.704 515.953 L 1151.136 597.6 L 1151.568 492.768 L 1152 597.6 L 1152.432 479.232 L 1152.864 597.6 L 1153.296 467.784 L 1153.728 578.16 L 1154.16 467.055 L 1154.592 573.84 L 1155.024 468.81 L 1155.456 597.6 L 1155.888 472.032 L 1156.32 531.72 L 1156.752 473.616 L 1157.184 497.741 L 1157.616 479.484 L 1158.048 526.022 L 1158.48 473.04 L 1158.912 541.008 L 1159.344 472.896 L 1159.776 553.248 L 1160.208 478.463 L 1160.64 562.32 L 1161.072 489.312 L 1161.504 562.32 L 1161.936 498.528 L 1162.368 562.32 L 1162.8 499.86 L 1163.232 597.6 L 1163.664 490.86 L 1164.096 597.6 L 1164.528 413.64 L 1164.96 489.983 L 1165.392 469.08 L 1165.824 562.32 L 1166.256 502.892 L 1166.688 559.152 L 1167.12 497.88 L 1167.552 552.24 L 1167.984 492.144 L 1168.416 550.8 L 1168.848 485.808 L 1169.28 552.96 L 1169.712 499.551 L 1170.144 556.992 L 1170.576 497.52 L 1171.008 529.294 L 1171.44 499.68 L 1171.872 563.04 L 1172.304 501.984 L 1172.736 571.392 L 1173.168 502.944 L 1173.6 532.230 L 1174.032 503.784 L 1174.464 564.228 L 1174.896 500.832 L 1175.328 531.029 L 1175.76 496.8 L 1176.192 551.088 L 1176.624 488.736 L 1177.056 536.4 L 1177.488 433.08 L 1177.92 536.4 L 1178.352 433.08 L 1178.784 540 L 1179.216 467.712 L 1179.648 514.464 L 1180.08 469.44 L 1180.512 509.76 L 1180.944 466.704 L 1181.376 498.24 L 1181.808 453.264 L 1182.24 466.181 L 1182.672 445.68 L 1183.104 483.648 L 1183.536 437.04 L 1183.968 480.96 L 1184.4 439.056 L 1184.832 480.902 L 1185.264 432.201 L 1185.696 470.893 L 1186.128 442.143 L 1186.56 479.52 L 1186.992 444.96 L 1187.424 472.734 M 1188.72 388.8 L 1189.152 597.6 L 1189.584 383.31 L 1190.016 471.999 L 1190.448 380.07 L 1190.88 597.6 L 1191.312 391.901 L 1191.744 560.16 L 1192.176 386.352 L 1192.608 465.12 L 1193.04 388.08 L 1193.472 542.16 L 1193.904 396.36 L 1194.336 542.16 L 1194.768 397.818 L 1195.2 467.099 L 1195.632 396.144 L 1196.064 482.4 L 1196.496 401.616 L 1196.928 447.84 L 1197.36 406.8 L 1197.792 446.976 L 1198.224 416.415 L 1198.656 447.408 L 1199.088 407.826 L 1199.52 425.488 L 1199.952 410.454 L 1200.384 446.724 L 1200.816 419.507 L 1201.248 449.748 L 1201.68 411.84 L 1202.112 500.04 L 1202.544 420.48 L 1202.976 500.04 L 1203.408 429.12 L 1203.84 502.02 L 1204.272 429.48 L 1204.704 509.04 L 1205.136 449.735 L 1205.568 517.68 L 1206 437.04 L 1206.432 554.4 L 1206.864 440.424 L 1207.296 554.4 L 1207.728 468.793 L 1208.16 554.4 L 1208.592 457.056 L 1209.024 562.68 L 1209.456 450.048 L 1209.888 562.68 L 1210.32 438.12 L 1210.752 541.388 L 1211.184 445.05 L 1211.616 500.544 L 1212.048 443.616 L 1212.48 464.150 L 1212.912 436.824 L 1213.344 483.84 L 1213.776 406.368 L 1214.208 510.48 L 1214.64 402.522 L 1215.072 510.48 L 1215.504 433.398 L 1215.936 489.188 L 1216.368 409.41 L 1216.8 446.4 L 1217.232 414.696 L 1217.664 446.4 L 1218.096 414.408 L 1218.528 457.2 L 1218.96 416.88 L 1219.392 487.08 L 1219.824 427.934 L 1220.256 464.832 L 1220.688 410.4 L 1221.12 457.2 L 1221.552 412.848 L 1221.984 464.4 L 1222.416 415.872 L 1222.848 464.4 L 1223.28 432 L 1223.712 497.808 L 1224.144 461.808 L 1224.576 517.68 L 1225.008 468.144 L 1225.44 517.68 L 1225.872 477.648 L 1226.304 512.352 L 1226.736 476.304 L 1227.168 510.624 L 1227.6 468.72 L 1228.032 504.052 L 1228.464 456.21 L 1228.896 533.16 L 1229.328 446.49 L 1229.76 531.4 L 1230.192 459.552 L 1230.624 523.824 L 1231.056 444.576 L 1231.488 517.248 L 1231.92 450.096 L 1232.352 493.324 L 1232.784 424.224 L 1233.216 513.792 L 1233.648 427.968 L 1234.08 511.2 L 1234.512 435.744 L 1234.944 510.768 L 1235.376 446.112 L 1235.808 517.68 L 1236.24 460.08 L 1236.672 485.300 L 1237.104 461.402 L 1237.536 529.344 L 1237.968 459.648 L 1238.4 547.2 L 1238.832 464.76 L 1239.264 570.6 L 1239.696 468 L 1240.128 579.06 L 1240.56 446.4 L 1240.992 562.086 L 1241.424 421.56 L 1241.856 486.018 L 1242.288 421.56 L 1242.72 576 L 1243.152 465.12 L 1243.584 597.6 L 1244.016 473.76 L 1244.448 597.6 L 1244.88 504 
" clip-path="url(#pd7421a44a7)" style="fill: none; stroke: #ff0000; stroke-width: 1.9; stroke-linecap: square"/>
</g>
<g id="patch_103">
<path d="M 886.32 591.84 L 886.32 344.16 
" style="fill: none; stroke: #000000; stroke-width: 1.5; stroke-linejoin: miter; stroke-linecap: square"/>
</g>
<g id="patch_104">
<path d="M 1296 591.84 L 1296 344.16 
" style="fill: none; stroke: #ff0000; stroke-width: 1.5; stroke-linejoin: miter; stroke-linecap: square"/>
</g>
<g id="patch_105">
<path d="M 886.32 591.84 L 1296 591.84 
" style="fill: none; stroke: #000000; stroke-width: 1.5; stroke-linejoin: miter; stroke-linecap: square"/>
</g>
<g id="patch_106">
<path d="M 886.32 344.16 L 1296 344.16 
" style="fill: none; stroke: #000000; stroke-width: 1.5; stroke-linejoin: miter; stroke-linecap: square"/>
</g>
</g>
<g id="axes_8">
<g id="patch_107">
<path d="M 886.32 732.24 L 1296 732.24 L 1296 608.4 L 886.32 608.4 z
" style="fill: #ffffff"/>
</g>
<g id="matplotlib.axis_13">
<g id="xtick_41">
<g id="line2d_187">
<g>
<path d="M 914.040 732.240 L 914.040 728.740" style="stroke: #000000; stroke-width: 0.8"/>
</g>
</g>
<g id="text_68">
<text style="font-size: 14.4px; font-family: 'DejaVu Sans', sans-serif; text-anchor: middle" x="913.886" y="746.681" transform="rotate(-0 913.886 746.681)">14</text>
</g>
</g>
<g id="xtick_42">
<g id="line2d_188">
<g>
<path d="M 965.160 732.240 L 965.160 728.740" style="stroke: #000000; stroke-width: 0.8"/>
</g>
</g>
<g id="text_69">
<text style="font-size: 14.4px; font-family: 'DejaVu Sans', sans-serif; text-anchor: middle" x="965.096" y="746.681" transform="rotate(-0 965.096 746.681)">15</text>
</g>
</g>
<g id="xtick_43">
<g id="line2d_189">
<g>
<path d="M 1016.280 732.240 L 1016.280 728.740" style="stroke: #000000; stroke-width: 0.8"/>
</g>
</g>
<g id="text_70">
<text style="font-size: 14.4px; font-family: 'DejaVu Sans', sans-serif; text-anchor: middle" x="1016.306" y="746.681" transform="rotate(-0 1016.306 746.681)">16</text>
</g>
</g>
<g id="xtick_44">
<g id="line2d_190">
<g>
<path d="M 1067.400 732.240 L 1067.400 728.740" style="stroke: #000000; stroke-width: 0.8"/>
</g>
</g>
<g id="text_71">
<text style="font-size: 14.4px; font-family: 'DejaVu Sans', sans-serif; text-anchor: middle" x="1067.516" y="746.681" transform="rotate(-0 1067.516 746.681)">17</text>
</g>
</g>
<g id="xtick_45">
<g id="line2d_191">
<g>
<path d="M 1118.520 732.240 L 1118.520 728.740" style="stroke: #000000; stroke-width: 0.8"/>
</g>
</g>
<g id="text_72">
<text style="font-size: 14.4px; font-family: 'DejaVu Sans', sans-serif; text-anchor: middle" x="1118.726" y="746.681" transform="rotate(-0 1118.726 746.681)">18</text>
</g>
</g>
<g id="xtick_46">
<g id="line2d_192">
<g>
<path d="M 1169.640 732.240 L 1169.640 728.740" style="stroke: #000000; stroke-width: 0.8"/>
</g>
</g>
<g id="text_73">
<text style="font-size: 14.4px; font-family: 'DejaVu Sans', sans-serif; text-anchor: middle" x="1169.936" y="746.681" transform="rotate(-0 1169.936 746.681)">19</text>
</g>
</g>
<g id="xtick_47">
<g id="line2d_193">
<g>
<path d="M 1221.480 732.240 L 1221.480 728.740" style="stroke: #000000; stroke-width: 0.8"/>
</g>
</g>
<g id="text_74">
<text style="font-size: 14.4px; font-family: 'DejaVu Sans', sans-serif; text-anchor: middle" x="1221.146" y="746.681" transform="rotate(-0 1221.146 746.681)">20</text>
</g>
</g>
<g id="xtick_48">
<g id="line2d_194">
<g>
<path d="M 1272.600 732.240 L 1272.600 728.740" style="stroke: #000000; stroke-width: 0.8"/>
</g>
</g>
<g id="text_75">
<text style="font-size: 14.4px; font-family: 'DejaVu Sans', sans-serif; text-anchor: middle" x="1272.356" y="746.681" transform="rotate(-0 1272.356 746.681)">21</text>
</g>
</g>
<g id="text_76">
<text style="font-size: 17.28px; font-family: 'DejaVu Sans', sans-serif" transform="translate(1039.421 767.830)">March/April </text>
<text style="font-size: 17.28px; font-family: 'DejaVu Sans', sans-serif" transform="translate(1048.370 787.896)">2025 (UT)</text>
</g>
</g>
<g id="matplotlib.axis_14">
<g id="ytick_98">
<g id="line2d_195">
<g>
<path d="M 886.320 732.600 L 890.320 732.600" style="stroke: #000000; stroke-width: 0.8"/>
</g>
</g>
<g id="line2d_196">
<g>
<path d="M 1296.000 732.600 L 1292.000 732.600" style="stroke: #000000; stroke-width: 0.8"/>
</g>
</g>
<g id="text_77">
<g transform="translate(849.700 738.431)">
<text xml:space="preserve"><tspan x="0.00" y="-0.498" style="font-size: 14.4px; font-family: 'DejaVu Sans', sans-serif">10</tspan><tspan x="18.43" y="-5.14" style="font-size: 10.08px; font-family: 'DejaVu Sans', sans-serif">−1</tspan></text>
</g>
</g>
</g>
<g id="ytick_99">
<g id="line2d_197">
<g>
<path d="M 886.320 701.640 L 890.320 701.640" style="stroke: #000000; stroke-width: 0.8"/>
</g>
</g>
<g id="line2d_198">
<g>
<path d="M 1296.000 701.640 L 1292.000 701.640" style="stroke: #000000; stroke-width: 0.8"/>
</g>
</g>
<g id="text_78">
<g transform="translate(858.196 707.471)">
<text xml:space="preserve"><tspan x="0.00" y="-0.367" style="font-size: 14.4px; font-family: 'DejaVu Sans', sans-serif">10</tspan><tspan x="18.43" y="-5.01" style="font-size: 10.08px; font-family: 'DejaVu Sans', sans-serif">0</tspan></text>
</g>
</g>
</g>
<g id="ytick_100">
<g id="line2d_199">
<g>
<path d="M 886.320 670.680 L 890.320 670.680" style="stroke: #000000; stroke-width: 0.8"/>
</g>
</g>
<g id="line2d_200">
<g>
<path d="M 1296.000 670.680 L 1292.000 670.680" style="stroke: #000000; stroke-width: 0.8"/>
</g>
</g>
<g id="text_79">
<g transform="translate(858.196 676.511)">
<text xml:space="preserve"><tspan x="0.00" y="-0.498" style="font-size: 14.4px; font-family: 'DejaVu Sans', sans-serif">10</tspan><tspan x="18.43" y="-5.14" style="font-size: 10.08px; font-family: 'DejaVu Sans', sans-serif">1</tspan></text>
</g>
</g>
</g>
<g id="ytick_101">
<g id="line2d_201">
<g>
<path d="M 886.320 639.720 L 890.320 639.720" style="stroke: #000000; stroke-width: 0.8"/>
</g>
</g>
<g id="line2d_202">
<g>
<path d="M 1296.000 639.720 L 1292.000 639.720" style="stroke: #000000; stroke-width: 0.8"/>
</g>
</g>
<g id="text_80">
<g transform="translate(858.196 645.551)">
<text xml:space="preserve"><tspan x="0.00" y="-0.367" style="font-size: 14.4px; font-family: 'DejaVu Sans', sans-serif">10</tspan><tspan x="18.43" y="-5.01" style="font-size: 10.08px; font-family: 'DejaVu Sans', sans-serif">2</tspan></text>
</g>
</g>
</g>
<g id="ytick_102">
<g id="line2d_203">
<g>
<path d="M 886.320 608.760 L 890.320 608.760" style="stroke: #000000; stroke-width: 0.8"/>
</g>
</g>
<g id="line2d_204">
<g>
<path d="M 1296.000 608.760 L 1292.000 608.760" style="stroke: #000000; stroke-width: 0.8"/>
</g>
</g>
<g id="text_81">
<g transform="translate(858.196 614.591)">
<text xml:space="preserve"><tspan x="0.00" y="-0.367" style="font-size: 14.4px; font-family: 'DejaVu Sans', sans-serif">10</tspan><tspan x="18.43" y="-5.01" style="font-size: 10.08px; font-family: 'DejaVu Sans', sans-serif">3</tspan></text>
</g>
</g>
</g>
<g id="ytick_103">
<g id="line2d_205">
<g>
<path d="M 886.320 723.240 L 888.820 723.240" style="stroke: #000000; stroke-width: 0.6"/>
</g>
</g>
<g id="line2d_206">
<g>
<path d="M 1296.000 723.240 L 1293.500 723.240" style="stroke: #000000; stroke-width: 0.6"/>
</g>
</g>
</g>
<g id="ytick_104">
<g id="line2d_207">
<g>
<path d="M 886.320 717.480 L 888.820 717.480" style="stroke: #000000; stroke-width: 0.6"/>
</g>
</g>
<g id="line2d_208">
<g>
<path d="M 1296.000 717.480 L 1293.500 717.480" style="stroke: #000000; stroke-width: 0.6"/>
</g>
</g>
</g>
<g id="ytick_105">
<g id="line2d_209">
<g>
<path d="M 886.320 713.880 L 888.820 713.880" style="stroke: #000000; stroke-width: 0.6"/>
</g>
</g>
<g id="line2d_210">
<g>
<path d="M 1296.000 713.880 L 1293.500 713.880" style="stroke: #000000; stroke-width: 0.6"/>
</g>
</g>
</g>
<g id="ytick_106">
<g id="line2d_211">
<g>
<path d="M 886.320 710.280 L 888.820 710.280" style="stroke: #000000; stroke-width: 0.6"/>
</g>
</g>
<g id="line2d_212">
<g>
<path d="M 1296.000 710.280 L 1293.500 710.280" style="stroke: #000000; stroke-width: 0.6"/>
</g>
</g>
</g>
<g id="ytick_107">
<g id="line2d_213">
<g>
<path d="M 886.320 708.120 L 888.820 708.120" style="stroke: #000000; stroke-width: 0.6"/>
</g>
</g>
<g id="line2d_214">
<g>
<path d="M 1296.000 708.120 L 1293.500 708.120" style="stroke: #000000; stroke-width: 0.6"/>
</g>
</g>
</g>
<g id="ytick_108">
<g id="line2d_215">
<g>
<path d="M 886.320 705.960 L 888.820 705.960" style="stroke: #000000; stroke-width: 0.6"/>
</g>
</g>
<g id="line2d_216">
<g>
<path d="M 1296.000 705.960 L 1293.500 705.960" style="stroke: #000000; stroke-width: 0.6"/>
</g>
</g>
</g>
<g id="ytick_109">
<g id="line2d_217">
<g>
<path d="M 886.320 704.520 L 888.820 704.520" style="stroke: #000000; stroke-width: 0.6"/>
</g>
</g>
<g id="line2d_218">
<g>
<path d="M 1296.000 704.520 L 1293.500 704.520" style="stroke: #000000; stroke-width: 0.6"/>
</g>
</g>
</g>
<g id="ytick_110">
<g id="line2d_219">
<g>
<path d="M 886.320 702.360 L 888.820 702.360" style="stroke: #000000; stroke-width: 0.6"/>
</g>
</g>
<g id="line2d_220">
<g>
<path d="M 1296.000 702.360 L 1293.500 702.360" style="stroke: #000000; stroke-width: 0.6"/>
</g>
</g>
</g>
<g id="ytick_111">
<g id="line2d_221">
<g>
<path d="M 886.320 692.280 L 888.820 692.280" style="stroke: #000000; stroke-width: 0.6"/>
</g>
</g>
<g id="line2d_222">
<g>
<path d="M 1296.000 692.280 L 1293.500 692.280" style="stroke: #000000; stroke-width: 0.6"/>
</g>
</g>
</g>
<g id="ytick_112">
<g id="line2d_223">
<g>
<path d="M 886.320 686.520 L 888.820 686.520" style="stroke: #000000; stroke-width: 0.6"/>
</g>
</g>
<g id="line2d_224">
<g>
<path d="M 1296.000 686.520 L 1293.500 686.520" style="stroke: #000000; stroke-width: 0.6"/>
</g>
</g>
</g>
<g id="ytick_113">
<g id="line2d_225">
<g>
<path d="M 886.320 682.920 L 888.820 682.920" style="stroke: #000000; stroke-width: 0.6"/>
</g>
</g>
<g id="line2d_226">
<g>
<path d="M 1296.000 682.920 L 1293.500 682.920" style="stroke: #000000; stroke-width: 0.6"/>
</g>
</g>
</g>
<g id="ytick_114">
<g id="line2d_227">
<g>
<path d="M 886.320 679.320 L 888.820 679.320" style="stroke: #000000; stroke-width: 0.6"/>
</g>
</g>
<g id="line2d_228">
<g>
<path d="M 1296.000 679.320 L 1293.500 679.320" style="stroke: #000000; stroke-width: 0.6"/>
</g>
</g>
</g>
<g id="ytick_115">
<g id="line2d_229">
<g>
<path d="M 886.320 677.160 L 888.820 677.160" style="stroke: #000000; stroke-width: 0.6"/>
</g>
</g>
<g id="line2d_230">
<g>
<path d="M 1296.000 677.160 L 1293.500 677.160" style="stroke: #000000; stroke-width: 0.6"/>
</g>
</g>
</g>
<g id="ytick_116">
<g id="line2d_231">
<g>
<path d="M 886.320 675.000 L 888.820 675.000" style="stroke: #000000; stroke-width: 0.6"/>
</g>
</g>
<g id="line2d_232">
<g>
<path d="M 1296.000 675.000 L 1293.500 675.000" style="stroke: #000000; stroke-width: 0.6"/>
</g>
</g>
</g>
<g id="ytick_117">
<g id="line2d_233">
<g>
<path d="M 886.320 673.560 L 888.820 673.560" style="stroke: #000000; stroke-width: 0.6"/>
</g>
</g>
<g id="line2d_234">
<g>
<path d="M 1296.000 673.560 L 1293.500 673.560" style="stroke: #000000; stroke-width: 0.6"/>
</g>
</g>
</g>
<g id="ytick_118">
<g id="line2d_235">
<g>
<path d="M 886.320 671.400 L 888.820 671.400" style="stroke: #000000; stroke-width: 0.6"/>
</g>
</g>
<g id="line2d_236">
<g>
<path d="M 1296.000 671.400 L 1293.500 671.400" style="stroke: #000000; stroke-width: 0.6"/>
</g>
</g>
</g>
<g id="ytick_119">
<g id="line2d_237">
<g>
<path d="M 886.320 661.320 L 888.820 661.320" style="stroke: #000000; stroke-width: 0.6"/>
</g>
</g>
<g id="line2d_238">
<g>
<path d="M 1296.000 661.320 L 1293.500 661.320" style="stroke: #000000; stroke-width: 0.6"/>
</g>
</g>
</g>
<g id="ytick_120">
<g id="line2d_239">
<g>
<path d="M 886.320 655.560 L 888.820 655.560" style="stroke: #000000; stroke-width: 0.6"/>
</g>
</g>
<g id="line2d_240">
<g>
<path d="M 1296.000 655.560 L 1293.500 655.560" style="stroke: #000000; stroke-width: 0.6"/>
</g>
</g>
</g>
<g id="ytick_121">
<g id="line2d_241">
<g>
<path d="M 886.320 651.960 L 888.820 651.960" style="stroke: #000000; stroke-width: 0.6"/>
</g>
</g>
<g id="line2d_242">
<g>
<path d="M 1296.000 651.960 L 1293.500 651.960" style="stroke: #000000; stroke-width: 0.6"/>
</g>
</g>
</g>
<g id="ytick_122">
<g id="line2d_243">
<g>
<path d="M 886.320 648.360 L 888.820 648.360" style="stroke: #000000; stroke-width: 0.6"/>
</g>
</g>
<g id="line2d_244">
<g>
<path d="M 1296.000 648.360 L 1293.500 648.360" style="stroke: #000000; stroke-width: 0.6"/>
</g>
</g>
</g>
<g id="ytick_123">
<g id="line2d_245">
<g>
<path d="M 886.320 646.200 L 888.820 646.200" style="stroke: #000000; stroke-width: 0.6"/>
</g>
</g>
<g id="line2d_246">
<g>
<path d="M 1296.000 646.200 L 1293.500 646.200" style="stroke: #000000; stroke-width: 0.6"/>
</g>
</g>
</g>
<g id="ytick_124">
<g id="line2d_247">
<g>
<path d="M 886.320 644.040 L 888.820 644.040" style="stroke: #000000; stroke-width: 0.6"/>
</g>
</g>
<g id="line2d_248">
<g>
<path d="M 1296.000 644.040 L 1293.500 644.040" style="stroke: #000000; stroke-width: 0.6"/>
</g>
</g>
</g>
<g id="ytick_125">
<g id="line2d_249">
<g>
<path d="M 886.320 642.600 L 888.820 642.600" style="stroke: #000000; stroke-width: 0.6"/>
</g>
</g>
<g id="line2d_250">
<g>
<path d="M 1296.000 642.600 L 1293.500 642.600" style="stroke: #000000; stroke-width: 0.6"/>
</g>
</g>
</g>
<g id="ytick_126">
<g id="line2d_251">
<g>
<path d="M 886.320 640.440 L 888.820 640.440" style="stroke: #000000; stroke-width: 0.6"/>
</g>
</g>
<g id="line2d_252">
<g>
<path d="M 1296.000 640.440 L 1293.500 640.440" style="stroke: #000000; stroke-width: 0.6"/>
</g>
</g>
</g>
<g id="ytick_127">
<g id="line2d_253">
<g>
<path d="M 886.320 630.360 L 888.820 630.360" style="stroke: #000000; stroke-width: 0.6"/>
</g>
</g>
<g id="line2d_254">
<g>
<path d="M 1296.000 630.360 L 1293.500 630.360" style="stroke: #000000; stroke-width: 0.6"/>
</g>
</g>
</g>
<g id="ytick_128">
<g id="line2d_255">
<g>
<path d="M 886.320 624.600 L 888.820 624.600" style="stroke: #000000; stroke-width: 0.6"/>
</g>
</g>
<g id="line2d_256">
<g>
<path d="M 1296.000 624.600 L 1293.500 624.600" style="stroke: #000000; stroke-width: 0.6"/>
</g>
</g>
</g>
<g id="ytick_129">
<g id="line2d_257">
<g>
<path d="M 886.320 621.000 L 888.820 621.000" style="stroke: #000000; stroke-width: 0.6"/>
</g>
</g>
<g id="line2d_258">
<g>
<path d="M 1296.000 621.000 L 1293.500 621.000" style="stroke: #000000; stroke-width: 0.6"/>
</g>
</g>
</g>
<g id="ytick_130">
<g id="line2d_259">
<g>
<path d="M 886.320 617.400 L 888.820 617.400" style="stroke: #000000; stroke-width: 0.6"/>
</g>
</g>
<g id="line2d_260">
<g>
<path d="M 1296.000 617.400 L 1293.500 617.400" style="stroke: #000000; stroke-width: 0.6"/>
</g>
</g>
</g>
<g id="ytick_131">
<g id="line2d_261">
<g>
<path d="M 886.320 615.240 L 888.820 615.240" style="stroke: #000000; stroke-width: 0.6"/>
</g>
</g>
<g id="line2d_262">
<g>
<path d="M 1296.000 615.240 L 1293.500 615.240" style="stroke: #000000; stroke-width: 0.6"/>
</g>
</g>
</g>
<g id="ytick_132">
<g id="line2d_263">
<g>
<path d="M 886.320 613.080 L 888.820 613.080" style="stroke: #000000; stroke-width: 0.6"/>
</g>
</g>
<g id="line2d_264">
<g>
<path d="M 1296.000 613.080 L 1293.500 613.080" style="stroke: #000000; stroke-width: 0.6"/>
</g>
</g>
</g>
<g id="ytick_133">
<g id="line2d_265">
<g>
<path d="M 886.320 611.640 L 888.820 611.640" style="stroke: #000000; stroke-width: 0.6"/>
</g>
</g>
<g id="line2d_266">
<g>
<path d="M 1296.000 611.640 L 1293.500 611.640" style="stroke: #000000; stroke-width: 0.6"/>
</g>
</g>
</g>
<g id="ytick_134">
<g id="line2d_267">
<g>
<path d="M 886.320 609.480 L 888.820 609.480" style="stroke: #000000; stroke-width: 0.6"/>
</g>
</g>
<g id="line2d_268">
<g>
<path d="M 1296.000 609.480 L 1293.500 609.480" style="stroke: #000000; stroke-width: 0.6"/>
</g>
</g>
</g>
<g id="text_82">
<text style="font-size: 17.28px; font-family: 'DejaVu Sans', sans-serif" transform="translate(816.329 762.718) rotate(-90)">&gt;10 MeV Proton Flux</text>
<g transform="translate(839.470 734.602) rotate(-90)">
<text xml:space="preserve"><tspan x="0.00" y="-0.654" style="font-size: 17.28px; font-family: 'DejaVu Sans', sans-serif">( cm</tspan><tspan x="38.66" y="-7.162" style="font-size: 12.096px; font-family: 'DejaVu Sans', sans-serif">2</tspan><tspan x="49.61" y="-0.654" style="font-size: 17.28px; font-family: 'DejaVu Sans', sans-serif">s</tspan><tspan x="58.76" y="-7.162" style="font-size: 12.096px; font-family: 'DejaVu Sans', sans-serif">−1</tspan><tspan x="79.83" y="-0.654" style="font-size: 17.28px; font-family: 'DejaVu Sans', sans-serif">sr</tspan><tspan x="96.07" y="-7.162" style="font-size: 12.096px; font-family: 'DejaVu Sans', sans-serif">−1</tspan><tspan x="114.33" y="-0.654" style="font-size: 17.28px; font-family: 'DejaVu Sans', sans-serif"> )</tspan></text>
</g>
</g>
</g>
<g id="line2d_269">
<path d="M 886.32 670.32 L 1296 670.32 
" clip-path="url(#p02c06fe942)" style="fill: none; stroke-dasharray: 1.5,2.475; stroke-dashoffset: 0; stroke: #000000; stroke-width: 1.5"/>
</g>
<g id="line2d_270">
<path d="M 1245.148 732.24 L 1245.148 608.4 
" clip-path="url(#p02c06fe942)" style="fill: none; stroke-dasharray: 2,3.3; stroke-dashoffset: 0; stroke: #000000; stroke-width: 2"/>
</g>
<g id="patch_108">
<path d="M 886.32 732.24 L 886.32 608.4 
" style="fill: none; stroke: #000000; stroke-width: 1.5; stroke-linejoin: miter; stroke-linecap: square"/>
</g>
<g id="patch_109">
<path d="M 1296 732.24 L 1296 608.4 
" style="fill: none; stroke: #000000; stroke-width: 1.5; stroke-linejoin: miter; stroke-linecap: square"/>
</g>
<g id="patch_110">
<path d="M 886.32 732.24 L 1296 732.24 
" style="fill: none; stroke: #000000; stroke-width: 1.5; stroke-linejoin: miter; stroke-linecap: square"/>
</g>
<g id="patch_111">
<path d="M 886.32 608.4 L 1296 608.4 
" style="fill: none; stroke: #000000; stroke-width: 1.5; stroke-linejoin: miter; stroke-linecap: square"/>
</g>
</g>
<g id="text_83">
<text style="font-size: 17.28px; font-family: 'DejaVu Sans', sans-serif; text-anchor: middle" x="720" y="29.834" transform="rotate(-0 720 29.834)">BAS-RBM Relativistic Electron Forecast, issued at 23:06 UT, 20 January 2026</text>
</g>
</g>
<defs>
<clipPath id="p100f9cde19">
<rect x="144" y="608.4" width="614.16" height="123.84"/>
</clipPath>
<clipPath id="pf775a465e1">
<rect x="886.32" y="79.2" width="409.68" height="248.4"/>
</clipPath>
<clipPath id="pd7421a44a7">
<rect x="886.32" y="344.16" width="409.68" height="247.68"/>
</clipPath>
<clipPath id="p02c06fe942">
<rect x="886.32" y="608.4" width="409.68" height="123.84"/>
</clipPath>
</defs>
</svg>

</body></html>
